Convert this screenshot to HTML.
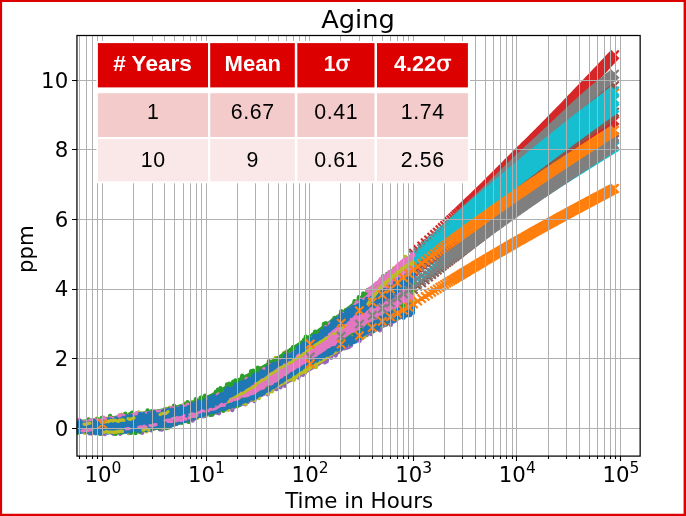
<!DOCTYPE html>
<html lang="en"><head><meta charset="utf-8"><title>Aging</title>
<style>html,body{margin:0;padding:0;background:#fff;overflow:hidden}svg{display:block}</style>
</head><body>
<svg width="686" height="516" viewBox="0 0 686 516">
<rect x="0" y="0" width="686" height="516" fill="#fff"/>
<defs><clipPath id="ax"><rect x="76.95" y="35.5" width="563.1999999999999" height="420.6"/></clipPath></defs>
<g clip-path="url(#ax)">
<path d="M409.3 248.9l8.34 8.34m0-8.34l-8.34 8.34M413.5 245.2l8.34 8.34m0-8.34l-8.34 8.34M417.5 241.8l8.34 8.34m0-8.34l-8.34 8.34M421.0 238.6l8.34 8.34m0-8.34l-8.34 8.34M424.4 235.7l8.34 8.34m0-8.34l-8.34 8.34M427.5 232.9l8.34 8.34m0-8.34l-8.34 8.34M430.4 230.3l8.34 8.34m0-8.34l-8.34 8.34M433.1 227.9l8.34 8.34m0-8.34l-8.34 8.34M435.7 225.5l8.34 8.34m0-8.34l-8.34 8.34M438.1 223.3l8.34 8.34m0-8.34l-8.34 8.34M440.4 221.2l8.34 8.34m0-8.34l-8.34 8.34M442.6 219.2l8.34 8.34m0-8.34l-8.34 8.34M444.7 217.3l8.34 8.34m0-8.34l-8.34 8.34M446.7 215.5l8.34 8.34m0-8.34l-8.34 8.34M448.6 213.7l8.34 8.34m0-8.34l-8.34 8.34M450.5 212.0l8.34 8.34m0-8.34l-8.34 8.34M452.2 210.3l8.34 8.34m0-8.34l-8.34 8.34M453.9 208.8l8.34 8.34m0-8.34l-8.34 8.34M455.6 207.2l8.34 8.34m0-8.34l-8.34 8.34M457.1 205.8l8.34 8.34m0-8.34l-8.34 8.34M458.7 204.3l8.34 8.34m0-8.34l-8.34 8.34M460.1 202.9l8.34 8.34m0-8.34l-8.34 8.34M461.6 201.6l8.34 8.34m0-8.34l-8.34 8.34M462.9 200.3l8.34 8.34m0-8.34l-8.34 8.34M464.3 199.0l8.34 8.34m0-8.34l-8.34 8.34M465.6 197.8l8.34 8.34m0-8.34l-8.34 8.34M466.9 196.6l8.34 8.34m0-8.34l-8.34 8.34M468.1 195.4l8.34 8.34m0-8.34l-8.34 8.34M469.3 194.3l8.34 8.34m0-8.34l-8.34 8.34M470.5 193.2l8.34 8.34m0-8.34l-8.34 8.34M471.6 192.1l8.34 8.34m0-8.34l-8.34 8.34M472.7 191.0l8.34 8.34m0-8.34l-8.34 8.34M473.8 190.0l8.34 8.34m0-8.34l-8.34 8.34M474.8 189.0l8.34 8.34m0-8.34l-8.34 8.34M475.9 188.0l8.34 8.34m0-8.34l-8.34 8.34M476.9 187.0l8.34 8.34m0-8.34l-8.34 8.34M477.9 186.0l8.34 8.34m0-8.34l-8.34 8.34M478.8 185.1l8.34 8.34m0-8.34l-8.34 8.34M479.8 184.2l8.34 8.34m0-8.34l-8.34 8.34M480.7 183.3l8.34 8.34m0-8.34l-8.34 8.34M481.6 182.4l8.34 8.34m0-8.34l-8.34 8.34M482.5 181.5l8.34 8.34m0-8.34l-8.34 8.34M483.4 180.6l8.34 8.34m0-8.34l-8.34 8.34M484.3 179.8l8.34 8.34m0-8.34l-8.34 8.34M485.1 178.9l8.34 8.34m0-8.34l-8.34 8.34M485.9 178.1l8.34 8.34m0-8.34l-8.34 8.34M486.7 177.3l8.34 8.34m0-8.34l-8.34 8.34M487.5 176.5l8.34 8.34m0-8.34l-8.34 8.34M488.3 175.7l8.34 8.34m0-8.34l-8.34 8.34M489.8 174.2l8.34 8.34m0-8.34l-8.34 8.34M491.3 172.7l8.34 8.34m0-8.34l-8.34 8.34M492.7 171.3l8.34 8.34m0-8.34l-8.34 8.34M494.1 169.9l8.34 8.34m0-8.34l-8.34 8.34M495.5 168.6l8.34 8.34m0-8.34l-8.34 8.34M496.8 167.3l8.34 8.34m0-8.34l-8.34 8.34M498.0 166.0l8.34 8.34m0-8.34l-8.34 8.34M499.3 164.8l8.34 8.34m0-8.34l-8.34 8.34M500.5 163.6l8.34 8.34m0-8.34l-8.34 8.34M501.6 162.4l8.34 8.34m0-8.34l-8.34 8.34M502.8 161.2l8.34 8.34m0-8.34l-8.34 8.34M503.9 160.1l8.34 8.34m0-8.34l-8.34 8.34M505.0 159.0l8.34 8.34m0-8.34l-8.34 8.34M506.0 158.0l8.34 8.34m0-8.34l-8.34 8.34M507.1 156.9l8.34 8.34m0-8.34l-8.34 8.34M508.1 155.9l8.34 8.34m0-8.34l-8.34 8.34M509.1 154.9l8.34 8.34m0-8.34l-8.34 8.34M510.0 154.0l8.34 8.34m0-8.34l-8.34 8.34M511.0 153.0l8.34 8.34m0-8.34l-8.34 8.34M511.9 152.1l8.34 8.34m0-8.34l-8.34 8.34M512.8 151.2l8.34 8.34m0-8.34l-8.34 8.34M513.7 150.3l8.34 8.34m0-8.34l-8.34 8.34M514.6 149.4l8.34 8.34m0-8.34l-8.34 8.34M515.4 148.6l8.34 8.34m0-8.34l-8.34 8.34M516.3 147.8l8.34 8.34m0-8.34l-8.34 8.34M517.1 146.9l8.34 8.34m0-8.34l-8.34 8.34M517.9 146.1l8.34 8.34m0-8.34l-8.34 8.34M518.7 145.4l8.34 8.34m0-8.34l-8.34 8.34M519.9 144.2l8.34 8.34m0-8.34l-8.34 8.34M521.0 143.1l8.34 8.34m0-8.34l-8.34 8.34M522.1 142.0l8.34 8.34m0-8.34l-8.34 8.34M523.2 140.9l8.34 8.34m0-8.34l-8.34 8.34M524.3 139.9l8.34 8.34m0-8.34l-8.34 8.34M525.3 138.9l8.34 8.34m0-8.34l-8.34 8.34M526.3 137.9l8.34 8.34m0-8.34l-8.34 8.34M527.3 136.9l8.34 8.34m0-8.34l-8.34 8.34M528.3 135.9l8.34 8.34m0-8.34l-8.34 8.34M529.2 135.0l8.34 8.34m0-8.34l-8.34 8.34M530.1 134.1l8.34 8.34m0-8.34l-8.34 8.34M531.1 133.2l8.34 8.34m0-8.34l-8.34 8.34M531.9 132.3l8.34 8.34m0-8.34l-8.34 8.34M532.8 131.4l8.34 8.34m0-8.34l-8.34 8.34M533.7 130.6l8.34 8.34m0-8.34l-8.34 8.34M534.5 129.7l8.34 8.34m0-8.34l-8.34 8.34M535.3 128.9l8.34 8.34m0-8.34l-8.34 8.34M536.2 128.1l8.34 8.34m0-8.34l-8.34 8.34M537.0 127.3l8.34 8.34m0-8.34l-8.34 8.34M537.7 126.5l8.34 8.34m0-8.34l-8.34 8.34M538.8 125.5l8.34 8.34m0-8.34l-8.34 8.34M539.8 124.5l8.34 8.34m0-8.34l-8.34 8.34M540.7 123.5l8.34 8.34m0-8.34l-8.34 8.34M541.7 122.6l8.34 8.34m0-8.34l-8.34 8.34M542.6 121.6l8.34 8.34m0-8.34l-8.34 8.34M543.5 120.7l8.34 8.34m0-8.34l-8.34 8.34M544.4 119.8l8.34 8.34m0-8.34l-8.34 8.34M545.3 118.9l8.34 8.34m0-8.34l-8.34 8.34M546.2 118.0l8.34 8.34m0-8.34l-8.34 8.34M547.0 117.1l8.34 8.34m0-8.34l-8.34 8.34M547.9 116.3l8.34 8.34m0-8.34l-8.34 8.34M548.7 115.4l8.34 8.34m0-8.34l-8.34 8.34M549.5 114.6l8.34 8.34m0-8.34l-8.34 8.34M550.3 113.8l8.34 8.34m0-8.34l-8.34 8.34M551.1 113.0l8.34 8.34m0-8.34l-8.34 8.34M552.0 112.0l8.34 8.34m0-8.34l-8.34 8.34M552.9 111.1l8.34 8.34m0-8.34l-8.34 8.34M553.9 110.1l8.34 8.34m0-8.34l-8.34 8.34M554.8 109.2l8.34 8.34m0-8.34l-8.34 8.34M555.6 108.3l8.34 8.34m0-8.34l-8.34 8.34M556.5 107.4l8.34 8.34m0-8.34l-8.34 8.34M557.3 106.6l8.34 8.34m0-8.34l-8.34 8.34M558.2 105.7l8.34 8.34m0-8.34l-8.34 8.34M559.0 104.9l8.34 8.34m0-8.34l-8.34 8.34M559.8 104.0l8.34 8.34m0-8.34l-8.34 8.34M560.6 103.2l8.34 8.34m0-8.34l-8.34 8.34M561.3 102.4l8.34 8.34m0-8.34l-8.34 8.34M562.2 101.5l8.34 8.34m0-8.34l-8.34 8.34M563.1 100.6l8.34 8.34m0-8.34l-8.34 8.34M564.0 99.6l8.34 8.34m0-8.34l-8.34 8.34M564.9 98.8l8.34 8.34m0-8.34l-8.34 8.34M565.7 97.9l8.34 8.34m0-8.34l-8.34 8.34M566.5 97.0l8.34 8.34m0-8.34l-8.34 8.34M567.3 96.2l8.34 8.34m0-8.34l-8.34 8.34M568.1 95.3l8.34 8.34m0-8.34l-8.34 8.34M568.9 94.5l8.34 8.34m0-8.34l-8.34 8.34M569.7 93.7l8.34 8.34m0-8.34l-8.34 8.34M570.6 92.8l8.34 8.34m0-8.34l-8.34 8.34M571.4 91.9l8.34 8.34m0-8.34l-8.34 8.34M572.3 91.0l8.34 8.34m0-8.34l-8.34 8.34M573.1 90.1l8.34 8.34m0-8.34l-8.34 8.34M573.9 89.3l8.34 8.34m0-8.34l-8.34 8.34M574.7 88.4l8.34 8.34m0-8.34l-8.34 8.34M575.5 87.6l8.34 8.34m0-8.34l-8.34 8.34M576.3 86.8l8.34 8.34m0-8.34l-8.34 8.34M577.1 86.0l8.34 8.34m0-8.34l-8.34 8.34M577.9 85.1l8.34 8.34m0-8.34l-8.34 8.34M578.8 84.2l8.34 8.34m0-8.34l-8.34 8.34M579.6 83.4l8.34 8.34m0-8.34l-8.34 8.34M580.4 82.5l8.34 8.34m0-8.34l-8.34 8.34M581.2 81.7l8.34 8.34m0-8.34l-8.34 8.34M582.0 80.9l8.34 8.34m0-8.34l-8.34 8.34M582.7 80.1l8.34 8.34m0-8.34l-8.34 8.34M583.6 79.2l8.34 8.34m0-8.34l-8.34 8.34M584.4 78.3l8.34 8.34m0-8.34l-8.34 8.34M585.2 77.4l8.34 8.34m0-8.34l-8.34 8.34M586.0 76.6l8.34 8.34m0-8.34l-8.34 8.34M586.8 75.7l8.34 8.34m0-8.34l-8.34 8.34M587.6 74.9l8.34 8.34m0-8.34l-8.34 8.34M588.4 74.1l8.34 8.34m0-8.34l-8.34 8.34M589.2 73.2l8.34 8.34m0-8.34l-8.34 8.34M590.0 72.4l8.34 8.34m0-8.34l-8.34 8.34M590.8 71.5l8.34 8.34m0-8.34l-8.34 8.34M591.6 70.7l8.34 8.34m0-8.34l-8.34 8.34M592.4 69.9l8.34 8.34m0-8.34l-8.34 8.34M593.1 69.1l8.34 8.34m0-8.34l-8.34 8.34M593.9 68.2l8.34 8.34m0-8.34l-8.34 8.34M594.8 67.3l8.34 8.34m0-8.34l-8.34 8.34M595.6 66.5l8.34 8.34m0-8.34l-8.34 8.34M596.3 65.7l8.34 8.34m0-8.34l-8.34 8.34M597.1 64.9l8.34 8.34m0-8.34l-8.34 8.34M597.9 64.1l8.34 8.34m0-8.34l-8.34 8.34M598.7 63.2l8.34 8.34m0-8.34l-8.34 8.34M599.5 62.3l8.34 8.34m0-8.34l-8.34 8.34M600.2 61.5l8.34 8.34m0-8.34l-8.34 8.34M601.0 60.7l8.34 8.34m0-8.34l-8.34 8.34M601.8 59.9l8.34 8.34m0-8.34l-8.34 8.34M602.6 59.0l8.34 8.34m0-8.34l-8.34 8.34M603.3 58.2l8.34 8.34m0-8.34l-8.34 8.34M604.1 57.4l8.34 8.34m0-8.34l-8.34 8.34M604.9 56.5l8.34 8.34m0-8.34l-8.34 8.34M605.7 55.7l8.34 8.34m0-8.34l-8.34 8.34M606.5 54.8l8.34 8.34m0-8.34l-8.34 8.34M607.3 54.0l8.34 8.34m0-8.34l-8.34 8.34M608.0 53.2l8.34 8.34m0-8.34l-8.34 8.34M608.8 52.4l8.34 8.34m0-8.34l-8.34 8.34M609.6 51.5l8.34 8.34m0-8.34l-8.34 8.34M610.4 50.7l8.34 8.34m0-8.34l-8.34 8.34M610.4 50.6l8.34 8.34m0-8.34l-8.34 8.34" stroke="#d62728" stroke-width="2.1" fill="none"/>
<path d="M409.3 256.9l8.34 8.34m0-8.34l-8.34 8.34M413.5 252.8l8.34 8.34m0-8.34l-8.34 8.34M417.5 249.0l8.34 8.34m0-8.34l-8.34 8.34M421.0 245.5l8.34 8.34m0-8.34l-8.34 8.34M424.4 242.3l8.34 8.34m0-8.34l-8.34 8.34M427.5 239.4l8.34 8.34m0-8.34l-8.34 8.34M430.4 236.7l8.34 8.34m0-8.34l-8.34 8.34M433.1 234.1l8.34 8.34m0-8.34l-8.34 8.34M435.7 231.7l8.34 8.34m0-8.34l-8.34 8.34M438.1 229.5l8.34 8.34m0-8.34l-8.34 8.34M440.4 227.4l8.34 8.34m0-8.34l-8.34 8.34M442.6 225.4l8.34 8.34m0-8.34l-8.34 8.34M444.7 223.5l8.34 8.34m0-8.34l-8.34 8.34M446.7 221.6l8.34 8.34m0-8.34l-8.34 8.34M448.6 219.9l8.34 8.34m0-8.34l-8.34 8.34M450.5 218.2l8.34 8.34m0-8.34l-8.34 8.34M452.2 216.6l8.34 8.34m0-8.34l-8.34 8.34M453.9 215.1l8.34 8.34m0-8.34l-8.34 8.34M455.6 213.6l8.34 8.34m0-8.34l-8.34 8.34M457.1 212.1l8.34 8.34m0-8.34l-8.34 8.34M458.7 210.8l8.34 8.34m0-8.34l-8.34 8.34M460.1 209.4l8.34 8.34m0-8.34l-8.34 8.34M461.6 208.1l8.34 8.34m0-8.34l-8.34 8.34M462.9 206.9l8.34 8.34m0-8.34l-8.34 8.34M464.3 205.6l8.34 8.34m0-8.34l-8.34 8.34M465.6 204.5l8.34 8.34m0-8.34l-8.34 8.34M466.9 203.3l8.34 8.34m0-8.34l-8.34 8.34M468.1 202.2l8.34 8.34m0-8.34l-8.34 8.34M469.3 201.1l8.34 8.34m0-8.34l-8.34 8.34M470.5 200.0l8.34 8.34m0-8.34l-8.34 8.34M471.6 199.0l8.34 8.34m0-8.34l-8.34 8.34M472.7 198.0l8.34 8.34m0-8.34l-8.34 8.34M473.8 197.0l8.34 8.34m0-8.34l-8.34 8.34M474.8 196.1l8.34 8.34m0-8.34l-8.34 8.34M475.9 195.1l8.34 8.34m0-8.34l-8.34 8.34M476.9 194.2l8.34 8.34m0-8.34l-8.34 8.34M477.9 193.3l8.34 8.34m0-8.34l-8.34 8.34M478.8 192.5l8.34 8.34m0-8.34l-8.34 8.34M479.8 191.6l8.34 8.34m0-8.34l-8.34 8.34M480.7 190.8l8.34 8.34m0-8.34l-8.34 8.34M481.6 190.0l8.34 8.34m0-8.34l-8.34 8.34M482.5 189.2l8.34 8.34m0-8.34l-8.34 8.34M483.4 188.4l8.34 8.34m0-8.34l-8.34 8.34M484.3 187.6l8.34 8.34m0-8.34l-8.34 8.34M485.1 186.9l8.34 8.34m0-8.34l-8.34 8.34M485.9 186.1l8.34 8.34m0-8.34l-8.34 8.34M487.5 184.7l8.34 8.34m0-8.34l-8.34 8.34M489.1 183.3l8.34 8.34m0-8.34l-8.34 8.34M490.6 182.0l8.34 8.34m0-8.34l-8.34 8.34M492.0 180.7l8.34 8.34m0-8.34l-8.34 8.34M493.4 179.4l8.34 8.34m0-8.34l-8.34 8.34M494.8 178.2l8.34 8.34m0-8.34l-8.34 8.34M496.1 177.1l8.34 8.34m0-8.34l-8.34 8.34M497.4 175.9l8.34 8.34m0-8.34l-8.34 8.34M498.7 174.8l8.34 8.34m0-8.34l-8.34 8.34M499.9 173.7l8.34 8.34m0-8.34l-8.34 8.34M501.1 172.7l8.34 8.34m0-8.34l-8.34 8.34M502.2 171.7l8.34 8.34m0-8.34l-8.34 8.34M503.3 170.7l8.34 8.34m0-8.34l-8.34 8.34M504.4 169.7l8.34 8.34m0-8.34l-8.34 8.34M505.5 168.8l8.34 8.34m0-8.34l-8.34 8.34M506.5 167.9l8.34 8.34m0-8.34l-8.34 8.34M507.6 167.0l8.34 8.34m0-8.34l-8.34 8.34M508.6 166.1l8.34 8.34m0-8.34l-8.34 8.34M509.5 165.2l8.34 8.34m0-8.34l-8.34 8.34M510.5 164.4l8.34 8.34m0-8.34l-8.34 8.34M511.4 163.6l8.34 8.34m0-8.34l-8.34 8.34M512.4 162.8l8.34 8.34m0-8.34l-8.34 8.34M513.3 162.0l8.34 8.34m0-8.34l-8.34 8.34M514.1 161.2l8.34 8.34m0-8.34l-8.34 8.34M515.0 160.5l8.34 8.34m0-8.34l-8.34 8.34M515.9 159.7l8.34 8.34m0-8.34l-8.34 8.34M516.7 159.0l8.34 8.34m0-8.34l-8.34 8.34M517.9 158.0l8.34 8.34m0-8.34l-8.34 8.34M519.1 156.9l8.34 8.34m0-8.34l-8.34 8.34M520.3 155.9l8.34 8.34m0-8.34l-8.34 8.34M521.4 155.0l8.34 8.34m0-8.34l-8.34 8.34M522.5 154.0l8.34 8.34m0-8.34l-8.34 8.34M523.6 153.1l8.34 8.34m0-8.34l-8.34 8.34M524.6 152.2l8.34 8.34m0-8.34l-8.34 8.34M525.6 151.3l8.34 8.34m0-8.34l-8.34 8.34M526.6 150.4l8.34 8.34m0-8.34l-8.34 8.34M527.6 149.6l8.34 8.34m0-8.34l-8.34 8.34M528.6 148.8l8.34 8.34m0-8.34l-8.34 8.34M529.5 148.0l8.34 8.34m0-8.34l-8.34 8.34M530.5 147.2l8.34 8.34m0-8.34l-8.34 8.34M531.4 146.4l8.34 8.34m0-8.34l-8.34 8.34M532.2 145.7l8.34 8.34m0-8.34l-8.34 8.34M533.1 144.9l8.34 8.34m0-8.34l-8.34 8.34M534.0 144.2l8.34 8.34m0-8.34l-8.34 8.34M535.1 143.3l8.34 8.34m0-8.34l-8.34 8.34M536.2 142.4l8.34 8.34m0-8.34l-8.34 8.34M537.2 141.5l8.34 8.34m0-8.34l-8.34 8.34M538.2 140.6l8.34 8.34m0-8.34l-8.34 8.34M539.3 139.7l8.34 8.34m0-8.34l-8.34 8.34M540.2 138.9l8.34 8.34m0-8.34l-8.34 8.34M541.2 138.1l8.34 8.34m0-8.34l-8.34 8.34M542.2 137.3l8.34 8.34m0-8.34l-8.34 8.34M543.1 136.5l8.34 8.34m0-8.34l-8.34 8.34M544.0 135.7l8.34 8.34m0-8.34l-8.34 8.34M544.9 135.0l8.34 8.34m0-8.34l-8.34 8.34M545.8 134.3l8.34 8.34m0-8.34l-8.34 8.34M546.6 133.5l8.34 8.34m0-8.34l-8.34 8.34M547.7 132.7l8.34 8.34m0-8.34l-8.34 8.34M548.7 131.8l8.34 8.34m0-8.34l-8.34 8.34M549.7 131.0l8.34 8.34m0-8.34l-8.34 8.34M550.7 130.2l8.34 8.34m0-8.34l-8.34 8.34M551.6 129.4l8.34 8.34m0-8.34l-8.34 8.34M552.6 128.6l8.34 8.34m0-8.34l-8.34 8.34M553.5 127.8l8.34 8.34m0-8.34l-8.34 8.34M554.4 127.1l8.34 8.34m0-8.34l-8.34 8.34M555.3 126.3l8.34 8.34m0-8.34l-8.34 8.34M556.1 125.6l8.34 8.34m0-8.34l-8.34 8.34M557.0 124.9l8.34 8.34m0-8.34l-8.34 8.34M558.0 124.1l8.34 8.34m0-8.34l-8.34 8.34M559.0 123.3l8.34 8.34m0-8.34l-8.34 8.34M559.9 122.5l8.34 8.34m0-8.34l-8.34 8.34M560.9 121.7l8.34 8.34m0-8.34l-8.34 8.34M561.8 121.0l8.34 8.34m0-8.34l-8.34 8.34M562.7 120.2l8.34 8.34m0-8.34l-8.34 8.34M563.6 119.5l8.34 8.34m0-8.34l-8.34 8.34M564.4 118.8l8.34 8.34m0-8.34l-8.34 8.34M565.4 118.0l8.34 8.34m0-8.34l-8.34 8.34M566.4 117.2l8.34 8.34m0-8.34l-8.34 8.34M567.3 116.4l8.34 8.34m0-8.34l-8.34 8.34M568.3 115.6l8.34 8.34m0-8.34l-8.34 8.34M569.2 114.9l8.34 8.34m0-8.34l-8.34 8.34M570.1 114.2l8.34 8.34m0-8.34l-8.34 8.34M570.9 113.5l8.34 8.34m0-8.34l-8.34 8.34M571.8 112.8l8.34 8.34m0-8.34l-8.34 8.34M572.8 112.0l8.34 8.34m0-8.34l-8.34 8.34M573.7 111.2l8.34 8.34m0-8.34l-8.34 8.34M574.6 110.5l8.34 8.34m0-8.34l-8.34 8.34M575.5 109.7l8.34 8.34m0-8.34l-8.34 8.34M576.4 109.0l8.34 8.34m0-8.34l-8.34 8.34M577.3 108.3l8.34 8.34m0-8.34l-8.34 8.34M578.2 107.5l8.34 8.34m0-8.34l-8.34 8.34M579.2 106.8l8.34 8.34m0-8.34l-8.34 8.34M580.1 106.0l8.34 8.34m0-8.34l-8.34 8.34M581.0 105.3l8.34 8.34m0-8.34l-8.34 8.34M581.9 104.6l8.34 8.34m0-8.34l-8.34 8.34M582.7 103.9l8.34 8.34m0-8.34l-8.34 8.34M583.7 103.1l8.34 8.34m0-8.34l-8.34 8.34M584.6 102.4l8.34 8.34m0-8.34l-8.34 8.34M585.5 101.6l8.34 8.34m0-8.34l-8.34 8.34M586.4 100.9l8.34 8.34m0-8.34l-8.34 8.34M587.2 100.2l8.34 8.34m0-8.34l-8.34 8.34M588.2 99.5l8.34 8.34m0-8.34l-8.34 8.34M589.1 98.7l8.34 8.34m0-8.34l-8.34 8.34M590.0 98.0l8.34 8.34m0-8.34l-8.34 8.34M590.9 97.3l8.34 8.34m0-8.34l-8.34 8.34M591.7 96.6l8.34 8.34m0-8.34l-8.34 8.34M592.7 95.8l8.34 8.34m0-8.34l-8.34 8.34M593.6 95.1l8.34 8.34m0-8.34l-8.34 8.34M594.5 94.4l8.34 8.34m0-8.34l-8.34 8.34M595.3 93.7l8.34 8.34m0-8.34l-8.34 8.34M596.3 93.0l8.34 8.34m0-8.34l-8.34 8.34M597.2 92.2l8.34 8.34m0-8.34l-8.34 8.34M598.1 91.5l8.34 8.34m0-8.34l-8.34 8.34M598.9 90.8l8.34 8.34m0-8.34l-8.34 8.34M599.8 90.1l8.34 8.34m0-8.34l-8.34 8.34M600.7 89.3l8.34 8.34m0-8.34l-8.34 8.34M601.6 88.6l8.34 8.34m0-8.34l-8.34 8.34M602.5 87.9l8.34 8.34m0-8.34l-8.34 8.34M603.4 87.2l8.34 8.34m0-8.34l-8.34 8.34M604.3 86.5l8.34 8.34m0-8.34l-8.34 8.34M605.2 85.8l8.34 8.34m0-8.34l-8.34 8.34M606.0 85.1l8.34 8.34m0-8.34l-8.34 8.34M606.9 84.4l8.34 8.34m0-8.34l-8.34 8.34M607.8 83.7l8.34 8.34m0-8.34l-8.34 8.34M608.7 83.0l8.34 8.34m0-8.34l-8.34 8.34M609.6 82.3l8.34 8.34m0-8.34l-8.34 8.34M610.4 81.6l8.34 8.34m0-8.34l-8.34 8.34" stroke="#8c564b" stroke-width="2.1" fill="none"/>
<path d="M409.3 258.3l8.34 8.34m0-8.34l-8.34 8.34M413.5 254.3l8.34 8.34m0-8.34l-8.34 8.34M417.5 250.6l8.34 8.34m0-8.34l-8.34 8.34M421.0 247.3l8.34 8.34m0-8.34l-8.34 8.34M424.4 244.2l8.34 8.34m0-8.34l-8.34 8.34M427.5 241.4l8.34 8.34m0-8.34l-8.34 8.34M430.4 238.7l8.34 8.34m0-8.34l-8.34 8.34M433.1 236.3l8.34 8.34m0-8.34l-8.34 8.34M435.7 234.0l8.34 8.34m0-8.34l-8.34 8.34M438.1 231.8l8.34 8.34m0-8.34l-8.34 8.34M440.4 229.8l8.34 8.34m0-8.34l-8.34 8.34M442.6 227.8l8.34 8.34m0-8.34l-8.34 8.34M444.7 226.0l8.34 8.34m0-8.34l-8.34 8.34M446.7 224.2l8.34 8.34m0-8.34l-8.34 8.34M448.6 222.5l8.34 8.34m0-8.34l-8.34 8.34M450.5 220.9l8.34 8.34m0-8.34l-8.34 8.34M452.2 219.4l8.34 8.34m0-8.34l-8.34 8.34M453.9 217.9l8.34 8.34m0-8.34l-8.34 8.34M455.6 216.4l8.34 8.34m0-8.34l-8.34 8.34M457.1 215.0l8.34 8.34m0-8.34l-8.34 8.34M458.7 213.7l8.34 8.34m0-8.34l-8.34 8.34M460.1 212.4l8.34 8.34m0-8.34l-8.34 8.34M461.6 211.2l8.34 8.34m0-8.34l-8.34 8.34M462.9 209.9l8.34 8.34m0-8.34l-8.34 8.34M464.3 208.8l8.34 8.34m0-8.34l-8.34 8.34M465.6 207.6l8.34 8.34m0-8.34l-8.34 8.34M466.9 206.5l8.34 8.34m0-8.34l-8.34 8.34M468.1 205.4l8.34 8.34m0-8.34l-8.34 8.34M469.3 204.4l8.34 8.34m0-8.34l-8.34 8.34M470.5 203.4l8.34 8.34m0-8.34l-8.34 8.34M471.6 202.4l8.34 8.34m0-8.34l-8.34 8.34M472.7 201.4l8.34 8.34m0-8.34l-8.34 8.34M473.8 200.4l8.34 8.34m0-8.34l-8.34 8.34M474.8 199.5l8.34 8.34m0-8.34l-8.34 8.34M475.9 198.6l8.34 8.34m0-8.34l-8.34 8.34M476.9 197.7l8.34 8.34m0-8.34l-8.34 8.34M477.9 196.9l8.34 8.34m0-8.34l-8.34 8.34M478.8 196.0l8.34 8.34m0-8.34l-8.34 8.34M479.8 195.2l8.34 8.34m0-8.34l-8.34 8.34M480.7 194.4l8.34 8.34m0-8.34l-8.34 8.34M481.6 193.6l8.34 8.34m0-8.34l-8.34 8.34M482.5 192.9l8.34 8.34m0-8.34l-8.34 8.34M483.4 192.1l8.34 8.34m0-8.34l-8.34 8.34M484.3 191.4l8.34 8.34m0-8.34l-8.34 8.34M485.1 190.6l8.34 8.34m0-8.34l-8.34 8.34M486.7 189.2l8.34 8.34m0-8.34l-8.34 8.34M488.3 187.9l8.34 8.34m0-8.34l-8.34 8.34M489.8 186.5l8.34 8.34m0-8.34l-8.34 8.34M491.3 185.3l8.34 8.34m0-8.34l-8.34 8.34M492.7 184.0l8.34 8.34m0-8.34l-8.34 8.34M494.1 182.9l8.34 8.34m0-8.34l-8.34 8.34M495.5 181.7l8.34 8.34m0-8.34l-8.34 8.34M496.8 180.6l8.34 8.34m0-8.34l-8.34 8.34M498.0 179.5l8.34 8.34m0-8.34l-8.34 8.34M499.3 178.5l8.34 8.34m0-8.34l-8.34 8.34M500.5 177.4l8.34 8.34m0-8.34l-8.34 8.34M501.6 176.4l8.34 8.34m0-8.34l-8.34 8.34M502.8 175.5l8.34 8.34m0-8.34l-8.34 8.34M503.9 174.5l8.34 8.34m0-8.34l-8.34 8.34M505.0 173.6l8.34 8.34m0-8.34l-8.34 8.34M506.0 172.7l8.34 8.34m0-8.34l-8.34 8.34M507.1 171.8l8.34 8.34m0-8.34l-8.34 8.34M508.1 171.0l8.34 8.34m0-8.34l-8.34 8.34M509.1 170.1l8.34 8.34m0-8.34l-8.34 8.34M510.0 169.3l8.34 8.34m0-8.34l-8.34 8.34M511.0 168.5l8.34 8.34m0-8.34l-8.34 8.34M511.9 167.7l8.34 8.34m0-8.34l-8.34 8.34M512.8 167.0l8.34 8.34m0-8.34l-8.34 8.34M513.7 166.2l8.34 8.34m0-8.34l-8.34 8.34M514.6 165.5l8.34 8.34m0-8.34l-8.34 8.34M515.4 164.8l8.34 8.34m0-8.34l-8.34 8.34M516.7 163.7l8.34 8.34m0-8.34l-8.34 8.34M517.9 162.7l8.34 8.34m0-8.34l-8.34 8.34M519.1 161.7l8.34 8.34m0-8.34l-8.34 8.34M520.3 160.7l8.34 8.34m0-8.34l-8.34 8.34M521.4 159.8l8.34 8.34m0-8.34l-8.34 8.34M522.5 158.9l8.34 8.34m0-8.34l-8.34 8.34M523.6 158.0l8.34 8.34m0-8.34l-8.34 8.34M524.6 157.1l8.34 8.34m0-8.34l-8.34 8.34M525.6 156.3l8.34 8.34m0-8.34l-8.34 8.34M526.6 155.4l8.34 8.34m0-8.34l-8.34 8.34M527.6 154.6l8.34 8.34m0-8.34l-8.34 8.34M528.6 153.8l8.34 8.34m0-8.34l-8.34 8.34M529.5 153.1l8.34 8.34m0-8.34l-8.34 8.34M530.5 152.3l8.34 8.34m0-8.34l-8.34 8.34M531.4 151.5l8.34 8.34m0-8.34l-8.34 8.34M532.2 150.8l8.34 8.34m0-8.34l-8.34 8.34M533.1 150.1l8.34 8.34m0-8.34l-8.34 8.34M534.0 149.4l8.34 8.34m0-8.34l-8.34 8.34M535.1 148.5l8.34 8.34m0-8.34l-8.34 8.34M536.2 147.6l8.34 8.34m0-8.34l-8.34 8.34M537.2 146.7l8.34 8.34m0-8.34l-8.34 8.34M538.2 145.9l8.34 8.34m0-8.34l-8.34 8.34M539.3 145.1l8.34 8.34m0-8.34l-8.34 8.34M540.2 144.3l8.34 8.34m0-8.34l-8.34 8.34M541.2 143.5l8.34 8.34m0-8.34l-8.34 8.34M542.2 142.7l8.34 8.34m0-8.34l-8.34 8.34M543.1 142.0l8.34 8.34m0-8.34l-8.34 8.34M544.0 141.2l8.34 8.34m0-8.34l-8.34 8.34M544.9 140.5l8.34 8.34m0-8.34l-8.34 8.34M545.8 139.8l8.34 8.34m0-8.34l-8.34 8.34M546.6 139.1l8.34 8.34m0-8.34l-8.34 8.34M547.7 138.3l8.34 8.34m0-8.34l-8.34 8.34M548.7 137.4l8.34 8.34m0-8.34l-8.34 8.34M549.7 136.6l8.34 8.34m0-8.34l-8.34 8.34M550.7 135.8l8.34 8.34m0-8.34l-8.34 8.34M551.6 135.1l8.34 8.34m0-8.34l-8.34 8.34M552.6 134.3l8.34 8.34m0-8.34l-8.34 8.34M553.5 133.6l8.34 8.34m0-8.34l-8.34 8.34M554.4 132.8l8.34 8.34m0-8.34l-8.34 8.34M555.3 132.1l8.34 8.34m0-8.34l-8.34 8.34M556.1 131.4l8.34 8.34m0-8.34l-8.34 8.34M557.2 130.6l8.34 8.34m0-8.34l-8.34 8.34M558.2 129.8l8.34 8.34m0-8.34l-8.34 8.34M559.1 129.1l8.34 8.34m0-8.34l-8.34 8.34M560.1 128.3l8.34 8.34m0-8.34l-8.34 8.34M561.0 127.5l8.34 8.34m0-8.34l-8.34 8.34M561.9 126.8l8.34 8.34m0-8.34l-8.34 8.34M562.8 126.1l8.34 8.34m0-8.34l-8.34 8.34M563.7 125.4l8.34 8.34m0-8.34l-8.34 8.34M564.6 124.7l8.34 8.34m0-8.34l-8.34 8.34M565.6 123.9l8.34 8.34m0-8.34l-8.34 8.34M566.5 123.2l8.34 8.34m0-8.34l-8.34 8.34M567.5 122.4l8.34 8.34m0-8.34l-8.34 8.34M568.4 121.7l8.34 8.34m0-8.34l-8.34 8.34M569.3 121.0l8.34 8.34m0-8.34l-8.34 8.34M570.2 120.3l8.34 8.34m0-8.34l-8.34 8.34M571.1 119.6l8.34 8.34m0-8.34l-8.34 8.34M572.0 118.8l8.34 8.34m0-8.34l-8.34 8.34M573.0 118.1l8.34 8.34m0-8.34l-8.34 8.34M573.9 117.3l8.34 8.34m0-8.34l-8.34 8.34M574.8 116.6l8.34 8.34m0-8.34l-8.34 8.34M575.7 115.9l8.34 8.34m0-8.34l-8.34 8.34M576.6 115.2l8.34 8.34m0-8.34l-8.34 8.34M577.6 114.5l8.34 8.34m0-8.34l-8.34 8.34M578.5 113.7l8.34 8.34m0-8.34l-8.34 8.34M579.5 113.0l8.34 8.34m0-8.34l-8.34 8.34M580.4 112.3l8.34 8.34m0-8.34l-8.34 8.34M581.3 111.6l8.34 8.34m0-8.34l-8.34 8.34M582.2 110.9l8.34 8.34m0-8.34l-8.34 8.34M583.1 110.1l8.34 8.34m0-8.34l-8.34 8.34M584.0 109.4l8.34 8.34m0-8.34l-8.34 8.34M585.0 108.7l8.34 8.34m0-8.34l-8.34 8.34M585.8 108.0l8.34 8.34m0-8.34l-8.34 8.34M586.7 107.3l8.34 8.34m0-8.34l-8.34 8.34M587.7 106.6l8.34 8.34m0-8.34l-8.34 8.34M588.6 105.8l8.34 8.34m0-8.34l-8.34 8.34M589.5 105.1l8.34 8.34m0-8.34l-8.34 8.34M590.4 104.4l8.34 8.34m0-8.34l-8.34 8.34M591.3 103.8l8.34 8.34m0-8.34l-8.34 8.34M592.2 103.0l8.34 8.34m0-8.34l-8.34 8.34M593.1 102.3l8.34 8.34m0-8.34l-8.34 8.34M594.0 101.6l8.34 8.34m0-8.34l-8.34 8.34M594.9 100.9l8.34 8.34m0-8.34l-8.34 8.34M595.8 100.2l8.34 8.34m0-8.34l-8.34 8.34M596.8 99.5l8.34 8.34m0-8.34l-8.34 8.34M597.6 98.8l8.34 8.34m0-8.34l-8.34 8.34M598.5 98.1l8.34 8.34m0-8.34l-8.34 8.34M599.5 97.4l8.34 8.34m0-8.34l-8.34 8.34M600.4 96.7l8.34 8.34m0-8.34l-8.34 8.34M601.3 96.0l8.34 8.34m0-8.34l-8.34 8.34M602.1 95.3l8.34 8.34m0-8.34l-8.34 8.34M603.0 94.6l8.34 8.34m0-8.34l-8.34 8.34M603.9 93.9l8.34 8.34m0-8.34l-8.34 8.34M604.8 93.2l8.34 8.34m0-8.34l-8.34 8.34M605.7 92.5l8.34 8.34m0-8.34l-8.34 8.34M606.7 91.8l8.34 8.34m0-8.34l-8.34 8.34M607.5 91.1l8.34 8.34m0-8.34l-8.34 8.34M608.5 90.4l8.34 8.34m0-8.34l-8.34 8.34M609.4 89.7l8.34 8.34m0-8.34l-8.34 8.34M610.2 89.0l8.34 8.34m0-8.34l-8.34 8.34M610.4 88.9l8.34 8.34m0-8.34l-8.34 8.34" stroke="#ff7f0e" stroke-width="2.1" fill="none"/>
<path d="M409.3 251.0l8.34 8.34m0-8.34l-8.34 8.34M413.5 247.7l8.34 8.34m0-8.34l-8.34 8.34M417.5 244.6l8.34 8.34m0-8.34l-8.34 8.34M421.0 241.7l8.34 8.34m0-8.34l-8.34 8.34M424.4 239.0l8.34 8.34m0-8.34l-8.34 8.34M427.5 236.5l8.34 8.34m0-8.34l-8.34 8.34M430.4 234.0l8.34 8.34m0-8.34l-8.34 8.34M433.1 231.8l8.34 8.34m0-8.34l-8.34 8.34M435.7 229.6l8.34 8.34m0-8.34l-8.34 8.34M438.1 227.6l8.34 8.34m0-8.34l-8.34 8.34M440.4 225.6l8.34 8.34m0-8.34l-8.34 8.34M442.6 223.7l8.34 8.34m0-8.34l-8.34 8.34M444.7 221.9l8.34 8.34m0-8.34l-8.34 8.34M446.7 220.2l8.34 8.34m0-8.34l-8.34 8.34M448.6 218.5l8.34 8.34m0-8.34l-8.34 8.34M450.5 216.9l8.34 8.34m0-8.34l-8.34 8.34M452.2 215.4l8.34 8.34m0-8.34l-8.34 8.34M453.9 213.9l8.34 8.34m0-8.34l-8.34 8.34M455.6 212.4l8.34 8.34m0-8.34l-8.34 8.34M457.1 211.0l8.34 8.34m0-8.34l-8.34 8.34M458.7 209.7l8.34 8.34m0-8.34l-8.34 8.34M460.1 208.4l8.34 8.34m0-8.34l-8.34 8.34M461.6 207.1l8.34 8.34m0-8.34l-8.34 8.34M462.9 205.8l8.34 8.34m0-8.34l-8.34 8.34M464.3 204.6l8.34 8.34m0-8.34l-8.34 8.34M465.6 203.5l8.34 8.34m0-8.34l-8.34 8.34M466.9 202.3l8.34 8.34m0-8.34l-8.34 8.34M468.1 201.2l8.34 8.34m0-8.34l-8.34 8.34M469.3 200.1l8.34 8.34m0-8.34l-8.34 8.34M470.5 199.0l8.34 8.34m0-8.34l-8.34 8.34M471.6 198.0l8.34 8.34m0-8.34l-8.34 8.34M472.7 197.0l8.34 8.34m0-8.34l-8.34 8.34M473.8 196.0l8.34 8.34m0-8.34l-8.34 8.34M474.8 195.0l8.34 8.34m0-8.34l-8.34 8.34M475.9 194.0l8.34 8.34m0-8.34l-8.34 8.34M476.9 193.1l8.34 8.34m0-8.34l-8.34 8.34M477.9 192.1l8.34 8.34m0-8.34l-8.34 8.34M478.8 191.2l8.34 8.34m0-8.34l-8.34 8.34M479.8 190.3l8.34 8.34m0-8.34l-8.34 8.34M480.7 189.4l8.34 8.34m0-8.34l-8.34 8.34M481.6 188.5l8.34 8.34m0-8.34l-8.34 8.34M482.5 187.7l8.34 8.34m0-8.34l-8.34 8.34M483.4 186.8l8.34 8.34m0-8.34l-8.34 8.34M484.3 186.0l8.34 8.34m0-8.34l-8.34 8.34M485.1 185.1l8.34 8.34m0-8.34l-8.34 8.34M485.9 184.3l8.34 8.34m0-8.34l-8.34 8.34M486.7 183.5l8.34 8.34m0-8.34l-8.34 8.34M487.5 182.7l8.34 8.34m0-8.34l-8.34 8.34M488.3 182.0l8.34 8.34m0-8.34l-8.34 8.34M489.8 180.5l8.34 8.34m0-8.34l-8.34 8.34M491.3 179.0l8.34 8.34m0-8.34l-8.34 8.34M492.7 177.6l8.34 8.34m0-8.34l-8.34 8.34M494.1 176.2l8.34 8.34m0-8.34l-8.34 8.34M495.5 174.8l8.34 8.34m0-8.34l-8.34 8.34M496.8 173.5l8.34 8.34m0-8.34l-8.34 8.34M498.0 172.3l8.34 8.34m0-8.34l-8.34 8.34M499.3 171.0l8.34 8.34m0-8.34l-8.34 8.34M500.5 169.9l8.34 8.34m0-8.34l-8.34 8.34M501.6 168.7l8.34 8.34m0-8.34l-8.34 8.34M502.8 167.6l8.34 8.34m0-8.34l-8.34 8.34M503.9 166.5l8.34 8.34m0-8.34l-8.34 8.34M505.0 165.4l8.34 8.34m0-8.34l-8.34 8.34M506.0 164.4l8.34 8.34m0-8.34l-8.34 8.34M507.1 163.3l8.34 8.34m0-8.34l-8.34 8.34M508.1 162.4l8.34 8.34m0-8.34l-8.34 8.34M509.1 161.4l8.34 8.34m0-8.34l-8.34 8.34M510.0 160.5l8.34 8.34m0-8.34l-8.34 8.34M511.0 159.6l8.34 8.34m0-8.34l-8.34 8.34M511.9 158.7l8.34 8.34m0-8.34l-8.34 8.34M512.8 157.8l8.34 8.34m0-8.34l-8.34 8.34M513.7 157.0l8.34 8.34m0-8.34l-8.34 8.34M514.6 156.1l8.34 8.34m0-8.34l-8.34 8.34M515.4 155.3l8.34 8.34m0-8.34l-8.34 8.34M516.3 154.5l8.34 8.34m0-8.34l-8.34 8.34M517.1 153.8l8.34 8.34m0-8.34l-8.34 8.34M517.9 153.0l8.34 8.34m0-8.34l-8.34 8.34M519.1 151.9l8.34 8.34m0-8.34l-8.34 8.34M520.3 150.8l8.34 8.34m0-8.34l-8.34 8.34M521.4 149.8l8.34 8.34m0-8.34l-8.34 8.34M522.5 148.7l8.34 8.34m0-8.34l-8.34 8.34M523.6 147.7l8.34 8.34m0-8.34l-8.34 8.34M524.6 146.8l8.34 8.34m0-8.34l-8.34 8.34M525.6 145.8l8.34 8.34m0-8.34l-8.34 8.34M526.6 144.9l8.34 8.34m0-8.34l-8.34 8.34M527.6 144.0l8.34 8.34m0-8.34l-8.34 8.34M528.6 143.1l8.34 8.34m0-8.34l-8.34 8.34M529.5 142.2l8.34 8.34m0-8.34l-8.34 8.34M530.5 141.4l8.34 8.34m0-8.34l-8.34 8.34M531.4 140.6l8.34 8.34m0-8.34l-8.34 8.34M532.2 139.8l8.34 8.34m0-8.34l-8.34 8.34M533.1 139.0l8.34 8.34m0-8.34l-8.34 8.34M534.0 138.2l8.34 8.34m0-8.34l-8.34 8.34M534.8 137.4l8.34 8.34m0-8.34l-8.34 8.34M535.6 136.7l8.34 8.34m0-8.34l-8.34 8.34M536.7 135.7l8.34 8.34m0-8.34l-8.34 8.34M537.7 134.7l8.34 8.34m0-8.34l-8.34 8.34M538.8 133.8l8.34 8.34m0-8.34l-8.34 8.34M539.8 132.8l8.34 8.34m0-8.34l-8.34 8.34M540.7 131.9l8.34 8.34m0-8.34l-8.34 8.34M541.7 131.1l8.34 8.34m0-8.34l-8.34 8.34M542.6 130.2l8.34 8.34m0-8.34l-8.34 8.34M543.5 129.3l8.34 8.34m0-8.34l-8.34 8.34M544.4 128.5l8.34 8.34m0-8.34l-8.34 8.34M545.3 127.7l8.34 8.34m0-8.34l-8.34 8.34M546.2 126.9l8.34 8.34m0-8.34l-8.34 8.34M547.0 126.1l8.34 8.34m0-8.34l-8.34 8.34M547.9 125.3l8.34 8.34m0-8.34l-8.34 8.34M548.7 124.5l8.34 8.34m0-8.34l-8.34 8.34M549.5 123.8l8.34 8.34m0-8.34l-8.34 8.34M550.5 122.9l8.34 8.34m0-8.34l-8.34 8.34M551.4 121.9l8.34 8.34m0-8.34l-8.34 8.34M552.4 121.1l8.34 8.34m0-8.34l-8.34 8.34M553.3 120.2l8.34 8.34m0-8.34l-8.34 8.34M554.2 119.3l8.34 8.34m0-8.34l-8.34 8.34M555.1 118.5l8.34 8.34m0-8.34l-8.34 8.34M556.0 117.6l8.34 8.34m0-8.34l-8.34 8.34M556.8 116.8l8.34 8.34m0-8.34l-8.34 8.34M557.7 116.0l8.34 8.34m0-8.34l-8.34 8.34M558.5 115.3l8.34 8.34m0-8.34l-8.34 8.34M559.3 114.5l8.34 8.34m0-8.34l-8.34 8.34M560.2 113.6l8.34 8.34m0-8.34l-8.34 8.34M561.2 112.7l8.34 8.34m0-8.34l-8.34 8.34M562.1 111.8l8.34 8.34m0-8.34l-8.34 8.34M563.0 111.0l8.34 8.34m0-8.34l-8.34 8.34M563.9 110.2l8.34 8.34m0-8.34l-8.34 8.34M564.7 109.4l8.34 8.34m0-8.34l-8.34 8.34M565.6 108.6l8.34 8.34m0-8.34l-8.34 8.34M566.4 107.8l8.34 8.34m0-8.34l-8.34 8.34M567.2 107.0l8.34 8.34m0-8.34l-8.34 8.34M568.1 106.1l8.34 8.34m0-8.34l-8.34 8.34M569.0 105.3l8.34 8.34m0-8.34l-8.34 8.34M569.9 104.4l8.34 8.34m0-8.34l-8.34 8.34M570.8 103.6l8.34 8.34m0-8.34l-8.34 8.34M571.7 102.8l8.34 8.34m0-8.34l-8.34 8.34M572.5 102.1l8.34 8.34m0-8.34l-8.34 8.34M573.3 101.3l8.34 8.34m0-8.34l-8.34 8.34M574.2 100.5l8.34 8.34m0-8.34l-8.34 8.34M575.1 99.7l8.34 8.34m0-8.34l-8.34 8.34M576.0 98.9l8.34 8.34m0-8.34l-8.34 8.34M576.8 98.1l8.34 8.34m0-8.34l-8.34 8.34M577.7 97.3l8.34 8.34m0-8.34l-8.34 8.34M578.5 96.5l8.34 8.34m0-8.34l-8.34 8.34M579.4 95.8l8.34 8.34m0-8.34l-8.34 8.34M580.3 95.0l8.34 8.34m0-8.34l-8.34 8.34M581.2 94.2l8.34 8.34m0-8.34l-8.34 8.34M582.1 93.4l8.34 8.34m0-8.34l-8.34 8.34M582.9 92.7l8.34 8.34m0-8.34l-8.34 8.34M583.8 91.9l8.34 8.34m0-8.34l-8.34 8.34M584.7 91.1l8.34 8.34m0-8.34l-8.34 8.34M585.6 90.3l8.34 8.34m0-8.34l-8.34 8.34M586.5 89.6l8.34 8.34m0-8.34l-8.34 8.34M587.3 88.8l8.34 8.34m0-8.34l-8.34 8.34M588.2 88.1l8.34 8.34m0-8.34l-8.34 8.34M589.1 87.3l8.34 8.34m0-8.34l-8.34 8.34M590.0 86.6l8.34 8.34m0-8.34l-8.34 8.34M590.9 85.8l8.34 8.34m0-8.34l-8.34 8.34M591.7 85.1l8.34 8.34m0-8.34l-8.34 8.34M592.6 84.4l8.34 8.34m0-8.34l-8.34 8.34M593.5 83.6l8.34 8.34m0-8.34l-8.34 8.34M594.4 82.9l8.34 8.34m0-8.34l-8.34 8.34M595.3 82.2l8.34 8.34m0-8.34l-8.34 8.34M596.1 81.5l8.34 8.34m0-8.34l-8.34 8.34M597.0 80.7l8.34 8.34m0-8.34l-8.34 8.34M597.9 80.0l8.34 8.34m0-8.34l-8.34 8.34M598.8 79.3l8.34 8.34m0-8.34l-8.34 8.34M599.7 78.6l8.34 8.34m0-8.34l-8.34 8.34M600.6 77.9l8.34 8.34m0-8.34l-8.34 8.34M601.4 77.2l8.34 8.34m0-8.34l-8.34 8.34M602.3 76.5l8.34 8.34m0-8.34l-8.34 8.34M603.2 75.7l8.34 8.34m0-8.34l-8.34 8.34M604.1 75.0l8.34 8.34m0-8.34l-8.34 8.34M605.0 74.3l8.34 8.34m0-8.34l-8.34 8.34M605.9 73.6l8.34 8.34m0-8.34l-8.34 8.34M606.8 72.9l8.34 8.34m0-8.34l-8.34 8.34M607.7 72.2l8.34 8.34m0-8.34l-8.34 8.34M608.6 71.5l8.34 8.34m0-8.34l-8.34 8.34M609.5 70.8l8.34 8.34m0-8.34l-8.34 8.34M610.4 70.1l8.34 8.34m0-8.34l-8.34 8.34" stroke="#7f7f7f" stroke-width="2.1" fill="none"/>
<path d="M409.3 285.5l8.34 8.34m0-8.34l-8.34 8.34M413.5 281.9l8.34 8.34m0-8.34l-8.34 8.34M417.5 278.7l8.34 8.34m0-8.34l-8.34 8.34M421.0 275.7l8.34 8.34m0-8.34l-8.34 8.34M424.4 273.0l8.34 8.34m0-8.34l-8.34 8.34M427.5 270.4l8.34 8.34m0-8.34l-8.34 8.34M430.4 268.1l8.34 8.34m0-8.34l-8.34 8.34M433.1 265.9l8.34 8.34m0-8.34l-8.34 8.34M435.7 263.9l8.34 8.34m0-8.34l-8.34 8.34M438.1 261.9l8.34 8.34m0-8.34l-8.34 8.34M440.4 260.1l8.34 8.34m0-8.34l-8.34 8.34M442.6 258.4l8.34 8.34m0-8.34l-8.34 8.34M444.7 256.8l8.34 8.34m0-8.34l-8.34 8.34M446.7 255.2l8.34 8.34m0-8.34l-8.34 8.34M448.6 253.7l8.34 8.34m0-8.34l-8.34 8.34M450.5 252.3l8.34 8.34m0-8.34l-8.34 8.34M452.2 250.9l8.34 8.34m0-8.34l-8.34 8.34M453.9 249.6l8.34 8.34m0-8.34l-8.34 8.34M455.6 248.3l8.34 8.34m0-8.34l-8.34 8.34M457.1 247.1l8.34 8.34m0-8.34l-8.34 8.34M458.7 245.9l8.34 8.34m0-8.34l-8.34 8.34M460.1 244.7l8.34 8.34m0-8.34l-8.34 8.34M461.6 243.6l8.34 8.34m0-8.34l-8.34 8.34M462.9 242.6l8.34 8.34m0-8.34l-8.34 8.34M464.3 241.5l8.34 8.34m0-8.34l-8.34 8.34M465.6 240.5l8.34 8.34m0-8.34l-8.34 8.34M466.9 239.5l8.34 8.34m0-8.34l-8.34 8.34M468.1 238.6l8.34 8.34m0-8.34l-8.34 8.34M469.3 237.6l8.34 8.34m0-8.34l-8.34 8.34M470.5 236.7l8.34 8.34m0-8.34l-8.34 8.34M471.6 235.8l8.34 8.34m0-8.34l-8.34 8.34M472.7 235.0l8.34 8.34m0-8.34l-8.34 8.34M473.8 234.1l8.34 8.34m0-8.34l-8.34 8.34M474.8 233.3l8.34 8.34m0-8.34l-8.34 8.34M475.9 232.5l8.34 8.34m0-8.34l-8.34 8.34M476.9 231.7l8.34 8.34m0-8.34l-8.34 8.34M477.9 231.0l8.34 8.34m0-8.34l-8.34 8.34M478.8 230.2l8.34 8.34m0-8.34l-8.34 8.34M479.8 229.5l8.34 8.34m0-8.34l-8.34 8.34M480.7 228.8l8.34 8.34m0-8.34l-8.34 8.34M481.6 228.1l8.34 8.34m0-8.34l-8.34 8.34M482.5 227.4l8.34 8.34m0-8.34l-8.34 8.34M483.4 226.7l8.34 8.34m0-8.34l-8.34 8.34M485.1 225.4l8.34 8.34m0-8.34l-8.34 8.34M486.7 224.2l8.34 8.34m0-8.34l-8.34 8.34M488.3 223.0l8.34 8.34m0-8.34l-8.34 8.34M489.8 221.8l8.34 8.34m0-8.34l-8.34 8.34M491.3 220.7l8.34 8.34m0-8.34l-8.34 8.34M492.7 219.6l8.34 8.34m0-8.34l-8.34 8.34M494.1 218.5l8.34 8.34m0-8.34l-8.34 8.34M495.5 217.5l8.34 8.34m0-8.34l-8.34 8.34M496.8 216.5l8.34 8.34m0-8.34l-8.34 8.34M498.0 215.6l8.34 8.34m0-8.34l-8.34 8.34M499.3 214.6l8.34 8.34m0-8.34l-8.34 8.34M500.5 213.7l8.34 8.34m0-8.34l-8.34 8.34M501.6 212.8l8.34 8.34m0-8.34l-8.34 8.34M502.8 212.0l8.34 8.34m0-8.34l-8.34 8.34M503.9 211.1l8.34 8.34m0-8.34l-8.34 8.34M505.0 210.3l8.34 8.34m0-8.34l-8.34 8.34M506.0 209.5l8.34 8.34m0-8.34l-8.34 8.34M507.1 208.7l8.34 8.34m0-8.34l-8.34 8.34M508.1 208.0l8.34 8.34m0-8.34l-8.34 8.34M509.1 207.2l8.34 8.34m0-8.34l-8.34 8.34M510.0 206.5l8.34 8.34m0-8.34l-8.34 8.34M511.0 205.8l8.34 8.34m0-8.34l-8.34 8.34M511.9 205.1l8.34 8.34m0-8.34l-8.34 8.34M512.8 204.4l8.34 8.34m0-8.34l-8.34 8.34M513.7 203.8l8.34 8.34m0-8.34l-8.34 8.34M515.0 202.8l8.34 8.34m0-8.34l-8.34 8.34M516.3 201.9l8.34 8.34m0-8.34l-8.34 8.34M517.5 200.9l8.34 8.34m0-8.34l-8.34 8.34M518.7 200.1l8.34 8.34m0-8.34l-8.34 8.34M519.9 199.2l8.34 8.34m0-8.34l-8.34 8.34M521.0 198.4l8.34 8.34m0-8.34l-8.34 8.34M522.1 197.5l8.34 8.34m0-8.34l-8.34 8.34M523.2 196.7l8.34 8.34m0-8.34l-8.34 8.34M524.3 196.0l8.34 8.34m0-8.34l-8.34 8.34M525.3 195.2l8.34 8.34m0-8.34l-8.34 8.34M526.3 194.4l8.34 8.34m0-8.34l-8.34 8.34M527.3 193.7l8.34 8.34m0-8.34l-8.34 8.34M528.3 193.0l8.34 8.34m0-8.34l-8.34 8.34M529.2 192.3l8.34 8.34m0-8.34l-8.34 8.34M530.1 191.6l8.34 8.34m0-8.34l-8.34 8.34M531.1 191.0l8.34 8.34m0-8.34l-8.34 8.34M531.9 190.3l8.34 8.34m0-8.34l-8.34 8.34M533.1 189.5l8.34 8.34m0-8.34l-8.34 8.34M534.2 188.7l8.34 8.34m0-8.34l-8.34 8.34M535.3 187.9l8.34 8.34m0-8.34l-8.34 8.34M536.4 187.1l8.34 8.34m0-8.34l-8.34 8.34M537.5 186.3l8.34 8.34m0-8.34l-8.34 8.34M538.5 185.6l8.34 8.34m0-8.34l-8.34 8.34M539.5 184.8l8.34 8.34m0-8.34l-8.34 8.34M540.5 184.1l8.34 8.34m0-8.34l-8.34 8.34M541.5 183.4l8.34 8.34m0-8.34l-8.34 8.34M542.4 182.8l8.34 8.34m0-8.34l-8.34 8.34M543.3 182.1l8.34 8.34m0-8.34l-8.34 8.34M544.2 181.4l8.34 8.34m0-8.34l-8.34 8.34M545.3 180.6l8.34 8.34m0-8.34l-8.34 8.34M546.4 179.9l8.34 8.34m0-8.34l-8.34 8.34M547.5 179.1l8.34 8.34m0-8.34l-8.34 8.34M548.5 178.4l8.34 8.34m0-8.34l-8.34 8.34M549.5 177.7l8.34 8.34m0-8.34l-8.34 8.34M550.5 177.0l8.34 8.34m0-8.34l-8.34 8.34M551.4 176.3l8.34 8.34m0-8.34l-8.34 8.34M552.4 175.6l8.34 8.34m0-8.34l-8.34 8.34M553.3 174.9l8.34 8.34m0-8.34l-8.34 8.34M554.2 174.3l8.34 8.34m0-8.34l-8.34 8.34M555.3 173.5l8.34 8.34m0-8.34l-8.34 8.34M556.3 172.8l8.34 8.34m0-8.34l-8.34 8.34M557.3 172.1l8.34 8.34m0-8.34l-8.34 8.34M558.3 171.4l8.34 8.34m0-8.34l-8.34 8.34M559.3 170.7l8.34 8.34m0-8.34l-8.34 8.34M560.2 170.0l8.34 8.34m0-8.34l-8.34 8.34M561.2 169.4l8.34 8.34m0-8.34l-8.34 8.34M562.1 168.7l8.34 8.34m0-8.34l-8.34 8.34M563.1 168.0l8.34 8.34m0-8.34l-8.34 8.34M564.1 167.3l8.34 8.34m0-8.34l-8.34 8.34M565.1 166.6l8.34 8.34m0-8.34l-8.34 8.34M566.1 165.9l8.34 8.34m0-8.34l-8.34 8.34M567.1 165.2l8.34 8.34m0-8.34l-8.34 8.34M568.0 164.6l8.34 8.34m0-8.34l-8.34 8.34M568.9 163.9l8.34 8.34m0-8.34l-8.34 8.34M569.9 163.2l8.34 8.34m0-8.34l-8.34 8.34M570.9 162.5l8.34 8.34m0-8.34l-8.34 8.34M571.9 161.8l8.34 8.34m0-8.34l-8.34 8.34M572.9 161.1l8.34 8.34m0-8.34l-8.34 8.34M573.8 160.5l8.34 8.34m0-8.34l-8.34 8.34M574.7 159.8l8.34 8.34m0-8.34l-8.34 8.34M575.7 159.1l8.34 8.34m0-8.34l-8.34 8.34M576.7 158.5l8.34 8.34m0-8.34l-8.34 8.34M577.7 157.8l8.34 8.34m0-8.34l-8.34 8.34M578.6 157.1l8.34 8.34m0-8.34l-8.34 8.34M579.6 156.5l8.34 8.34m0-8.34l-8.34 8.34M580.5 155.8l8.34 8.34m0-8.34l-8.34 8.34M581.5 155.2l8.34 8.34m0-8.34l-8.34 8.34M582.4 154.5l8.34 8.34m0-8.34l-8.34 8.34M583.4 153.8l8.34 8.34m0-8.34l-8.34 8.34M584.3 153.2l8.34 8.34m0-8.34l-8.34 8.34M585.2 152.6l8.34 8.34m0-8.34l-8.34 8.34M586.2 151.9l8.34 8.34m0-8.34l-8.34 8.34M587.2 151.2l8.34 8.34m0-8.34l-8.34 8.34M588.1 150.6l8.34 8.34m0-8.34l-8.34 8.34M589.0 149.9l8.34 8.34m0-8.34l-8.34 8.34M590.0 149.2l8.34 8.34m0-8.34l-8.34 8.34M591.0 148.6l8.34 8.34m0-8.34l-8.34 8.34M591.9 147.9l8.34 8.34m0-8.34l-8.34 8.34M592.8 147.3l8.34 8.34m0-8.34l-8.34 8.34M593.8 146.6l8.34 8.34m0-8.34l-8.34 8.34M594.8 146.0l8.34 8.34m0-8.34l-8.34 8.34M595.7 145.3l8.34 8.34m0-8.34l-8.34 8.34M596.6 144.7l8.34 8.34m0-8.34l-8.34 8.34M597.6 144.0l8.34 8.34m0-8.34l-8.34 8.34M598.5 143.4l8.34 8.34m0-8.34l-8.34 8.34M599.5 142.7l8.34 8.34m0-8.34l-8.34 8.34M600.4 142.1l8.34 8.34m0-8.34l-8.34 8.34M601.3 141.4l8.34 8.34m0-8.34l-8.34 8.34M602.3 140.8l8.34 8.34m0-8.34l-8.34 8.34M603.2 140.2l8.34 8.34m0-8.34l-8.34 8.34M604.1 139.5l8.34 8.34m0-8.34l-8.34 8.34M605.1 138.9l8.34 8.34m0-8.34l-8.34 8.34M606.0 138.2l8.34 8.34m0-8.34l-8.34 8.34M606.9 137.6l8.34 8.34m0-8.34l-8.34 8.34M607.9 136.9l8.34 8.34m0-8.34l-8.34 8.34M608.8 136.3l8.34 8.34m0-8.34l-8.34 8.34M609.7 135.7l8.34 8.34m0-8.34l-8.34 8.34M610.4 135.2l8.34 8.34m0-8.34l-8.34 8.34" stroke="#8c564b" stroke-width="2.1" fill="none"/>
<path d="M409.3 277.8l8.34 8.34m0-8.34l-8.34 8.34M413.5 274.6l8.34 8.34m0-8.34l-8.34 8.34M417.5 271.7l8.34 8.34m0-8.34l-8.34 8.34M421.0 269.0l8.34 8.34m0-8.34l-8.34 8.34M424.4 266.6l8.34 8.34m0-8.34l-8.34 8.34M427.5 264.3l8.34 8.34m0-8.34l-8.34 8.34M430.4 262.2l8.34 8.34m0-8.34l-8.34 8.34M433.1 260.2l8.34 8.34m0-8.34l-8.34 8.34M435.7 258.4l8.34 8.34m0-8.34l-8.34 8.34M438.1 256.6l8.34 8.34m0-8.34l-8.34 8.34M440.4 255.0l8.34 8.34m0-8.34l-8.34 8.34M442.6 253.5l8.34 8.34m0-8.34l-8.34 8.34M444.7 252.0l8.34 8.34m0-8.34l-8.34 8.34M446.7 250.6l8.34 8.34m0-8.34l-8.34 8.34M448.6 249.2l8.34 8.34m0-8.34l-8.34 8.34M450.5 247.9l8.34 8.34m0-8.34l-8.34 8.34M452.2 246.7l8.34 8.34m0-8.34l-8.34 8.34M453.9 245.5l8.34 8.34m0-8.34l-8.34 8.34M455.6 244.4l8.34 8.34m0-8.34l-8.34 8.34M457.1 243.3l8.34 8.34m0-8.34l-8.34 8.34M458.7 242.2l8.34 8.34m0-8.34l-8.34 8.34M460.1 241.1l8.34 8.34m0-8.34l-8.34 8.34M461.6 240.1l8.34 8.34m0-8.34l-8.34 8.34M462.9 239.2l8.34 8.34m0-8.34l-8.34 8.34M464.3 238.2l8.34 8.34m0-8.34l-8.34 8.34M465.6 237.3l8.34 8.34m0-8.34l-8.34 8.34M466.9 236.4l8.34 8.34m0-8.34l-8.34 8.34M468.1 235.6l8.34 8.34m0-8.34l-8.34 8.34M469.3 234.7l8.34 8.34m0-8.34l-8.34 8.34M470.5 233.9l8.34 8.34m0-8.34l-8.34 8.34M471.6 233.1l8.34 8.34m0-8.34l-8.34 8.34M472.7 232.4l8.34 8.34m0-8.34l-8.34 8.34M473.8 231.6l8.34 8.34m0-8.34l-8.34 8.34M474.8 230.9l8.34 8.34m0-8.34l-8.34 8.34M475.9 230.1l8.34 8.34m0-8.34l-8.34 8.34M476.9 229.4l8.34 8.34m0-8.34l-8.34 8.34M477.9 228.7l8.34 8.34m0-8.34l-8.34 8.34M478.8 228.1l8.34 8.34m0-8.34l-8.34 8.34M479.8 227.4l8.34 8.34m0-8.34l-8.34 8.34M480.7 226.8l8.34 8.34m0-8.34l-8.34 8.34M481.6 226.1l8.34 8.34m0-8.34l-8.34 8.34M483.4 224.9l8.34 8.34m0-8.34l-8.34 8.34M485.1 223.8l8.34 8.34m0-8.34l-8.34 8.34M486.7 222.6l8.34 8.34m0-8.34l-8.34 8.34M488.3 221.5l8.34 8.34m0-8.34l-8.34 8.34M489.8 220.5l8.34 8.34m0-8.34l-8.34 8.34M491.3 219.5l8.34 8.34m0-8.34l-8.34 8.34M492.7 218.5l8.34 8.34m0-8.34l-8.34 8.34M494.1 217.5l8.34 8.34m0-8.34l-8.34 8.34M495.5 216.6l8.34 8.34m0-8.34l-8.34 8.34M496.8 215.7l8.34 8.34m0-8.34l-8.34 8.34M498.0 214.9l8.34 8.34m0-8.34l-8.34 8.34M499.3 214.0l8.34 8.34m0-8.34l-8.34 8.34M500.5 213.2l8.34 8.34m0-8.34l-8.34 8.34M501.6 212.4l8.34 8.34m0-8.34l-8.34 8.34M502.8 211.6l8.34 8.34m0-8.34l-8.34 8.34M503.9 210.9l8.34 8.34m0-8.34l-8.34 8.34M505.0 210.1l8.34 8.34m0-8.34l-8.34 8.34M506.0 209.4l8.34 8.34m0-8.34l-8.34 8.34M507.1 208.7l8.34 8.34m0-8.34l-8.34 8.34M508.1 208.0l8.34 8.34m0-8.34l-8.34 8.34M509.1 207.4l8.34 8.34m0-8.34l-8.34 8.34M510.0 206.7l8.34 8.34m0-8.34l-8.34 8.34M511.0 206.1l8.34 8.34m0-8.34l-8.34 8.34M511.9 205.5l8.34 8.34m0-8.34l-8.34 8.34M513.3 204.6l8.34 8.34m0-8.34l-8.34 8.34M514.6 203.7l8.34 8.34m0-8.34l-8.34 8.34M515.9 202.8l8.34 8.34m0-8.34l-8.34 8.34M517.1 202.0l8.34 8.34m0-8.34l-8.34 8.34M518.3 201.2l8.34 8.34m0-8.34l-8.34 8.34M519.5 200.4l8.34 8.34m0-8.34l-8.34 8.34M520.6 199.6l8.34 8.34m0-8.34l-8.34 8.34M521.8 198.9l8.34 8.34m0-8.34l-8.34 8.34M522.9 198.2l8.34 8.34m0-8.34l-8.34 8.34M523.9 197.4l8.34 8.34m0-8.34l-8.34 8.34M525.0 196.8l8.34 8.34m0-8.34l-8.34 8.34M526.0 196.1l8.34 8.34m0-8.34l-8.34 8.34M527.0 195.4l8.34 8.34m0-8.34l-8.34 8.34M528.0 194.8l8.34 8.34m0-8.34l-8.34 8.34M528.9 194.1l8.34 8.34m0-8.34l-8.34 8.34M529.8 193.5l8.34 8.34m0-8.34l-8.34 8.34M531.1 192.7l8.34 8.34m0-8.34l-8.34 8.34M532.2 192.0l8.34 8.34m0-8.34l-8.34 8.34M533.4 191.2l8.34 8.34m0-8.34l-8.34 8.34M534.5 190.5l8.34 8.34m0-8.34l-8.34 8.34M535.6 189.7l8.34 8.34m0-8.34l-8.34 8.34M536.7 189.0l8.34 8.34m0-8.34l-8.34 8.34M537.7 188.4l8.34 8.34m0-8.34l-8.34 8.34M538.8 187.7l8.34 8.34m0-8.34l-8.34 8.34M539.8 187.0l8.34 8.34m0-8.34l-8.34 8.34M540.7 186.4l8.34 8.34m0-8.34l-8.34 8.34M541.7 185.8l8.34 8.34m0-8.34l-8.34 8.34M542.6 185.2l8.34 8.34m0-8.34l-8.34 8.34M543.8 184.4l8.34 8.34m0-8.34l-8.34 8.34M544.9 183.7l8.34 8.34m0-8.34l-8.34 8.34M546.0 183.0l8.34 8.34m0-8.34l-8.34 8.34M547.0 182.3l8.34 8.34m0-8.34l-8.34 8.34M548.1 181.6l8.34 8.34m0-8.34l-8.34 8.34M549.1 181.0l8.34 8.34m0-8.34l-8.34 8.34M550.1 180.4l8.34 8.34m0-8.34l-8.34 8.34M551.1 179.7l8.34 8.34m0-8.34l-8.34 8.34M552.0 179.1l8.34 8.34m0-8.34l-8.34 8.34M552.9 178.5l8.34 8.34m0-8.34l-8.34 8.34M554.0 177.8l8.34 8.34m0-8.34l-8.34 8.34M555.1 177.1l8.34 8.34m0-8.34l-8.34 8.34M556.1 176.5l8.34 8.34m0-8.34l-8.34 8.34M557.2 175.8l8.34 8.34m0-8.34l-8.34 8.34M558.2 175.2l8.34 8.34m0-8.34l-8.34 8.34M559.1 174.6l8.34 8.34m0-8.34l-8.34 8.34M560.1 174.0l8.34 8.34m0-8.34l-8.34 8.34M561.0 173.4l8.34 8.34m0-8.34l-8.34 8.34M562.1 172.7l8.34 8.34m0-8.34l-8.34 8.34M563.1 172.0l8.34 8.34m0-8.34l-8.34 8.34M564.1 171.4l8.34 8.34m0-8.34l-8.34 8.34M565.1 170.7l8.34 8.34m0-8.34l-8.34 8.34M566.1 170.1l8.34 8.34m0-8.34l-8.34 8.34M567.1 169.5l8.34 8.34m0-8.34l-8.34 8.34M568.0 168.9l8.34 8.34m0-8.34l-8.34 8.34M569.0 168.3l8.34 8.34m0-8.34l-8.34 8.34M570.1 167.6l8.34 8.34m0-8.34l-8.34 8.34M571.1 167.0l8.34 8.34m0-8.34l-8.34 8.34M572.0 166.4l8.34 8.34m0-8.34l-8.34 8.34M573.0 165.8l8.34 8.34m0-8.34l-8.34 8.34M573.9 165.2l8.34 8.34m0-8.34l-8.34 8.34M575.0 164.6l8.34 8.34m0-8.34l-8.34 8.34M576.0 163.9l8.34 8.34m0-8.34l-8.34 8.34M576.9 163.3l8.34 8.34m0-8.34l-8.34 8.34M577.9 162.7l8.34 8.34m0-8.34l-8.34 8.34M578.9 162.1l8.34 8.34m0-8.34l-8.34 8.34M579.9 161.5l8.34 8.34m0-8.34l-8.34 8.34M580.9 160.8l8.34 8.34m0-8.34l-8.34 8.34M581.9 160.2l8.34 8.34m0-8.34l-8.34 8.34M582.8 159.6l8.34 8.34m0-8.34l-8.34 8.34M583.8 159.0l8.34 8.34m0-8.34l-8.34 8.34M584.8 158.4l8.34 8.34m0-8.34l-8.34 8.34M585.8 157.8l8.34 8.34m0-8.34l-8.34 8.34M586.7 157.2l8.34 8.34m0-8.34l-8.34 8.34M587.7 156.6l8.34 8.34m0-8.34l-8.34 8.34M588.7 156.0l8.34 8.34m0-8.34l-8.34 8.34M589.7 155.4l8.34 8.34m0-8.34l-8.34 8.34M590.6 154.8l8.34 8.34m0-8.34l-8.34 8.34M591.6 154.2l8.34 8.34m0-8.34l-8.34 8.34M592.6 153.5l8.34 8.34m0-8.34l-8.34 8.34M593.6 152.9l8.34 8.34m0-8.34l-8.34 8.34M594.5 152.3l8.34 8.34m0-8.34l-8.34 8.34M595.5 151.7l8.34 8.34m0-8.34l-8.34 8.34M596.5 151.1l8.34 8.34m0-8.34l-8.34 8.34M597.4 150.5l8.34 8.34m0-8.34l-8.34 8.34M598.4 149.9l8.34 8.34m0-8.34l-8.34 8.34M599.4 149.3l8.34 8.34m0-8.34l-8.34 8.34M600.4 148.7l8.34 8.34m0-8.34l-8.34 8.34M601.3 148.1l8.34 8.34m0-8.34l-8.34 8.34M602.3 147.5l8.34 8.34m0-8.34l-8.34 8.34M603.3 146.9l8.34 8.34m0-8.34l-8.34 8.34M604.2 146.3l8.34 8.34m0-8.34l-8.34 8.34M605.2 145.7l8.34 8.34m0-8.34l-8.34 8.34M606.2 145.1l8.34 8.34m0-8.34l-8.34 8.34M607.2 144.5l8.34 8.34m0-8.34l-8.34 8.34M608.1 143.9l8.34 8.34m0-8.34l-8.34 8.34M609.1 143.3l8.34 8.34m0-8.34l-8.34 8.34M610.0 142.7l8.34 8.34m0-8.34l-8.34 8.34M610.4 142.5l8.34 8.34m0-8.34l-8.34 8.34" stroke="#17becf" stroke-width="2.1" fill="none"/>
<path d="M409.3 271.9l8.34 8.34m0-8.34l-8.34 8.34M413.5 268.6l8.34 8.34m0-8.34l-8.34 8.34M417.5 265.6l8.34 8.34m0-8.34l-8.34 8.34M421.0 262.8l8.34 8.34m0-8.34l-8.34 8.34M424.4 260.3l8.34 8.34m0-8.34l-8.34 8.34M427.5 258.0l8.34 8.34m0-8.34l-8.34 8.34M430.4 255.8l8.34 8.34m0-8.34l-8.34 8.34M433.1 253.7l8.34 8.34m0-8.34l-8.34 8.34M435.7 251.8l8.34 8.34m0-8.34l-8.34 8.34M438.1 250.1l8.34 8.34m0-8.34l-8.34 8.34M440.4 248.4l8.34 8.34m0-8.34l-8.34 8.34M442.6 246.8l8.34 8.34m0-8.34l-8.34 8.34M444.7 245.3l8.34 8.34m0-8.34l-8.34 8.34M446.7 243.8l8.34 8.34m0-8.34l-8.34 8.34M448.6 242.4l8.34 8.34m0-8.34l-8.34 8.34M450.5 241.1l8.34 8.34m0-8.34l-8.34 8.34M452.2 239.8l8.34 8.34m0-8.34l-8.34 8.34M453.9 238.6l8.34 8.34m0-8.34l-8.34 8.34M455.6 237.4l8.34 8.34m0-8.34l-8.34 8.34M457.1 236.3l8.34 8.34m0-8.34l-8.34 8.34M458.7 235.2l8.34 8.34m0-8.34l-8.34 8.34M460.1 234.1l8.34 8.34m0-8.34l-8.34 8.34M461.6 233.1l8.34 8.34m0-8.34l-8.34 8.34M462.9 232.1l8.34 8.34m0-8.34l-8.34 8.34M464.3 231.1l8.34 8.34m0-8.34l-8.34 8.34M465.6 230.2l8.34 8.34m0-8.34l-8.34 8.34M466.9 229.2l8.34 8.34m0-8.34l-8.34 8.34M468.1 228.4l8.34 8.34m0-8.34l-8.34 8.34M469.3 227.5l8.34 8.34m0-8.34l-8.34 8.34M470.5 226.6l8.34 8.34m0-8.34l-8.34 8.34M471.6 225.8l8.34 8.34m0-8.34l-8.34 8.34M472.7 225.0l8.34 8.34m0-8.34l-8.34 8.34M473.8 224.3l8.34 8.34m0-8.34l-8.34 8.34M474.8 223.5l8.34 8.34m0-8.34l-8.34 8.34M475.9 222.8l8.34 8.34m0-8.34l-8.34 8.34M476.9 222.0l8.34 8.34m0-8.34l-8.34 8.34M477.9 221.3l8.34 8.34m0-8.34l-8.34 8.34M478.8 220.6l8.34 8.34m0-8.34l-8.34 8.34M479.8 219.9l8.34 8.34m0-8.34l-8.34 8.34M480.7 219.3l8.34 8.34m0-8.34l-8.34 8.34M481.6 218.6l8.34 8.34m0-8.34l-8.34 8.34M483.4 217.4l8.34 8.34m0-8.34l-8.34 8.34M485.1 216.2l8.34 8.34m0-8.34l-8.34 8.34M486.7 215.0l8.34 8.34m0-8.34l-8.34 8.34M488.3 213.9l8.34 8.34m0-8.34l-8.34 8.34M489.8 212.8l8.34 8.34m0-8.34l-8.34 8.34M491.3 211.8l8.34 8.34m0-8.34l-8.34 8.34M492.7 210.7l8.34 8.34m0-8.34l-8.34 8.34M494.1 209.8l8.34 8.34m0-8.34l-8.34 8.34M495.5 208.8l8.34 8.34m0-8.34l-8.34 8.34M496.8 207.9l8.34 8.34m0-8.34l-8.34 8.34M498.0 207.0l8.34 8.34m0-8.34l-8.34 8.34M499.3 206.1l8.34 8.34m0-8.34l-8.34 8.34M500.5 205.3l8.34 8.34m0-8.34l-8.34 8.34M501.6 204.5l8.34 8.34m0-8.34l-8.34 8.34M502.8 203.7l8.34 8.34m0-8.34l-8.34 8.34M503.9 202.9l8.34 8.34m0-8.34l-8.34 8.34M505.0 202.1l8.34 8.34m0-8.34l-8.34 8.34M506.0 201.4l8.34 8.34m0-8.34l-8.34 8.34M507.1 200.7l8.34 8.34m0-8.34l-8.34 8.34M508.1 200.0l8.34 8.34m0-8.34l-8.34 8.34M509.1 199.3l8.34 8.34m0-8.34l-8.34 8.34M510.0 198.6l8.34 8.34m0-8.34l-8.34 8.34M511.0 198.0l8.34 8.34m0-8.34l-8.34 8.34M511.9 197.3l8.34 8.34m0-8.34l-8.34 8.34M512.8 196.7l8.34 8.34m0-8.34l-8.34 8.34M514.1 195.8l8.34 8.34m0-8.34l-8.34 8.34M515.4 194.9l8.34 8.34m0-8.34l-8.34 8.34M516.7 194.0l8.34 8.34m0-8.34l-8.34 8.34M517.9 193.2l8.34 8.34m0-8.34l-8.34 8.34M519.1 192.3l8.34 8.34m0-8.34l-8.34 8.34M520.3 191.6l8.34 8.34m0-8.34l-8.34 8.34M521.4 190.8l8.34 8.34m0-8.34l-8.34 8.34M522.5 190.0l8.34 8.34m0-8.34l-8.34 8.34M523.6 189.3l8.34 8.34m0-8.34l-8.34 8.34M524.6 188.6l8.34 8.34m0-8.34l-8.34 8.34M525.6 187.9l8.34 8.34m0-8.34l-8.34 8.34M526.6 187.2l8.34 8.34m0-8.34l-8.34 8.34M527.6 186.5l8.34 8.34m0-8.34l-8.34 8.34M528.6 185.9l8.34 8.34m0-8.34l-8.34 8.34M529.5 185.2l8.34 8.34m0-8.34l-8.34 8.34M530.5 184.6l8.34 8.34m0-8.34l-8.34 8.34M531.7 183.8l8.34 8.34m0-8.34l-8.34 8.34M532.8 183.0l8.34 8.34m0-8.34l-8.34 8.34M534.0 182.2l8.34 8.34m0-8.34l-8.34 8.34M535.1 181.5l8.34 8.34m0-8.34l-8.34 8.34M536.2 180.7l8.34 8.34m0-8.34l-8.34 8.34M537.2 180.0l8.34 8.34m0-8.34l-8.34 8.34M538.2 179.3l8.34 8.34m0-8.34l-8.34 8.34M539.3 178.7l8.34 8.34m0-8.34l-8.34 8.34M540.2 178.0l8.34 8.34m0-8.34l-8.34 8.34M541.2 177.3l8.34 8.34m0-8.34l-8.34 8.34M542.2 176.7l8.34 8.34m0-8.34l-8.34 8.34M543.1 176.1l8.34 8.34m0-8.34l-8.34 8.34M544.2 175.3l8.34 8.34m0-8.34l-8.34 8.34M545.3 174.6l8.34 8.34m0-8.34l-8.34 8.34M546.4 173.9l8.34 8.34m0-8.34l-8.34 8.34M547.5 173.2l8.34 8.34m0-8.34l-8.34 8.34M548.5 172.5l8.34 8.34m0-8.34l-8.34 8.34M549.5 171.8l8.34 8.34m0-8.34l-8.34 8.34M550.5 171.2l8.34 8.34m0-8.34l-8.34 8.34M551.4 170.5l8.34 8.34m0-8.34l-8.34 8.34M552.4 169.9l8.34 8.34m0-8.34l-8.34 8.34M553.3 169.3l8.34 8.34m0-8.34l-8.34 8.34M554.4 168.6l8.34 8.34m0-8.34l-8.34 8.34M555.5 167.9l8.34 8.34m0-8.34l-8.34 8.34M556.5 167.2l8.34 8.34m0-8.34l-8.34 8.34M557.5 166.5l8.34 8.34m0-8.34l-8.34 8.34M558.5 165.9l8.34 8.34m0-8.34l-8.34 8.34M559.5 165.3l8.34 8.34m0-8.34l-8.34 8.34M560.4 164.6l8.34 8.34m0-8.34l-8.34 8.34M561.3 164.0l8.34 8.34m0-8.34l-8.34 8.34M562.4 163.3l8.34 8.34m0-8.34l-8.34 8.34M563.4 162.7l8.34 8.34m0-8.34l-8.34 8.34M564.4 162.0l8.34 8.34m0-8.34l-8.34 8.34M565.4 161.3l8.34 8.34m0-8.34l-8.34 8.34M566.4 160.7l8.34 8.34m0-8.34l-8.34 8.34M567.3 160.1l8.34 8.34m0-8.34l-8.34 8.34M568.3 159.5l8.34 8.34m0-8.34l-8.34 8.34M569.3 158.8l8.34 8.34m0-8.34l-8.34 8.34M570.3 158.2l8.34 8.34m0-8.34l-8.34 8.34M571.3 157.5l8.34 8.34m0-8.34l-8.34 8.34M572.3 156.9l8.34 8.34m0-8.34l-8.34 8.34M573.2 156.3l8.34 8.34m0-8.34l-8.34 8.34M574.2 155.7l8.34 8.34m0-8.34l-8.34 8.34M575.2 155.0l8.34 8.34m0-8.34l-8.34 8.34M576.2 154.4l8.34 8.34m0-8.34l-8.34 8.34M577.2 153.7l8.34 8.34m0-8.34l-8.34 8.34M578.1 153.1l8.34 8.34m0-8.34l-8.34 8.34M579.1 152.5l8.34 8.34m0-8.34l-8.34 8.34M580.1 151.8l8.34 8.34m0-8.34l-8.34 8.34M581.1 151.2l8.34 8.34m0-8.34l-8.34 8.34M582.1 150.6l8.34 8.34m0-8.34l-8.34 8.34M583.0 149.9l8.34 8.34m0-8.34l-8.34 8.34M583.9 149.3l8.34 8.34m0-8.34l-8.34 8.34M585.0 148.7l8.34 8.34m0-8.34l-8.34 8.34M585.9 148.1l8.34 8.34m0-8.34l-8.34 8.34M586.9 147.4l8.34 8.34m0-8.34l-8.34 8.34M587.8 146.8l8.34 8.34m0-8.34l-8.34 8.34M588.9 146.2l8.34 8.34m0-8.34l-8.34 8.34M589.8 145.6l8.34 8.34m0-8.34l-8.34 8.34M590.8 144.9l8.34 8.34m0-8.34l-8.34 8.34M591.7 144.3l8.34 8.34m0-8.34l-8.34 8.34M592.7 143.7l8.34 8.34m0-8.34l-8.34 8.34M593.7 143.1l8.34 8.34m0-8.34l-8.34 8.34M594.7 142.5l8.34 8.34m0-8.34l-8.34 8.34M595.6 141.9l8.34 8.34m0-8.34l-8.34 8.34M596.6 141.2l8.34 8.34m0-8.34l-8.34 8.34M597.6 140.6l8.34 8.34m0-8.34l-8.34 8.34M598.5 140.0l8.34 8.34m0-8.34l-8.34 8.34M599.5 139.4l8.34 8.34m0-8.34l-8.34 8.34M600.4 138.8l8.34 8.34m0-8.34l-8.34 8.34M601.4 138.2l8.34 8.34m0-8.34l-8.34 8.34M602.3 137.6l8.34 8.34m0-8.34l-8.34 8.34M603.3 137.0l8.34 8.34m0-8.34l-8.34 8.34M604.2 136.3l8.34 8.34m0-8.34l-8.34 8.34M605.2 135.7l8.34 8.34m0-8.34l-8.34 8.34M606.1 135.1l8.34 8.34m0-8.34l-8.34 8.34M607.1 134.5l8.34 8.34m0-8.34l-8.34 8.34M608.0 133.9l8.34 8.34m0-8.34l-8.34 8.34M609.0 133.3l8.34 8.34m0-8.34l-8.34 8.34M609.9 132.7l8.34 8.34m0-8.34l-8.34 8.34M610.4 132.4l8.34 8.34m0-8.34l-8.34 8.34" stroke="#7f7f7f" stroke-width="2.1" fill="none"/>
<path d="M409.3 267.4l8.34 8.34m0-8.34l-8.34 8.34M413.5 263.8l8.34 8.34m0-8.34l-8.34 8.34M417.5 260.5l8.34 8.34m0-8.34l-8.34 8.34M421.0 257.6l8.34 8.34m0-8.34l-8.34 8.34M424.4 254.8l8.34 8.34m0-8.34l-8.34 8.34M427.5 252.3l8.34 8.34m0-8.34l-8.34 8.34M430.4 249.9l8.34 8.34m0-8.34l-8.34 8.34M433.1 247.7l8.34 8.34m0-8.34l-8.34 8.34M435.7 245.7l8.34 8.34m0-8.34l-8.34 8.34M438.1 243.7l8.34 8.34m0-8.34l-8.34 8.34M440.4 241.9l8.34 8.34m0-8.34l-8.34 8.34M442.6 240.2l8.34 8.34m0-8.34l-8.34 8.34M444.7 238.6l8.34 8.34m0-8.34l-8.34 8.34M446.7 237.0l8.34 8.34m0-8.34l-8.34 8.34M448.6 235.5l8.34 8.34m0-8.34l-8.34 8.34M450.5 234.0l8.34 8.34m0-8.34l-8.34 8.34M452.2 232.7l8.34 8.34m0-8.34l-8.34 8.34M453.9 231.3l8.34 8.34m0-8.34l-8.34 8.34M455.6 230.0l8.34 8.34m0-8.34l-8.34 8.34M457.1 228.8l8.34 8.34m0-8.34l-8.34 8.34M458.7 227.6l8.34 8.34m0-8.34l-8.34 8.34M460.1 226.5l8.34 8.34m0-8.34l-8.34 8.34M461.6 225.3l8.34 8.34m0-8.34l-8.34 8.34M462.9 224.3l8.34 8.34m0-8.34l-8.34 8.34M464.3 223.2l8.34 8.34m0-8.34l-8.34 8.34M465.6 222.2l8.34 8.34m0-8.34l-8.34 8.34M466.9 221.2l8.34 8.34m0-8.34l-8.34 8.34M468.1 220.2l8.34 8.34m0-8.34l-8.34 8.34M469.3 219.3l8.34 8.34m0-8.34l-8.34 8.34M470.5 218.4l8.34 8.34m0-8.34l-8.34 8.34M471.6 217.5l8.34 8.34m0-8.34l-8.34 8.34M472.7 216.6l8.34 8.34m0-8.34l-8.34 8.34M473.8 215.8l8.34 8.34m0-8.34l-8.34 8.34M474.8 215.0l8.34 8.34m0-8.34l-8.34 8.34M475.9 214.2l8.34 8.34m0-8.34l-8.34 8.34M476.9 213.4l8.34 8.34m0-8.34l-8.34 8.34M477.9 212.6l8.34 8.34m0-8.34l-8.34 8.34M478.8 211.9l8.34 8.34m0-8.34l-8.34 8.34M479.8 211.1l8.34 8.34m0-8.34l-8.34 8.34M480.7 210.4l8.34 8.34m0-8.34l-8.34 8.34M481.6 209.7l8.34 8.34m0-8.34l-8.34 8.34M482.5 209.0l8.34 8.34m0-8.34l-8.34 8.34M483.4 208.4l8.34 8.34m0-8.34l-8.34 8.34M485.1 207.1l8.34 8.34m0-8.34l-8.34 8.34M486.7 205.8l8.34 8.34m0-8.34l-8.34 8.34M488.3 204.6l8.34 8.34m0-8.34l-8.34 8.34M489.8 203.4l8.34 8.34m0-8.34l-8.34 8.34M491.3 202.3l8.34 8.34m0-8.34l-8.34 8.34M492.7 201.2l8.34 8.34m0-8.34l-8.34 8.34M494.1 200.1l8.34 8.34m0-8.34l-8.34 8.34M495.5 199.1l8.34 8.34m0-8.34l-8.34 8.34M496.8 198.1l8.34 8.34m0-8.34l-8.34 8.34M498.0 197.1l8.34 8.34m0-8.34l-8.34 8.34M499.3 196.2l8.34 8.34m0-8.34l-8.34 8.34M500.5 195.3l8.34 8.34m0-8.34l-8.34 8.34M501.6 194.4l8.34 8.34m0-8.34l-8.34 8.34M502.8 193.5l8.34 8.34m0-8.34l-8.34 8.34M503.9 192.7l8.34 8.34m0-8.34l-8.34 8.34M505.0 191.9l8.34 8.34m0-8.34l-8.34 8.34M506.0 191.1l8.34 8.34m0-8.34l-8.34 8.34M507.1 190.3l8.34 8.34m0-8.34l-8.34 8.34M508.1 189.5l8.34 8.34m0-8.34l-8.34 8.34M509.1 188.8l8.34 8.34m0-8.34l-8.34 8.34M510.0 188.1l8.34 8.34m0-8.34l-8.34 8.34M511.0 187.3l8.34 8.34m0-8.34l-8.34 8.34M511.9 186.7l8.34 8.34m0-8.34l-8.34 8.34M512.8 186.0l8.34 8.34m0-8.34l-8.34 8.34M513.7 185.3l8.34 8.34m0-8.34l-8.34 8.34M515.0 184.3l8.34 8.34m0-8.34l-8.34 8.34M516.3 183.4l8.34 8.34m0-8.34l-8.34 8.34M517.5 182.5l8.34 8.34m0-8.34l-8.34 8.34M518.7 181.6l8.34 8.34m0-8.34l-8.34 8.34M519.9 180.7l8.34 8.34m0-8.34l-8.34 8.34M521.0 179.9l8.34 8.34m0-8.34l-8.34 8.34M522.1 179.0l8.34 8.34m0-8.34l-8.34 8.34M523.2 178.2l8.34 8.34m0-8.34l-8.34 8.34M524.3 177.4l8.34 8.34m0-8.34l-8.34 8.34M525.3 176.7l8.34 8.34m0-8.34l-8.34 8.34M526.3 175.9l8.34 8.34m0-8.34l-8.34 8.34M527.3 175.2l8.34 8.34m0-8.34l-8.34 8.34M528.3 174.5l8.34 8.34m0-8.34l-8.34 8.34M529.2 173.8l8.34 8.34m0-8.34l-8.34 8.34M530.1 173.1l8.34 8.34m0-8.34l-8.34 8.34M531.1 172.4l8.34 8.34m0-8.34l-8.34 8.34M531.9 171.8l8.34 8.34m0-8.34l-8.34 8.34M533.1 170.9l8.34 8.34m0-8.34l-8.34 8.34M534.2 170.1l8.34 8.34m0-8.34l-8.34 8.34M535.3 169.3l8.34 8.34m0-8.34l-8.34 8.34M536.4 168.5l8.34 8.34m0-8.34l-8.34 8.34M537.5 167.8l8.34 8.34m0-8.34l-8.34 8.34M538.5 167.0l8.34 8.34m0-8.34l-8.34 8.34M539.5 166.3l8.34 8.34m0-8.34l-8.34 8.34M540.5 165.6l8.34 8.34m0-8.34l-8.34 8.34M541.5 164.9l8.34 8.34m0-8.34l-8.34 8.34M542.4 164.2l8.34 8.34m0-8.34l-8.34 8.34M543.3 163.5l8.34 8.34m0-8.34l-8.34 8.34M544.2 162.9l8.34 8.34m0-8.34l-8.34 8.34M545.3 162.1l8.34 8.34m0-8.34l-8.34 8.34M546.4 161.3l8.34 8.34m0-8.34l-8.34 8.34M547.5 160.5l8.34 8.34m0-8.34l-8.34 8.34M548.5 159.8l8.34 8.34m0-8.34l-8.34 8.34M549.5 159.1l8.34 8.34m0-8.34l-8.34 8.34M550.5 158.4l8.34 8.34m0-8.34l-8.34 8.34M551.4 157.7l8.34 8.34m0-8.34l-8.34 8.34M552.4 157.0l8.34 8.34m0-8.34l-8.34 8.34M553.3 156.3l8.34 8.34m0-8.34l-8.34 8.34M554.2 155.7l8.34 8.34m0-8.34l-8.34 8.34M555.3 154.9l8.34 8.34m0-8.34l-8.34 8.34M556.3 154.2l8.34 8.34m0-8.34l-8.34 8.34M557.3 153.5l8.34 8.34m0-8.34l-8.34 8.34M558.3 152.7l8.34 8.34m0-8.34l-8.34 8.34M559.3 152.1l8.34 8.34m0-8.34l-8.34 8.34M560.2 151.4l8.34 8.34m0-8.34l-8.34 8.34M561.2 150.7l8.34 8.34m0-8.34l-8.34 8.34M562.1 150.1l8.34 8.34m0-8.34l-8.34 8.34M563.1 149.3l8.34 8.34m0-8.34l-8.34 8.34M564.1 148.6l8.34 8.34m0-8.34l-8.34 8.34M565.1 147.9l8.34 8.34m0-8.34l-8.34 8.34M566.1 147.2l8.34 8.34m0-8.34l-8.34 8.34M567.1 146.6l8.34 8.34m0-8.34l-8.34 8.34M568.0 145.9l8.34 8.34m0-8.34l-8.34 8.34M568.9 145.3l8.34 8.34m0-8.34l-8.34 8.34M569.9 144.5l8.34 8.34m0-8.34l-8.34 8.34M570.9 143.8l8.34 8.34m0-8.34l-8.34 8.34M571.9 143.1l8.34 8.34m0-8.34l-8.34 8.34M572.9 142.5l8.34 8.34m0-8.34l-8.34 8.34M573.8 141.8l8.34 8.34m0-8.34l-8.34 8.34M574.7 141.2l8.34 8.34m0-8.34l-8.34 8.34M575.7 140.5l8.34 8.34m0-8.34l-8.34 8.34M576.7 139.8l8.34 8.34m0-8.34l-8.34 8.34M577.7 139.1l8.34 8.34m0-8.34l-8.34 8.34M578.6 138.4l8.34 8.34m0-8.34l-8.34 8.34M579.6 137.8l8.34 8.34m0-8.34l-8.34 8.34M580.5 137.1l8.34 8.34m0-8.34l-8.34 8.34M581.5 136.5l8.34 8.34m0-8.34l-8.34 8.34M582.4 135.8l8.34 8.34m0-8.34l-8.34 8.34M583.4 135.1l8.34 8.34m0-8.34l-8.34 8.34M584.3 134.5l8.34 8.34m0-8.34l-8.34 8.34M585.2 133.8l8.34 8.34m0-8.34l-8.34 8.34M586.2 133.2l8.34 8.34m0-8.34l-8.34 8.34M587.2 132.5l8.34 8.34m0-8.34l-8.34 8.34M588.1 131.8l8.34 8.34m0-8.34l-8.34 8.34M589.0 131.2l8.34 8.34m0-8.34l-8.34 8.34M590.0 130.5l8.34 8.34m0-8.34l-8.34 8.34M591.0 129.9l8.34 8.34m0-8.34l-8.34 8.34M591.9 129.2l8.34 8.34m0-8.34l-8.34 8.34M592.8 128.6l8.34 8.34m0-8.34l-8.34 8.34M593.8 127.9l8.34 8.34m0-8.34l-8.34 8.34M594.8 127.2l8.34 8.34m0-8.34l-8.34 8.34M595.7 126.6l8.34 8.34m0-8.34l-8.34 8.34M596.6 125.9l8.34 8.34m0-8.34l-8.34 8.34M597.6 125.3l8.34 8.34m0-8.34l-8.34 8.34M598.5 124.6l8.34 8.34m0-8.34l-8.34 8.34M599.5 124.0l8.34 8.34m0-8.34l-8.34 8.34M600.4 123.3l8.34 8.34m0-8.34l-8.34 8.34M601.3 122.7l8.34 8.34m0-8.34l-8.34 8.34M602.3 122.0l8.34 8.34m0-8.34l-8.34 8.34M603.2 121.4l8.34 8.34m0-8.34l-8.34 8.34M604.1 120.7l8.34 8.34m0-8.34l-8.34 8.34M605.1 120.1l8.34 8.34m0-8.34l-8.34 8.34M606.0 119.5l8.34 8.34m0-8.34l-8.34 8.34M606.9 118.8l8.34 8.34m0-8.34l-8.34 8.34M607.9 118.2l8.34 8.34m0-8.34l-8.34 8.34M608.8 117.5l8.34 8.34m0-8.34l-8.34 8.34M609.7 116.9l8.34 8.34m0-8.34l-8.34 8.34M610.4 116.4l8.34 8.34m0-8.34l-8.34 8.34" stroke="#d62728" stroke-width="2.1" fill="none"/>
<path d="M409.3 263.2l8.34 8.34m0-8.34l-8.34 8.34M413.5 259.5l8.34 8.34m0-8.34l-8.34 8.34M417.5 256.2l8.34 8.34m0-8.34l-8.34 8.34M421.0 253.1l8.34 8.34m0-8.34l-8.34 8.34M424.4 250.3l8.34 8.34m0-8.34l-8.34 8.34M427.5 247.7l8.34 8.34m0-8.34l-8.34 8.34M430.4 245.3l8.34 8.34m0-8.34l-8.34 8.34M433.1 243.0l8.34 8.34m0-8.34l-8.34 8.34M435.7 240.9l8.34 8.34m0-8.34l-8.34 8.34M438.1 238.9l8.34 8.34m0-8.34l-8.34 8.34M440.4 237.0l8.34 8.34m0-8.34l-8.34 8.34M442.6 235.3l8.34 8.34m0-8.34l-8.34 8.34M444.7 233.6l8.34 8.34m0-8.34l-8.34 8.34M446.7 232.0l8.34 8.34m0-8.34l-8.34 8.34M448.6 230.4l8.34 8.34m0-8.34l-8.34 8.34M450.5 228.9l8.34 8.34m0-8.34l-8.34 8.34M452.2 227.5l8.34 8.34m0-8.34l-8.34 8.34M453.9 226.2l8.34 8.34m0-8.34l-8.34 8.34M455.6 224.8l8.34 8.34m0-8.34l-8.34 8.34M457.1 223.6l8.34 8.34m0-8.34l-8.34 8.34M458.7 222.3l8.34 8.34m0-8.34l-8.34 8.34M460.1 221.2l8.34 8.34m0-8.34l-8.34 8.34M461.6 220.0l8.34 8.34m0-8.34l-8.34 8.34M462.9 218.9l8.34 8.34m0-8.34l-8.34 8.34M464.3 217.8l8.34 8.34m0-8.34l-8.34 8.34M465.6 216.8l8.34 8.34m0-8.34l-8.34 8.34M466.9 215.7l8.34 8.34m0-8.34l-8.34 8.34M468.1 214.8l8.34 8.34m0-8.34l-8.34 8.34M469.3 213.8l8.34 8.34m0-8.34l-8.34 8.34M470.5 212.9l8.34 8.34m0-8.34l-8.34 8.34M471.6 212.0l8.34 8.34m0-8.34l-8.34 8.34M472.7 211.1l8.34 8.34m0-8.34l-8.34 8.34M473.8 210.2l8.34 8.34m0-8.34l-8.34 8.34M474.8 209.4l8.34 8.34m0-8.34l-8.34 8.34M475.9 208.5l8.34 8.34m0-8.34l-8.34 8.34M476.9 207.7l8.34 8.34m0-8.34l-8.34 8.34M477.9 206.9l8.34 8.34m0-8.34l-8.34 8.34M478.8 206.2l8.34 8.34m0-8.34l-8.34 8.34M479.8 205.4l8.34 8.34m0-8.34l-8.34 8.34M480.7 204.7l8.34 8.34m0-8.34l-8.34 8.34M481.6 204.0l8.34 8.34m0-8.34l-8.34 8.34M482.5 203.2l8.34 8.34m0-8.34l-8.34 8.34M483.4 202.6l8.34 8.34m0-8.34l-8.34 8.34M485.1 201.2l8.34 8.34m0-8.34l-8.34 8.34M486.7 199.9l8.34 8.34m0-8.34l-8.34 8.34M488.3 198.7l8.34 8.34m0-8.34l-8.34 8.34M489.8 197.5l8.34 8.34m0-8.34l-8.34 8.34M491.3 196.3l8.34 8.34m0-8.34l-8.34 8.34M492.7 195.2l8.34 8.34m0-8.34l-8.34 8.34M494.1 194.1l8.34 8.34m0-8.34l-8.34 8.34M495.5 193.0l8.34 8.34m0-8.34l-8.34 8.34M496.8 192.0l8.34 8.34m0-8.34l-8.34 8.34M498.0 191.0l8.34 8.34m0-8.34l-8.34 8.34M499.3 190.1l8.34 8.34m0-8.34l-8.34 8.34M500.5 189.1l8.34 8.34m0-8.34l-8.34 8.34M501.6 188.2l8.34 8.34m0-8.34l-8.34 8.34M502.8 187.3l8.34 8.34m0-8.34l-8.34 8.34M503.9 186.5l8.34 8.34m0-8.34l-8.34 8.34M505.0 185.6l8.34 8.34m0-8.34l-8.34 8.34M506.0 184.8l8.34 8.34m0-8.34l-8.34 8.34M507.1 184.0l8.34 8.34m0-8.34l-8.34 8.34M508.1 183.2l8.34 8.34m0-8.34l-8.34 8.34M509.1 182.4l8.34 8.34m0-8.34l-8.34 8.34M510.0 181.7l8.34 8.34m0-8.34l-8.34 8.34M511.0 181.0l8.34 8.34m0-8.34l-8.34 8.34M511.9 180.2l8.34 8.34m0-8.34l-8.34 8.34M512.8 179.5l8.34 8.34m0-8.34l-8.34 8.34M513.7 178.9l8.34 8.34m0-8.34l-8.34 8.34M514.6 178.2l8.34 8.34m0-8.34l-8.34 8.34M515.9 177.2l8.34 8.34m0-8.34l-8.34 8.34M517.1 176.2l8.34 8.34m0-8.34l-8.34 8.34M518.3 175.3l8.34 8.34m0-8.34l-8.34 8.34M519.5 174.4l8.34 8.34m0-8.34l-8.34 8.34M520.6 173.5l8.34 8.34m0-8.34l-8.34 8.34M521.8 172.7l8.34 8.34m0-8.34l-8.34 8.34M522.9 171.9l8.34 8.34m0-8.34l-8.34 8.34M523.9 171.0l8.34 8.34m0-8.34l-8.34 8.34M525.0 170.3l8.34 8.34m0-8.34l-8.34 8.34M526.0 169.5l8.34 8.34m0-8.34l-8.34 8.34M527.0 168.7l8.34 8.34m0-8.34l-8.34 8.34M528.0 168.0l8.34 8.34m0-8.34l-8.34 8.34M528.9 167.3l8.34 8.34m0-8.34l-8.34 8.34M529.8 166.6l8.34 8.34m0-8.34l-8.34 8.34M530.8 165.9l8.34 8.34m0-8.34l-8.34 8.34M531.7 165.2l8.34 8.34m0-8.34l-8.34 8.34M532.5 164.5l8.34 8.34m0-8.34l-8.34 8.34M533.7 163.7l8.34 8.34m0-8.34l-8.34 8.34M534.8 162.8l8.34 8.34m0-8.34l-8.34 8.34M535.9 162.0l8.34 8.34m0-8.34l-8.34 8.34M537.0 161.2l8.34 8.34m0-8.34l-8.34 8.34M538.0 160.4l8.34 8.34m0-8.34l-8.34 8.34M539.0 159.7l8.34 8.34m0-8.34l-8.34 8.34M540.0 158.9l8.34 8.34m0-8.34l-8.34 8.34M541.0 158.2l8.34 8.34m0-8.34l-8.34 8.34M541.9 157.5l8.34 8.34m0-8.34l-8.34 8.34M542.9 156.8l8.34 8.34m0-8.34l-8.34 8.34M543.8 156.1l8.34 8.34m0-8.34l-8.34 8.34M544.7 155.5l8.34 8.34m0-8.34l-8.34 8.34M545.8 154.6l8.34 8.34m0-8.34l-8.34 8.34M546.8 153.9l8.34 8.34m0-8.34l-8.34 8.34M547.9 153.1l8.34 8.34m0-8.34l-8.34 8.34M548.9 152.3l8.34 8.34m0-8.34l-8.34 8.34M549.9 151.6l8.34 8.34m0-8.34l-8.34 8.34M550.9 150.9l8.34 8.34m0-8.34l-8.34 8.34M551.8 150.2l8.34 8.34m0-8.34l-8.34 8.34M552.8 149.5l8.34 8.34m0-8.34l-8.34 8.34M553.7 148.8l8.34 8.34m0-8.34l-8.34 8.34M554.6 148.2l8.34 8.34m0-8.34l-8.34 8.34M555.6 147.4l8.34 8.34m0-8.34l-8.34 8.34M556.7 146.6l8.34 8.34m0-8.34l-8.34 8.34M557.7 145.9l8.34 8.34m0-8.34l-8.34 8.34M558.7 145.2l8.34 8.34m0-8.34l-8.34 8.34M559.6 144.5l8.34 8.34m0-8.34l-8.34 8.34M560.6 143.8l8.34 8.34m0-8.34l-8.34 8.34M561.5 143.1l8.34 8.34m0-8.34l-8.34 8.34M562.4 142.4l8.34 8.34m0-8.34l-8.34 8.34M563.4 141.7l8.34 8.34m0-8.34l-8.34 8.34M564.4 140.9l8.34 8.34m0-8.34l-8.34 8.34M565.4 140.2l8.34 8.34m0-8.34l-8.34 8.34M566.4 139.5l8.34 8.34m0-8.34l-8.34 8.34M567.3 138.8l8.34 8.34m0-8.34l-8.34 8.34M568.3 138.2l8.34 8.34m0-8.34l-8.34 8.34M569.2 137.5l8.34 8.34m0-8.34l-8.34 8.34M570.2 136.8l8.34 8.34m0-8.34l-8.34 8.34M571.2 136.1l8.34 8.34m0-8.34l-8.34 8.34M572.2 135.4l8.34 8.34m0-8.34l-8.34 8.34M573.1 134.7l8.34 8.34m0-8.34l-8.34 8.34M574.0 134.0l8.34 8.34m0-8.34l-8.34 8.34M575.0 133.3l8.34 8.34m0-8.34l-8.34 8.34M575.9 132.7l8.34 8.34m0-8.34l-8.34 8.34M576.8 132.0l8.34 8.34m0-8.34l-8.34 8.34M577.8 131.3l8.34 8.34m0-8.34l-8.34 8.34M578.8 130.6l8.34 8.34m0-8.34l-8.34 8.34M579.7 129.9l8.34 8.34m0-8.34l-8.34 8.34M580.6 129.3l8.34 8.34m0-8.34l-8.34 8.34M581.6 128.6l8.34 8.34m0-8.34l-8.34 8.34M582.5 127.9l8.34 8.34m0-8.34l-8.34 8.34M583.5 127.2l8.34 8.34m0-8.34l-8.34 8.34M584.4 126.6l8.34 8.34m0-8.34l-8.34 8.34M585.3 125.9l8.34 8.34m0-8.34l-8.34 8.34M586.3 125.2l8.34 8.34m0-8.34l-8.34 8.34M587.2 124.5l8.34 8.34m0-8.34l-8.34 8.34M588.2 123.9l8.34 8.34m0-8.34l-8.34 8.34M589.1 123.2l8.34 8.34m0-8.34l-8.34 8.34M590.0 122.6l8.34 8.34m0-8.34l-8.34 8.34M591.0 121.9l8.34 8.34m0-8.34l-8.34 8.34M591.9 121.2l8.34 8.34m0-8.34l-8.34 8.34M592.8 120.5l8.34 8.34m0-8.34l-8.34 8.34M593.7 119.9l8.34 8.34m0-8.34l-8.34 8.34M594.7 119.2l8.34 8.34m0-8.34l-8.34 8.34M595.6 118.6l8.34 8.34m0-8.34l-8.34 8.34M596.5 117.9l8.34 8.34m0-8.34l-8.34 8.34M597.4 117.3l8.34 8.34m0-8.34l-8.34 8.34M598.4 116.6l8.34 8.34m0-8.34l-8.34 8.34M599.3 115.9l8.34 8.34m0-8.34l-8.34 8.34M600.2 115.3l8.34 8.34m0-8.34l-8.34 8.34M601.2 114.6l8.34 8.34m0-8.34l-8.34 8.34M602.1 113.9l8.34 8.34m0-8.34l-8.34 8.34M603.0 113.3l8.34 8.34m0-8.34l-8.34 8.34M603.9 112.6l8.34 8.34m0-8.34l-8.34 8.34M604.9 112.0l8.34 8.34m0-8.34l-8.34 8.34M605.8 111.3l8.34 8.34m0-8.34l-8.34 8.34M606.7 110.7l8.34 8.34m0-8.34l-8.34 8.34M607.6 110.0l8.34 8.34m0-8.34l-8.34 8.34M608.6 109.4l8.34 8.34m0-8.34l-8.34 8.34M609.5 108.7l8.34 8.34m0-8.34l-8.34 8.34M610.4 108.0l8.34 8.34m0-8.34l-8.34 8.34" stroke="#8c564b" stroke-width="2.1" fill="none"/>
<path d="M409.3 260.4l8.34 8.34m0-8.34l-8.34 8.34M413.5 256.7l8.34 8.34m0-8.34l-8.34 8.34M417.5 253.3l8.34 8.34m0-8.34l-8.34 8.34M421.0 250.2l8.34 8.34m0-8.34l-8.34 8.34M424.4 247.4l8.34 8.34m0-8.34l-8.34 8.34M427.5 244.8l8.34 8.34m0-8.34l-8.34 8.34M430.4 242.3l8.34 8.34m0-8.34l-8.34 8.34M433.1 240.0l8.34 8.34m0-8.34l-8.34 8.34M435.7 237.9l8.34 8.34m0-8.34l-8.34 8.34M438.1 235.9l8.34 8.34m0-8.34l-8.34 8.34M440.4 234.0l8.34 8.34m0-8.34l-8.34 8.34M442.6 232.2l8.34 8.34m0-8.34l-8.34 8.34M444.7 230.5l8.34 8.34m0-8.34l-8.34 8.34M446.7 228.9l8.34 8.34m0-8.34l-8.34 8.34M448.6 227.4l8.34 8.34m0-8.34l-8.34 8.34M450.5 225.9l8.34 8.34m0-8.34l-8.34 8.34M452.2 224.4l8.34 8.34m0-8.34l-8.34 8.34M453.9 223.0l8.34 8.34m0-8.34l-8.34 8.34M455.6 221.7l8.34 8.34m0-8.34l-8.34 8.34M457.1 220.4l8.34 8.34m0-8.34l-8.34 8.34M458.7 219.2l8.34 8.34m0-8.34l-8.34 8.34M460.1 218.0l8.34 8.34m0-8.34l-8.34 8.34M461.6 216.8l8.34 8.34m0-8.34l-8.34 8.34M462.9 215.7l8.34 8.34m0-8.34l-8.34 8.34M464.3 214.6l8.34 8.34m0-8.34l-8.34 8.34M465.6 213.6l8.34 8.34m0-8.34l-8.34 8.34M466.9 212.5l8.34 8.34m0-8.34l-8.34 8.34M468.1 211.5l8.34 8.34m0-8.34l-8.34 8.34M469.3 210.6l8.34 8.34m0-8.34l-8.34 8.34M470.5 209.6l8.34 8.34m0-8.34l-8.34 8.34M471.6 208.7l8.34 8.34m0-8.34l-8.34 8.34M472.7 207.8l8.34 8.34m0-8.34l-8.34 8.34M473.8 206.9l8.34 8.34m0-8.34l-8.34 8.34M474.8 206.1l8.34 8.34m0-8.34l-8.34 8.34M475.9 205.3l8.34 8.34m0-8.34l-8.34 8.34M476.9 204.4l8.34 8.34m0-8.34l-8.34 8.34M477.9 203.6l8.34 8.34m0-8.34l-8.34 8.34M478.8 202.9l8.34 8.34m0-8.34l-8.34 8.34M479.8 202.1l8.34 8.34m0-8.34l-8.34 8.34M480.7 201.4l8.34 8.34m0-8.34l-8.34 8.34M481.6 200.6l8.34 8.34m0-8.34l-8.34 8.34M482.5 199.9l8.34 8.34m0-8.34l-8.34 8.34M483.4 199.2l8.34 8.34m0-8.34l-8.34 8.34M485.1 197.9l8.34 8.34m0-8.34l-8.34 8.34M486.7 196.6l8.34 8.34m0-8.34l-8.34 8.34M488.3 195.3l8.34 8.34m0-8.34l-8.34 8.34M489.8 194.1l8.34 8.34m0-8.34l-8.34 8.34M491.3 192.9l8.34 8.34m0-8.34l-8.34 8.34M492.7 191.8l8.34 8.34m0-8.34l-8.34 8.34M494.1 190.7l8.34 8.34m0-8.34l-8.34 8.34M495.5 189.6l8.34 8.34m0-8.34l-8.34 8.34M496.8 188.6l8.34 8.34m0-8.34l-8.34 8.34M498.0 187.6l8.34 8.34m0-8.34l-8.34 8.34M499.3 186.6l8.34 8.34m0-8.34l-8.34 8.34M500.5 185.7l8.34 8.34m0-8.34l-8.34 8.34M501.6 184.7l8.34 8.34m0-8.34l-8.34 8.34M502.8 183.9l8.34 8.34m0-8.34l-8.34 8.34M503.9 183.0l8.34 8.34m0-8.34l-8.34 8.34M505.0 182.1l8.34 8.34m0-8.34l-8.34 8.34M506.0 181.3l8.34 8.34m0-8.34l-8.34 8.34M507.1 180.5l8.34 8.34m0-8.34l-8.34 8.34M508.1 179.7l8.34 8.34m0-8.34l-8.34 8.34M509.1 178.9l8.34 8.34m0-8.34l-8.34 8.34M510.0 178.2l8.34 8.34m0-8.34l-8.34 8.34M511.0 177.4l8.34 8.34m0-8.34l-8.34 8.34M511.9 176.7l8.34 8.34m0-8.34l-8.34 8.34M512.8 176.0l8.34 8.34m0-8.34l-8.34 8.34M513.7 175.3l8.34 8.34m0-8.34l-8.34 8.34M514.6 174.6l8.34 8.34m0-8.34l-8.34 8.34M515.9 173.6l8.34 8.34m0-8.34l-8.34 8.34M517.1 172.7l8.34 8.34m0-8.34l-8.34 8.34M518.3 171.7l8.34 8.34m0-8.34l-8.34 8.34M519.5 170.8l8.34 8.34m0-8.34l-8.34 8.34M520.6 170.0l8.34 8.34m0-8.34l-8.34 8.34M521.8 169.1l8.34 8.34m0-8.34l-8.34 8.34M522.9 168.3l8.34 8.34m0-8.34l-8.34 8.34M523.9 167.4l8.34 8.34m0-8.34l-8.34 8.34M525.0 166.6l8.34 8.34m0-8.34l-8.34 8.34M526.0 165.9l8.34 8.34m0-8.34l-8.34 8.34M527.0 165.1l8.34 8.34m0-8.34l-8.34 8.34M528.0 164.3l8.34 8.34m0-8.34l-8.34 8.34M528.9 163.6l8.34 8.34m0-8.34l-8.34 8.34M529.8 162.9l8.34 8.34m0-8.34l-8.34 8.34M530.8 162.2l8.34 8.34m0-8.34l-8.34 8.34M531.7 161.5l8.34 8.34m0-8.34l-8.34 8.34M532.5 160.9l8.34 8.34m0-8.34l-8.34 8.34M533.7 160.0l8.34 8.34m0-8.34l-8.34 8.34M534.8 159.1l8.34 8.34m0-8.34l-8.34 8.34M535.9 158.3l8.34 8.34m0-8.34l-8.34 8.34M537.0 157.5l8.34 8.34m0-8.34l-8.34 8.34M538.0 156.7l8.34 8.34m0-8.34l-8.34 8.34M539.0 156.0l8.34 8.34m0-8.34l-8.34 8.34M540.0 155.2l8.34 8.34m0-8.34l-8.34 8.34M541.0 154.5l8.34 8.34m0-8.34l-8.34 8.34M541.9 153.8l8.34 8.34m0-8.34l-8.34 8.34M542.9 153.1l8.34 8.34m0-8.34l-8.34 8.34M543.8 152.4l8.34 8.34m0-8.34l-8.34 8.34M544.7 151.7l8.34 8.34m0-8.34l-8.34 8.34M545.8 150.9l8.34 8.34m0-8.34l-8.34 8.34M546.8 150.1l8.34 8.34m0-8.34l-8.34 8.34M547.9 149.3l8.34 8.34m0-8.34l-8.34 8.34M548.9 148.6l8.34 8.34m0-8.34l-8.34 8.34M549.9 147.8l8.34 8.34m0-8.34l-8.34 8.34M550.9 147.1l8.34 8.34m0-8.34l-8.34 8.34M551.8 146.4l8.34 8.34m0-8.34l-8.34 8.34M552.8 145.7l8.34 8.34m0-8.34l-8.34 8.34M553.7 145.0l8.34 8.34m0-8.34l-8.34 8.34M554.6 144.3l8.34 8.34m0-8.34l-8.34 8.34M555.6 143.6l8.34 8.34m0-8.34l-8.34 8.34M556.7 142.8l8.34 8.34m0-8.34l-8.34 8.34M557.7 142.0l8.34 8.34m0-8.34l-8.34 8.34M558.7 141.3l8.34 8.34m0-8.34l-8.34 8.34M559.6 140.6l8.34 8.34m0-8.34l-8.34 8.34M560.6 139.9l8.34 8.34m0-8.34l-8.34 8.34M561.5 139.2l8.34 8.34m0-8.34l-8.34 8.34M562.4 138.6l8.34 8.34m0-8.34l-8.34 8.34M563.3 137.9l8.34 8.34m0-8.34l-8.34 8.34M564.3 137.2l8.34 8.34m0-8.34l-8.34 8.34M565.3 136.4l8.34 8.34m0-8.34l-8.34 8.34M566.3 135.7l8.34 8.34m0-8.34l-8.34 8.34M567.2 135.0l8.34 8.34m0-8.34l-8.34 8.34M568.1 134.4l8.34 8.34m0-8.34l-8.34 8.34M569.0 133.7l8.34 8.34m0-8.34l-8.34 8.34M569.9 133.0l8.34 8.34m0-8.34l-8.34 8.34M570.9 132.3l8.34 8.34m0-8.34l-8.34 8.34M571.9 131.6l8.34 8.34m0-8.34l-8.34 8.34M572.9 130.9l8.34 8.34m0-8.34l-8.34 8.34M573.8 130.2l8.34 8.34m0-8.34l-8.34 8.34M574.7 129.6l8.34 8.34m0-8.34l-8.34 8.34M575.6 128.9l8.34 8.34m0-8.34l-8.34 8.34M576.6 128.2l8.34 8.34m0-8.34l-8.34 8.34M577.6 127.5l8.34 8.34m0-8.34l-8.34 8.34M578.5 126.8l8.34 8.34m0-8.34l-8.34 8.34M579.5 126.1l8.34 8.34m0-8.34l-8.34 8.34M580.4 125.5l8.34 8.34m0-8.34l-8.34 8.34M581.3 124.8l8.34 8.34m0-8.34l-8.34 8.34M582.2 124.1l8.34 8.34m0-8.34l-8.34 8.34M583.2 123.4l8.34 8.34m0-8.34l-8.34 8.34M584.1 122.7l8.34 8.34m0-8.34l-8.34 8.34M585.0 122.1l8.34 8.34m0-8.34l-8.34 8.34M585.9 121.4l8.34 8.34m0-8.34l-8.34 8.34M586.9 120.7l8.34 8.34m0-8.34l-8.34 8.34M587.8 120.1l8.34 8.34m0-8.34l-8.34 8.34M588.8 119.4l8.34 8.34m0-8.34l-8.34 8.34M589.7 118.7l8.34 8.34m0-8.34l-8.34 8.34M590.6 118.0l8.34 8.34m0-8.34l-8.34 8.34M591.6 117.4l8.34 8.34m0-8.34l-8.34 8.34M592.5 116.7l8.34 8.34m0-8.34l-8.34 8.34M593.4 116.0l8.34 8.34m0-8.34l-8.34 8.34M594.4 115.4l8.34 8.34m0-8.34l-8.34 8.34M595.3 114.7l8.34 8.34m0-8.34l-8.34 8.34M596.3 114.0l8.34 8.34m0-8.34l-8.34 8.34M597.2 113.4l8.34 8.34m0-8.34l-8.34 8.34M598.1 112.7l8.34 8.34m0-8.34l-8.34 8.34M599.1 112.0l8.34 8.34m0-8.34l-8.34 8.34M600.0 111.3l8.34 8.34m0-8.34l-8.34 8.34M600.9 110.7l8.34 8.34m0-8.34l-8.34 8.34M601.8 110.0l8.34 8.34m0-8.34l-8.34 8.34M602.7 109.4l8.34 8.34m0-8.34l-8.34 8.34M603.6 108.7l8.34 8.34m0-8.34l-8.34 8.34M604.6 108.0l8.34 8.34m0-8.34l-8.34 8.34M605.5 107.4l8.34 8.34m0-8.34l-8.34 8.34M606.4 106.7l8.34 8.34m0-8.34l-8.34 8.34M607.4 106.0l8.34 8.34m0-8.34l-8.34 8.34M608.3 105.4l8.34 8.34m0-8.34l-8.34 8.34M609.2 104.7l8.34 8.34m0-8.34l-8.34 8.34M610.1 104.1l8.34 8.34m0-8.34l-8.34 8.34M610.4 103.9l8.34 8.34m0-8.34l-8.34 8.34" stroke="#17becf" stroke-width="2.1" fill="none"/>
<path d="M409.3 258.0l8.34 8.34m0-8.34l-8.34 8.34M413.5 254.1l8.34 8.34m0-8.34l-8.34 8.34M417.5 250.6l8.34 8.34m0-8.34l-8.34 8.34M421.0 247.4l8.34 8.34m0-8.34l-8.34 8.34M424.4 244.4l8.34 8.34m0-8.34l-8.34 8.34M427.5 241.7l8.34 8.34m0-8.34l-8.34 8.34M430.4 239.2l8.34 8.34m0-8.34l-8.34 8.34M433.1 236.8l8.34 8.34m0-8.34l-8.34 8.34M435.7 234.6l8.34 8.34m0-8.34l-8.34 8.34M438.1 232.5l8.34 8.34m0-8.34l-8.34 8.34M440.4 230.5l8.34 8.34m0-8.34l-8.34 8.34M442.6 228.7l8.34 8.34m0-8.34l-8.34 8.34M444.7 226.9l8.34 8.34m0-8.34l-8.34 8.34M446.7 225.2l8.34 8.34m0-8.34l-8.34 8.34M448.6 223.6l8.34 8.34m0-8.34l-8.34 8.34M450.5 222.0l8.34 8.34m0-8.34l-8.34 8.34M452.2 220.5l8.34 8.34m0-8.34l-8.34 8.34M453.9 219.1l8.34 8.34m0-8.34l-8.34 8.34M455.6 217.7l8.34 8.34m0-8.34l-8.34 8.34M457.1 216.4l8.34 8.34m0-8.34l-8.34 8.34M458.7 215.1l8.34 8.34m0-8.34l-8.34 8.34M460.1 213.9l8.34 8.34m0-8.34l-8.34 8.34M461.6 212.6l8.34 8.34m0-8.34l-8.34 8.34M462.9 211.5l8.34 8.34m0-8.34l-8.34 8.34M464.3 210.4l8.34 8.34m0-8.34l-8.34 8.34M465.6 209.3l8.34 8.34m0-8.34l-8.34 8.34M466.9 208.2l8.34 8.34m0-8.34l-8.34 8.34M468.1 207.1l8.34 8.34m0-8.34l-8.34 8.34M469.3 206.1l8.34 8.34m0-8.34l-8.34 8.34M470.5 205.2l8.34 8.34m0-8.34l-8.34 8.34M471.6 204.2l8.34 8.34m0-8.34l-8.34 8.34M472.7 203.3l8.34 8.34m0-8.34l-8.34 8.34M473.8 202.4l8.34 8.34m0-8.34l-8.34 8.34M474.8 201.5l8.34 8.34m0-8.34l-8.34 8.34M475.9 200.6l8.34 8.34m0-8.34l-8.34 8.34M476.9 199.8l8.34 8.34m0-8.34l-8.34 8.34M477.9 198.9l8.34 8.34m0-8.34l-8.34 8.34M478.8 198.1l8.34 8.34m0-8.34l-8.34 8.34M479.8 197.3l8.34 8.34m0-8.34l-8.34 8.34M480.7 196.6l8.34 8.34m0-8.34l-8.34 8.34M481.6 195.8l8.34 8.34m0-8.34l-8.34 8.34M482.5 195.1l8.34 8.34m0-8.34l-8.34 8.34M483.4 194.3l8.34 8.34m0-8.34l-8.34 8.34M484.3 193.6l8.34 8.34m0-8.34l-8.34 8.34M485.9 192.2l8.34 8.34m0-8.34l-8.34 8.34M487.5 190.9l8.34 8.34m0-8.34l-8.34 8.34M489.1 189.6l8.34 8.34m0-8.34l-8.34 8.34M490.6 188.4l8.34 8.34m0-8.34l-8.34 8.34M492.0 187.2l8.34 8.34m0-8.34l-8.34 8.34M493.4 186.0l8.34 8.34m0-8.34l-8.34 8.34M494.8 184.9l8.34 8.34m0-8.34l-8.34 8.34M496.1 183.8l8.34 8.34m0-8.34l-8.34 8.34M497.4 182.7l8.34 8.34m0-8.34l-8.34 8.34M498.7 181.7l8.34 8.34m0-8.34l-8.34 8.34M499.9 180.7l8.34 8.34m0-8.34l-8.34 8.34M501.1 179.8l8.34 8.34m0-8.34l-8.34 8.34M502.2 178.8l8.34 8.34m0-8.34l-8.34 8.34M503.3 177.9l8.34 8.34m0-8.34l-8.34 8.34M504.4 177.0l8.34 8.34m0-8.34l-8.34 8.34M505.5 176.1l8.34 8.34m0-8.34l-8.34 8.34M506.5 175.3l8.34 8.34m0-8.34l-8.34 8.34M507.6 174.4l8.34 8.34m0-8.34l-8.34 8.34M508.6 173.6l8.34 8.34m0-8.34l-8.34 8.34M509.5 172.8l8.34 8.34m0-8.34l-8.34 8.34M510.5 172.1l8.34 8.34m0-8.34l-8.34 8.34M511.4 171.3l8.34 8.34m0-8.34l-8.34 8.34M512.4 170.6l8.34 8.34m0-8.34l-8.34 8.34M513.3 169.8l8.34 8.34m0-8.34l-8.34 8.34M514.1 169.1l8.34 8.34m0-8.34l-8.34 8.34M515.0 168.4l8.34 8.34m0-8.34l-8.34 8.34M516.3 167.4l8.34 8.34m0-8.34l-8.34 8.34M517.5 166.4l8.34 8.34m0-8.34l-8.34 8.34M518.7 165.4l8.34 8.34m0-8.34l-8.34 8.34M519.9 164.5l8.34 8.34m0-8.34l-8.34 8.34M521.0 163.6l8.34 8.34m0-8.34l-8.34 8.34M522.1 162.7l8.34 8.34m0-8.34l-8.34 8.34M523.2 161.8l8.34 8.34m0-8.34l-8.34 8.34M524.3 161.0l8.34 8.34m0-8.34l-8.34 8.34M525.3 160.2l8.34 8.34m0-8.34l-8.34 8.34M526.3 159.4l8.34 8.34m0-8.34l-8.34 8.34M527.3 158.6l8.34 8.34m0-8.34l-8.34 8.34M528.3 157.8l8.34 8.34m0-8.34l-8.34 8.34M529.2 157.1l8.34 8.34m0-8.34l-8.34 8.34M530.1 156.3l8.34 8.34m0-8.34l-8.34 8.34M531.1 155.6l8.34 8.34m0-8.34l-8.34 8.34M531.9 154.9l8.34 8.34m0-8.34l-8.34 8.34M532.8 154.2l8.34 8.34m0-8.34l-8.34 8.34M534.0 153.3l8.34 8.34m0-8.34l-8.34 8.34M535.1 152.4l8.34 8.34m0-8.34l-8.34 8.34M536.2 151.6l8.34 8.34m0-8.34l-8.34 8.34M537.2 150.8l8.34 8.34m0-8.34l-8.34 8.34M538.2 149.9l8.34 8.34m0-8.34l-8.34 8.34M539.3 149.1l8.34 8.34m0-8.34l-8.34 8.34M540.2 148.4l8.34 8.34m0-8.34l-8.34 8.34M541.2 147.6l8.34 8.34m0-8.34l-8.34 8.34M542.2 146.9l8.34 8.34m0-8.34l-8.34 8.34M543.1 146.2l8.34 8.34m0-8.34l-8.34 8.34M544.0 145.4l8.34 8.34m0-8.34l-8.34 8.34M544.9 144.8l8.34 8.34m0-8.34l-8.34 8.34M545.8 144.1l8.34 8.34m0-8.34l-8.34 8.34M546.8 143.2l8.34 8.34m0-8.34l-8.34 8.34M547.9 142.4l8.34 8.34m0-8.34l-8.34 8.34M548.9 141.6l8.34 8.34m0-8.34l-8.34 8.34M549.9 140.9l8.34 8.34m0-8.34l-8.34 8.34M550.9 140.1l8.34 8.34m0-8.34l-8.34 8.34M551.8 139.4l8.34 8.34m0-8.34l-8.34 8.34M552.8 138.7l8.34 8.34m0-8.34l-8.34 8.34M553.7 137.9l8.34 8.34m0-8.34l-8.34 8.34M554.6 137.3l8.34 8.34m0-8.34l-8.34 8.34M555.5 136.6l8.34 8.34m0-8.34l-8.34 8.34M556.5 135.8l8.34 8.34m0-8.34l-8.34 8.34M557.5 135.0l8.34 8.34m0-8.34l-8.34 8.34M558.5 134.2l8.34 8.34m0-8.34l-8.34 8.34M559.5 133.5l8.34 8.34m0-8.34l-8.34 8.34M560.4 132.8l8.34 8.34m0-8.34l-8.34 8.34M561.3 132.1l8.34 8.34m0-8.34l-8.34 8.34M562.2 131.4l8.34 8.34m0-8.34l-8.34 8.34M563.1 130.7l8.34 8.34m0-8.34l-8.34 8.34M564.1 129.9l8.34 8.34m0-8.34l-8.34 8.34M565.1 129.2l8.34 8.34m0-8.34l-8.34 8.34M566.1 128.4l8.34 8.34m0-8.34l-8.34 8.34M567.1 127.7l8.34 8.34m0-8.34l-8.34 8.34M568.0 127.0l8.34 8.34m0-8.34l-8.34 8.34M568.9 126.3l8.34 8.34m0-8.34l-8.34 8.34M569.8 125.6l8.34 8.34m0-8.34l-8.34 8.34M570.7 124.9l8.34 8.34m0-8.34l-8.34 8.34M571.7 124.2l8.34 8.34m0-8.34l-8.34 8.34M572.6 123.5l8.34 8.34m0-8.34l-8.34 8.34M573.6 122.8l8.34 8.34m0-8.34l-8.34 8.34M574.5 122.1l8.34 8.34m0-8.34l-8.34 8.34M575.4 121.4l8.34 8.34m0-8.34l-8.34 8.34M576.3 120.7l8.34 8.34m0-8.34l-8.34 8.34M577.3 120.0l8.34 8.34m0-8.34l-8.34 8.34M578.2 119.2l8.34 8.34m0-8.34l-8.34 8.34M579.2 118.5l8.34 8.34m0-8.34l-8.34 8.34M580.1 117.8l8.34 8.34m0-8.34l-8.34 8.34M581.0 117.2l8.34 8.34m0-8.34l-8.34 8.34M581.9 116.5l8.34 8.34m0-8.34l-8.34 8.34M582.8 115.8l8.34 8.34m0-8.34l-8.34 8.34M583.8 115.1l8.34 8.34m0-8.34l-8.34 8.34M584.7 114.4l8.34 8.34m0-8.34l-8.34 8.34M585.6 113.7l8.34 8.34m0-8.34l-8.34 8.34M586.5 113.0l8.34 8.34m0-8.34l-8.34 8.34M587.4 112.3l8.34 8.34m0-8.34l-8.34 8.34M588.4 111.6l8.34 8.34m0-8.34l-8.34 8.34M589.3 110.9l8.34 8.34m0-8.34l-8.34 8.34M590.2 110.3l8.34 8.34m0-8.34l-8.34 8.34M591.1 109.6l8.34 8.34m0-8.34l-8.34 8.34M592.1 108.9l8.34 8.34m0-8.34l-8.34 8.34M593.0 108.2l8.34 8.34m0-8.34l-8.34 8.34M593.9 107.5l8.34 8.34m0-8.34l-8.34 8.34M594.8 106.8l8.34 8.34m0-8.34l-8.34 8.34M595.7 106.1l8.34 8.34m0-8.34l-8.34 8.34M596.6 105.5l8.34 8.34m0-8.34l-8.34 8.34M597.5 104.8l8.34 8.34m0-8.34l-8.34 8.34M598.4 104.1l8.34 8.34m0-8.34l-8.34 8.34M599.3 103.4l8.34 8.34m0-8.34l-8.34 8.34M600.2 102.8l8.34 8.34m0-8.34l-8.34 8.34M601.1 102.1l8.34 8.34m0-8.34l-8.34 8.34M602.1 101.4l8.34 8.34m0-8.34l-8.34 8.34M603.0 100.7l8.34 8.34m0-8.34l-8.34 8.34M603.9 100.0l8.34 8.34m0-8.34l-8.34 8.34M604.8 99.4l8.34 8.34m0-8.34l-8.34 8.34M605.7 98.7l8.34 8.34m0-8.34l-8.34 8.34M606.6 98.0l8.34 8.34m0-8.34l-8.34 8.34M607.5 97.3l8.34 8.34m0-8.34l-8.34 8.34M608.4 96.7l8.34 8.34m0-8.34l-8.34 8.34M609.3 96.0l8.34 8.34m0-8.34l-8.34 8.34M610.2 95.3l8.34 8.34m0-8.34l-8.34 8.34M610.4 95.2l8.34 8.34m0-8.34l-8.34 8.34" stroke="#17becf" stroke-width="2.1" fill="none"/>
<path d="M409.3 255.2l8.34 8.34m0-8.34l-8.34 8.34M413.5 251.2l8.34 8.34m0-8.34l-8.34 8.34M417.5 247.6l8.34 8.34m0-8.34l-8.34 8.34M421.0 244.2l8.34 8.34m0-8.34l-8.34 8.34M424.4 241.2l8.34 8.34m0-8.34l-8.34 8.34M427.5 238.3l8.34 8.34m0-8.34l-8.34 8.34M430.4 235.7l8.34 8.34m0-8.34l-8.34 8.34M433.1 233.3l8.34 8.34m0-8.34l-8.34 8.34M435.7 231.0l8.34 8.34m0-8.34l-8.34 8.34M438.1 228.8l8.34 8.34m0-8.34l-8.34 8.34M440.4 226.8l8.34 8.34m0-8.34l-8.34 8.34M442.6 224.9l8.34 8.34m0-8.34l-8.34 8.34M444.7 223.1l8.34 8.34m0-8.34l-8.34 8.34M446.7 221.3l8.34 8.34m0-8.34l-8.34 8.34M448.6 219.6l8.34 8.34m0-8.34l-8.34 8.34M450.5 218.0l8.34 8.34m0-8.34l-8.34 8.34M452.2 216.5l8.34 8.34m0-8.34l-8.34 8.34M453.9 215.0l8.34 8.34m0-8.34l-8.34 8.34M455.6 213.6l8.34 8.34m0-8.34l-8.34 8.34M457.1 212.2l8.34 8.34m0-8.34l-8.34 8.34M458.7 210.8l8.34 8.34m0-8.34l-8.34 8.34M460.1 209.6l8.34 8.34m0-8.34l-8.34 8.34M461.6 208.3l8.34 8.34m0-8.34l-8.34 8.34M462.9 207.1l8.34 8.34m0-8.34l-8.34 8.34M464.3 205.9l8.34 8.34m0-8.34l-8.34 8.34M465.6 204.8l8.34 8.34m0-8.34l-8.34 8.34M466.9 203.7l8.34 8.34m0-8.34l-8.34 8.34M468.1 202.6l8.34 8.34m0-8.34l-8.34 8.34M469.3 201.6l8.34 8.34m0-8.34l-8.34 8.34M470.5 200.6l8.34 8.34m0-8.34l-8.34 8.34M471.6 199.6l8.34 8.34m0-8.34l-8.34 8.34M472.7 198.6l8.34 8.34m0-8.34l-8.34 8.34M473.8 197.7l8.34 8.34m0-8.34l-8.34 8.34M474.8 196.8l8.34 8.34m0-8.34l-8.34 8.34M475.9 195.9l8.34 8.34m0-8.34l-8.34 8.34M476.9 195.0l8.34 8.34m0-8.34l-8.34 8.34M477.9 194.1l8.34 8.34m0-8.34l-8.34 8.34M478.8 193.3l8.34 8.34m0-8.34l-8.34 8.34M479.8 192.5l8.34 8.34m0-8.34l-8.34 8.34M480.7 191.7l8.34 8.34m0-8.34l-8.34 8.34M481.6 190.9l8.34 8.34m0-8.34l-8.34 8.34M482.5 190.1l8.34 8.34m0-8.34l-8.34 8.34M483.4 189.4l8.34 8.34m0-8.34l-8.34 8.34M484.3 188.6l8.34 8.34m0-8.34l-8.34 8.34M485.1 187.9l8.34 8.34m0-8.34l-8.34 8.34M486.7 186.5l8.34 8.34m0-8.34l-8.34 8.34M488.3 185.2l8.34 8.34m0-8.34l-8.34 8.34M489.8 183.9l8.34 8.34m0-8.34l-8.34 8.34M491.3 182.6l8.34 8.34m0-8.34l-8.34 8.34M492.7 181.4l8.34 8.34m0-8.34l-8.34 8.34M494.1 180.2l8.34 8.34m0-8.34l-8.34 8.34M495.5 179.0l8.34 8.34m0-8.34l-8.34 8.34M496.8 177.9l8.34 8.34m0-8.34l-8.34 8.34M498.0 176.9l8.34 8.34m0-8.34l-8.34 8.34M499.3 175.8l8.34 8.34m0-8.34l-8.34 8.34M500.5 174.8l8.34 8.34m0-8.34l-8.34 8.34M501.6 173.8l8.34 8.34m0-8.34l-8.34 8.34M502.8 172.8l8.34 8.34m0-8.34l-8.34 8.34M503.9 171.9l8.34 8.34m0-8.34l-8.34 8.34M505.0 171.0l8.34 8.34m0-8.34l-8.34 8.34M506.0 170.1l8.34 8.34m0-8.34l-8.34 8.34M507.1 169.2l8.34 8.34m0-8.34l-8.34 8.34M508.1 168.4l8.34 8.34m0-8.34l-8.34 8.34M509.1 167.5l8.34 8.34m0-8.34l-8.34 8.34M510.0 166.7l8.34 8.34m0-8.34l-8.34 8.34M511.0 165.9l8.34 8.34m0-8.34l-8.34 8.34M511.9 165.2l8.34 8.34m0-8.34l-8.34 8.34M512.8 164.4l8.34 8.34m0-8.34l-8.34 8.34M513.7 163.7l8.34 8.34m0-8.34l-8.34 8.34M514.6 162.9l8.34 8.34m0-8.34l-8.34 8.34M515.4 162.2l8.34 8.34m0-8.34l-8.34 8.34M516.7 161.2l8.34 8.34m0-8.34l-8.34 8.34M517.9 160.2l8.34 8.34m0-8.34l-8.34 8.34M519.1 159.2l8.34 8.34m0-8.34l-8.34 8.34M520.3 158.2l8.34 8.34m0-8.34l-8.34 8.34M521.4 157.3l8.34 8.34m0-8.34l-8.34 8.34M522.5 156.4l8.34 8.34m0-8.34l-8.34 8.34M523.6 155.5l8.34 8.34m0-8.34l-8.34 8.34M524.6 154.6l8.34 8.34m0-8.34l-8.34 8.34M525.6 153.8l8.34 8.34m0-8.34l-8.34 8.34M526.6 152.9l8.34 8.34m0-8.34l-8.34 8.34M527.6 152.1l8.34 8.34m0-8.34l-8.34 8.34M528.6 151.3l8.34 8.34m0-8.34l-8.34 8.34M529.5 150.6l8.34 8.34m0-8.34l-8.34 8.34M530.5 149.8l8.34 8.34m0-8.34l-8.34 8.34M531.4 149.1l8.34 8.34m0-8.34l-8.34 8.34M532.2 148.4l8.34 8.34m0-8.34l-8.34 8.34M533.1 147.6l8.34 8.34m0-8.34l-8.34 8.34M534.2 146.7l8.34 8.34m0-8.34l-8.34 8.34M535.3 145.8l8.34 8.34m0-8.34l-8.34 8.34M536.4 144.9l8.34 8.34m0-8.34l-8.34 8.34M537.5 144.1l8.34 8.34m0-8.34l-8.34 8.34M538.5 143.3l8.34 8.34m0-8.34l-8.34 8.34M539.5 142.4l8.34 8.34m0-8.34l-8.34 8.34M540.5 141.6l8.34 8.34m0-8.34l-8.34 8.34M541.5 140.9l8.34 8.34m0-8.34l-8.34 8.34M542.4 140.1l8.34 8.34m0-8.34l-8.34 8.34M543.3 139.4l8.34 8.34m0-8.34l-8.34 8.34M544.2 138.6l8.34 8.34m0-8.34l-8.34 8.34M545.1 137.9l8.34 8.34m0-8.34l-8.34 8.34M546.0 137.2l8.34 8.34m0-8.34l-8.34 8.34M547.0 136.4l8.34 8.34m0-8.34l-8.34 8.34M548.1 135.5l8.34 8.34m0-8.34l-8.34 8.34M549.1 134.7l8.34 8.34m0-8.34l-8.34 8.34M550.1 133.9l8.34 8.34m0-8.34l-8.34 8.34M551.1 133.1l8.34 8.34m0-8.34l-8.34 8.34M552.0 132.4l8.34 8.34m0-8.34l-8.34 8.34M552.9 131.6l8.34 8.34m0-8.34l-8.34 8.34M553.9 130.9l8.34 8.34m0-8.34l-8.34 8.34M554.8 130.2l8.34 8.34m0-8.34l-8.34 8.34M555.6 129.5l8.34 8.34m0-8.34l-8.34 8.34M556.7 128.7l8.34 8.34m0-8.34l-8.34 8.34M557.7 127.9l8.34 8.34m0-8.34l-8.34 8.34M558.7 127.1l8.34 8.34m0-8.34l-8.34 8.34M559.6 126.3l8.34 8.34m0-8.34l-8.34 8.34M560.6 125.6l8.34 8.34m0-8.34l-8.34 8.34M561.5 124.9l8.34 8.34m0-8.34l-8.34 8.34M562.4 124.1l8.34 8.34m0-8.34l-8.34 8.34M563.3 123.4l8.34 8.34m0-8.34l-8.34 8.34M564.1 122.8l8.34 8.34m0-8.34l-8.34 8.34M565.1 122.0l8.34 8.34m0-8.34l-8.34 8.34M566.1 121.2l8.34 8.34m0-8.34l-8.34 8.34M567.1 120.4l8.34 8.34m0-8.34l-8.34 8.34M568.0 119.7l8.34 8.34m0-8.34l-8.34 8.34M568.9 119.0l8.34 8.34m0-8.34l-8.34 8.34M569.8 118.3l8.34 8.34m0-8.34l-8.34 8.34M570.7 117.6l8.34 8.34m0-8.34l-8.34 8.34M571.7 116.8l8.34 8.34m0-8.34l-8.34 8.34M572.6 116.1l8.34 8.34m0-8.34l-8.34 8.34M573.6 115.3l8.34 8.34m0-8.34l-8.34 8.34M574.5 114.6l8.34 8.34m0-8.34l-8.34 8.34M575.4 113.9l8.34 8.34m0-8.34l-8.34 8.34M576.3 113.2l8.34 8.34m0-8.34l-8.34 8.34M577.2 112.5l8.34 8.34m0-8.34l-8.34 8.34M578.1 111.8l8.34 8.34m0-8.34l-8.34 8.34M579.1 111.1l8.34 8.34m0-8.34l-8.34 8.34M580.0 110.3l8.34 8.34m0-8.34l-8.34 8.34M580.9 109.6l8.34 8.34m0-8.34l-8.34 8.34M581.8 109.0l8.34 8.34m0-8.34l-8.34 8.34M582.7 108.2l8.34 8.34m0-8.34l-8.34 8.34M583.7 107.5l8.34 8.34m0-8.34l-8.34 8.34M584.6 106.8l8.34 8.34m0-8.34l-8.34 8.34M585.5 106.1l8.34 8.34m0-8.34l-8.34 8.34M586.4 105.4l8.34 8.34m0-8.34l-8.34 8.34M587.3 104.6l8.34 8.34m0-8.34l-8.34 8.34M588.3 103.9l8.34 8.34m0-8.34l-8.34 8.34M589.2 103.2l8.34 8.34m0-8.34l-8.34 8.34M590.1 102.5l8.34 8.34m0-8.34l-8.34 8.34M591.0 101.8l8.34 8.34m0-8.34l-8.34 8.34M591.9 101.1l8.34 8.34m0-8.34l-8.34 8.34M592.8 100.4l8.34 8.34m0-8.34l-8.34 8.34M593.7 99.7l8.34 8.34m0-8.34l-8.34 8.34M594.6 99.0l8.34 8.34m0-8.34l-8.34 8.34M595.6 98.3l8.34 8.34m0-8.34l-8.34 8.34M596.5 97.6l8.34 8.34m0-8.34l-8.34 8.34M597.4 96.9l8.34 8.34m0-8.34l-8.34 8.34M598.3 96.2l8.34 8.34m0-8.34l-8.34 8.34M599.2 95.5l8.34 8.34m0-8.34l-8.34 8.34M600.1 94.8l8.34 8.34m0-8.34l-8.34 8.34M601.0 94.1l8.34 8.34m0-8.34l-8.34 8.34M601.9 93.4l8.34 8.34m0-8.34l-8.34 8.34M602.8 92.7l8.34 8.34m0-8.34l-8.34 8.34M603.7 92.0l8.34 8.34m0-8.34l-8.34 8.34M604.6 91.3l8.34 8.34m0-8.34l-8.34 8.34M605.5 90.6l8.34 8.34m0-8.34l-8.34 8.34M606.4 89.9l8.34 8.34m0-8.34l-8.34 8.34M607.3 89.2l8.34 8.34m0-8.34l-8.34 8.34M608.2 88.5l8.34 8.34m0-8.34l-8.34 8.34M609.1 87.8l8.34 8.34m0-8.34l-8.34 8.34M610.0 87.1l8.34 8.34m0-8.34l-8.34 8.34M610.4 86.8l8.34 8.34m0-8.34l-8.34 8.34" stroke="#17becf" stroke-width="2.1" fill="none"/>
<polygon points="74.0,426.8 80.3,426.7 87.0,426.5 93.8,426.1 100.1,425.6 106.9,425.1 113.5,424.5 120.2,423.8 126.8,423.1 133.2,422.3 140.0,421.4 146.5,420.6 153.4,419.6 159.8,418.5 166.6,417.2 172.7,415.8 179.3,414.1 186.1,412.0 192.7,409.9 199.1,407.7 205.7,405.4 212.4,402.8 219.1,399.9 225.8,396.8 232.3,393.7 238.8,390.7 245.4,387.6 252.4,384.2 258.6,380.9 265.1,377.3 272.2,373.3 278.3,369.7 284.9,365.7 292.0,361.3 298.4,357.2 304.9,353.1 311.8,348.6 318.2,344.3 324.9,339.6 331.1,335.2 337.9,330.4 344.3,325.7 351.0,320.8 357.8,315.9 364.1,311.2 371.0,306.0 377.3,301.4 383.9,296.6 390.9,291.6 397.5,286.9 404.0,282.4 410.5,278.4 410.5,314.5 404.0,317.7 397.5,321.0 390.9,324.3 383.9,327.8 377.3,331.1 371.0,334.3 364.1,337.8 357.8,341.3 351.0,345.3 344.3,349.5 337.9,353.7 331.1,358.1 324.9,362.1 318.2,366.4 311.8,370.3 304.9,374.3 298.4,377.9 292.0,381.4 284.9,385.3 278.3,388.8 272.2,391.9 265.1,395.4 258.6,398.6 252.4,401.6 245.4,404.8 238.8,407.5 232.3,409.5 225.8,411.1 219.1,412.6 212.4,414.1 205.7,415.8 199.1,417.8 192.7,420.0 186.1,422.3 179.3,424.7 172.7,426.7 166.6,428.2 159.8,429.5 153.4,430.6 146.5,431.6 140.0,432.3 133.2,432.7 126.8,433.0 120.2,433.2 113.5,433.3 106.9,433.4 100.1,433.4 93.8,433.2 87.0,432.9 80.3,432.7 74.0,432.7" fill="#9467bd"/><polyline points="74.0,431.0 75.3,426.9 76.3,432.9 77.1,429.5 78.2,432.1 79.7,426.1 80.3,430.1 81.8,428.7 82.9,429.9 83.8,429.4 84.8,429.8 85.9,429.7 87.0,430.4 88.2,425.8 89.4,433.4 90.5,426.7 91.8,433.5 92.8,425.7 93.8,429.9 95.1,425.9 95.8,433.3 96.8,426.2 98.2,431.4 99.0,426.6 100.1,432.4 101.5,429.4 102.5,433.8 103.9,427.0 104.8,434.1 105.9,428.1 106.9,429.7 107.9,425.1 108.9,429.5 110.1,428.9 111.5,432.8 112.3,424.1 113.5,433.8 114.4,424.4 115.9,431.5 116.6,427.6 117.8,429.4 119.3,423.3 120.2,433.9 121.5,427.0 122.4,430.3 123.6,428.1 124.3,428.3 125.7,424.9 126.8,428.1 128.1,424.7 128.9,433.2 130.1,426.1 130.9,431.2 132.2,423.3 133.2,430.6 134.2,425.3 135.7,428.8 136.6,424.8 138.0,431.2 138.9,426.0 140.0,428.0 141.1,422.2 142.3,432.8 143.0,425.3 144.3,429.6 145.3,423.2 146.5,430.1 147.4,424.1 149.0,427.8 149.7,422.0 151.1,430.5 151.9,424.7 153.4,427.3 154.3,424.8 155.1,426.7 156.7,423.3 157.8,426.1 158.9,420.5 159.8,429.3 160.6,422.7 161.8,429.7 163.3,417.4 164.2,428.5 165.1,418.5 166.6,427.9 167.5,419.7 168.6,427.7 169.6,418.5 170.7,422.0 171.7,417.5 172.7,422.3 174.3,417.6 175.1,424.4 176.3,417.5 177.2,420.7 178.6,413.9 179.3,421.8 180.6,418.8 181.5,419.5 182.6,418.3 184.2,419.5 185.1,412.0 186.1,421.2 187.3,415.5 188.6,416.6 189.4,416.0 190.6,416.0 191.8,409.7 192.7,420.6 193.9,411.7 195.1,418.4 196.3,408.0 196.9,414.7 198.5,408.3 199.1,414.4 200.6,410.6 201.7,412.5 202.4,405.8 203.7,416.4 205.0,410.5 205.7,415.9 207.1,409.6 208.3,410.6 209.3,409.2 210.5,409.5 211.3,408.8 212.4,414.7 213.6,407.2 214.6,412.8 215.8,403.0 217.2,412.9 218.1,401.2 219.1,413.3 220.1,405.3 221.6,407.5 222.4,399.4 223.8,408.2 224.7,403.4 225.8,409.4 227.1,403.3 228.1,403.9 229.1,395.4 230.1,407.1 231.5,399.5 232.3,410.1 233.7,392.4 234.3,406.6 235.6,391.6 236.8,400.9 238.1,394.7 238.8,399.2 240.2,391.6 241.3,402.2 242.4,395.1 243.4,402.8 244.7,395.4 245.4,404.4 246.6,395.0 247.6,402.2 248.6,391.4 249.8,397.8 251.3,384.5 252.4,394.4 253.0,392.0 254.4,401.2 255.4,384.4 256.6,392.3 257.7,385.7 258.6,396.6 260.1,387.4 260.9,388.8 262.1,386.4 263.2,387.4 264.1,385.6 265.1,392.4 266.4,380.0 267.7,394.4 268.8,377.3 269.9,390.0 270.6,375.6 272.2,382.7 273.2,373.2 274.4,383.8 275.3,378.9 276.6,389.1 277.2,370.9 278.3,380.4 279.4,378.1 280.6,387.3 281.7,377.0 282.8,382.4 284.1,375.9 284.9,385.8 286.3,368.4 287.1,378.2 288.6,372.9 289.3,375.5 290.5,369.3 292.0,377.1 292.9,363.3 294.1,376.3 295.1,359.9 296.2,369.0 297.1,363.7 298.4,377.6 299.2,362.4 300.7,367.9 301.9,359.1 303.0,375.0 303.6,364.1 304.9,373.2 305.9,351.8 306.9,366.3 308.3,357.5 309.5,366.7 310.3,359.7 311.8,359.6 312.8,354.2 313.5,360.7 315.0,357.3 316.2,361.7 316.9,350.2 318.2,355.6 319.3,343.1 320.4,357.3 321.2,343.7 322.6,353.5 323.7,351.7 324.9,362.5 326.0,338.3 326.8,361.4 328.2,348.1 329.4,351.6 330.5,336.7 331.1,357.8 332.2,340.6 333.6,346.8 334.5,332.2 335.8,355.6 337.1,342.0 337.9,352.5 338.9,341.3 340.1,350.4 341.3,336.0 342.1,339.1 343.4,337.1 344.3,348.5 345.7,335.4 346.9,347.9 347.8,335.2 348.9,347.1 350.1,327.2 351.0,345.7 352.1,330.5 353.2,339.5 354.4,329.8 355.3,330.2 356.8,327.0 357.8,328.9 358.7,314.7 359.7,340.8 361.2,317.4 361.9,335.9 363.0,312.5 364.1,331.9 365.2,311.4 366.8,335.2 367.5,310.8 368.6,321.8 370.0,311.1 371.0,334.2 371.9,317.1 373.1,319.3 374.5,317.3 375.3,318.5 376.6,303.5 377.3,327.8 378.8,307.6 379.9,330.3 381.0,301.6 382.1,315.2 383.0,304.8 383.9,313.9 385.3,305.5 386.5,312.7 387.3,308.0 388.4,316.0 389.7,303.0 390.9,324.9 392.1,307.0 392.7,321.3 393.9,299.2 395.3,320.6 396.3,288.3 397.5,311.6 398.7,299.3 399.8,309.4 400.9,301.0 401.9,314.4 402.8,296.4 404.0,301.7 404.9,287.7 406.3,311.9 407.4,281.9 408.5,311.0 409.4,297.0 410.5,314.8 411.6,277.3 412.5,311.9" stroke="#9467bd" stroke-width="4.2" stroke-linejoin="round" stroke-linecap="round" fill="none"/>
<polygon points="73.9,420.5 80.6,420.5 87.2,420.0 93.5,419.3 100.4,418.4 106.9,417.6 113.7,416.6 120.0,415.7 126.7,414.7 133.2,413.6 139.9,412.7 146.5,411.7 153.1,410.7 160.0,409.6 166.6,408.3 172.7,407.1 179.7,405.6 186.2,404.0 193.0,402.1 199.6,400.1 206.2,397.9 212.7,395.2 218.9,392.0 225.6,388.1 232.6,384.0 239.1,380.2 245.7,376.2 251.9,372.3 258.8,368.2 265.5,364.2 272.0,360.4 278.5,356.6 284.9,352.9 291.8,348.8 298.6,344.6 305.2,340.4 311.4,336.3 318.2,331.5 324.6,326.9 331.4,321.8 337.8,316.9 344.7,311.5 351.2,306.3 357.7,301.0 364.4,295.4 370.7,289.9 377.7,283.8 384.3,278.1 391.0,271.2 397.4,264.2 403.9,258.2 410.4,254.7 410.4,312.6 403.9,315.9 397.4,319.2 391.0,322.5 384.3,325.9 377.7,329.3 370.7,332.9 364.4,336.2 357.7,339.9 351.2,343.8 344.7,347.9 337.8,352.4 331.4,356.6 324.6,361.1 318.2,365.1 311.4,369.3 305.2,372.9 298.6,376.6 291.8,380.3 284.9,384.1 278.5,387.5 272.0,390.9 265.5,394.2 258.8,397.4 251.9,400.7 245.7,403.6 239.1,406.4 232.6,408.4 225.6,410.2 218.9,411.8 212.7,413.3 206.2,414.9 199.6,416.9 193.0,419.2 186.2,421.6 179.7,423.8 172.7,425.9 166.6,427.4 160.0,428.7 153.1,429.8 146.5,430.8 139.9,431.6 133.2,432.0 126.7,432.3 120.0,432.5 113.7,432.7 106.9,432.8 100.4,432.8 93.5,432.6 87.2,432.4 80.6,432.2 73.9,432.2" fill="#bcbd22"/><polyline points="73.9,431.5 74.9,421.3 76.2,432.3 77.4,420.7 78.6,430.4 79.3,423.0 80.6,427.1 81.4,423.4 82.7,427.5 84.1,425.8 84.7,432.9 86.3,424.1 87.2,430.3 88.1,420.3 89.5,429.7 90.3,425.6 91.8,426.2 92.4,420.1 93.5,429.7 95.0,422.6 95.9,426.4 96.8,418.7 98.2,431.6 99.1,420.6 100.4,425.6 101.6,424.6 102.8,429.1 103.4,422.7 104.8,425.5 106.1,418.5 106.9,428.4 108.2,421.7 108.9,430.7 110.5,422.8 111.4,425.6 112.7,421.7 113.7,427.0 114.9,419.8 115.5,433.3 117.0,423.1 117.8,428.7 118.9,417.5 120.0,424.1 121.3,414.9 122.4,425.7 123.7,414.6 124.3,426.5 125.5,417.1 126.7,423.9 128.0,420.3 129.0,432.6 130.1,414.2 131.3,427.7 132.3,416.9 133.2,424.7 134.2,422.2 135.5,429.4 136.9,415.3 137.8,430.8 138.6,412.3 139.9,431.0 141.0,414.5 142.2,428.5 143.3,417.3 144.6,425.8 145.4,412.8 146.5,431.5 147.7,412.0 149.0,421.7 150.0,418.8 150.9,420.6 152.2,414.7 153.1,421.1 154.5,413.2 155.2,423.7 156.2,414.0 157.7,419.8 158.5,412.3 160.0,424.9 160.9,416.0 162.0,427.4 162.8,411.6 164.3,421.5 165.0,408.6 166.6,426.7 167.7,409.5 168.4,427.7 169.4,407.5 171.0,417.4 171.8,414.0 172.7,417.6 174.0,413.8 175.0,419.8 176.2,414.4 177.4,415.4 178.7,407.1 179.7,418.8 180.4,406.7 181.7,417.6 182.8,406.6 184.2,413.5 184.8,403.7 186.2,419.2 187.5,412.3 188.3,421.1 189.3,406.7 190.6,412.1 191.5,401.9 193.0,412.4 193.6,403.6 194.8,412.3 195.8,409.7 197.3,417.9 198.1,406.2 199.6,408.9 200.7,407.4 201.8,408.2 202.5,406.8 203.5,415.5 204.8,406.6 206.2,411.2 207.2,399.4 207.9,410.6 209.4,400.2 210.6,407.3 211.7,399.5 212.7,413.7 213.9,402.3 215.0,409.6 215.8,399.4 216.7,410.7 218.2,396.5 218.9,402.7 220.2,400.1 221.6,406.9 222.5,399.4 223.6,403.9 224.9,399.3 225.6,400.1 227.1,386.8 228.2,410.0 229.0,385.4 230.0,406.1 231.0,396.9 232.6,396.3 233.3,386.1 234.3,397.4 235.9,392.7 236.8,394.5 238.0,381.9 239.1,403.6 239.8,379.9 240.9,395.3 242.2,377.6 243.1,393.2 244.5,390.3 245.7,403.8 246.7,381.7 247.8,400.7 248.6,378.1 249.8,398.2 251.3,383.4 251.9,397.4 253.3,381.6 254.1,399.9 255.7,380.8 256.4,397.0 257.6,379.0 258.8,398.1 260.0,368.0 261.2,383.5 262.2,375.5 263.1,393.3 264.0,376.4 265.5,391.2 266.7,371.6 267.3,393.1 268.8,377.3 269.6,391.7 270.8,364.2 272.0,391.4 273.1,360.6 274.4,381.3 275.4,357.8 276.3,378.8 277.6,372.1 278.5,378.1 279.6,365.1 280.7,382.2 281.8,359.6 282.8,373.4 283.9,353.2 284.9,370.3 286.2,351.7 287.2,372.9 288.7,355.1 289.8,374.2 290.6,365.1 291.8,369.4 293.1,358.8 293.9,379.9 295.1,358.0 296.1,376.8 297.3,346.4 298.6,364.8 299.2,345.1 300.8,362.9 301.7,342.4 302.9,359.0 303.9,353.4 305.2,371.9 305.9,351.8 307.3,362.4 308.1,352.6 309.4,365.3 310.6,336.8 311.4,358.5 312.4,337.2 313.9,361.1 315.0,335.8 316.0,367.2 316.9,338.2 318.2,349.8 319.0,347.6 320.4,354.0 321.5,332.3 322.6,346.7 323.6,331.2 324.6,347.6 326.0,333.5 326.9,352.1 328.2,325.1 329.1,342.3 330.0,340.1 331.4,349.0 332.5,321.5 333.8,350.7 334.9,331.9 335.5,350.0 337.0,317.4 337.8,334.6 339.2,328.3 340.1,342.4 341.1,328.0 342.3,331.4 343.5,317.6 344.7,334.7 345.7,309.9 346.9,329.8 347.8,324.8 349.1,330.7 350.0,325.1 351.2,329.1 352.2,310.9 353.4,340.9 354.2,303.9 355.5,327.6 356.5,310.6 357.7,330.1 358.6,316.6 360.0,318.9 361.3,301.2 362.1,318.7 363.0,316.8 364.4,336.8 365.2,313.8 366.8,331.1 367.4,300.6 368.7,318.3 369.8,300.2 370.7,329.4 371.9,298.8 373.0,329.8 374.4,306.8 375.6,309.2 376.4,285.8 377.7,316.0 378.4,286.2 379.8,319.7 380.8,289.3 381.8,323.2 383.2,283.0 384.3,321.2 385.0,297.5 386.2,324.6 387.6,292.5 388.8,308.1 389.7,297.0 391.0,315.0 392.1,271.4 393.1,295.8 394.1,268.0 395.0,308.1 396.2,287.8 397.4,318.7 398.7,266.0 399.4,303.6 400.6,266.5 401.5,313.1 403.0,282.6 403.9,287.1 405.2,256.8 406.0,289.2 407.3,283.2 408.5,309.9 409.4,259.8 410.4,283.9 411.6,278.2 412.9,302.1" stroke="#bcbd22" stroke-width="4.2" stroke-linejoin="round" stroke-linecap="round" fill="none"/>
<polygon points="73.9,419.8 80.3,419.8 87.3,419.3 93.8,418.5 100.2,417.7 107.1,416.9 113.5,416.0 120.2,415.0 126.9,413.9 133.5,412.9 140.1,411.9 146.8,411.0 153.3,410.0 159.5,409.0 166.6,407.6 172.7,406.3 179.5,404.6 186.4,402.6 192.5,400.7 199.5,398.3 206.2,395.8 212.4,393.1 219.0,389.4 226.0,385.3 232.2,381.6 239.1,377.8 245.5,374.6 252.1,371.3 258.9,367.5 265.3,363.8 271.9,359.8 278.4,355.6 285.1,351.3 291.6,347.0 298.4,342.4 305.1,337.8 311.5,333.4 318.2,328.7 324.9,323.8 331.1,319.2 337.8,314.2 344.6,308.9 350.9,304.0 357.8,298.5 364.4,293.0 371.0,287.2 377.8,281.2 384.3,275.8 390.6,270.5 397.6,264.7 404.2,259.6 410.6,255.2 410.6,302.5 404.2,306.9 397.6,310.2 390.6,313.3 384.3,316.3 377.8,320.0 371.0,323.9 364.4,327.8 357.8,331.8 350.9,336.1 344.6,340.2 337.8,344.8 331.1,349.2 324.9,353.4 318.2,357.8 311.5,362.0 305.1,366.0 298.4,370.0 291.6,374.0 285.1,377.8 278.4,381.6 271.9,385.3 265.3,389.1 258.9,392.8 252.1,396.8 245.5,400.9 239.1,404.5 232.2,407.3 226.0,409.5 219.0,411.7 212.4,413.8 206.2,415.7 199.5,417.9 192.5,420.4 186.4,422.5 179.5,424.8 172.7,426.7 166.6,428.2 159.5,429.5 153.3,430.6 146.8,431.5 140.1,432.3 133.5,432.7 126.9,433.0 120.2,433.2 113.5,433.3 107.1,433.4 100.2,433.4 93.8,433.2 87.3,433.0 80.3,432.7 73.9,432.7" fill="#2ca02c"/><polyline points="73.9,427.3 74.9,421.9 76.0,433.4 77.0,425.8 78.2,432.5 79.7,424.8 80.3,426.5 81.8,425.2 82.9,427.1 83.8,424.7 85.0,426.8 85.9,422.5 87.3,431.7 88.4,419.3 89.5,432.2 90.4,421.8 91.8,432.0 92.9,420.8 93.8,427.1 95.0,419.9 95.8,430.1 97.3,419.2 98.2,425.7 99.5,422.6 100.2,434.0 101.7,417.8 102.3,431.5 103.7,423.7 104.5,430.3 105.7,424.6 107.1,431.5 107.8,420.8 109.1,425.1 110.1,415.8 111.6,427.8 112.2,420.2 113.5,429.9 114.9,424.3 115.9,434.0 117.0,417.8 118.2,432.0 118.8,420.8 120.2,432.5 121.4,415.9 122.5,432.5 123.6,423.2 124.3,425.1 125.4,413.5 126.9,423.8 127.9,416.9 128.8,427.9 129.8,414.3 131.2,432.9 132.0,412.7 133.5,427.7 134.4,417.5 135.7,433.1 136.4,422.1 137.7,426.4 138.6,420.7 140.1,432.1 141.1,413.5 142.0,424.4 143.5,414.4 144.5,422.9 145.4,414.1 146.8,421.8 147.6,410.3 149.0,423.3 149.7,414.3 151.2,427.4 151.8,411.1 153.3,428.4 154.1,420.2 155.3,420.2 156.5,412.3 157.3,421.1 158.5,419.4 159.5,428.4 161.0,417.8 161.8,427.3 163.0,414.7 164.0,424.6 165.1,411.2 166.6,428.1 167.5,416.2 168.6,419.7 169.8,416.9 170.9,425.9 171.7,412.2 172.7,418.1 174.0,405.5 175.0,416.0 176.0,410.6 177.6,415.2 178.5,414.6 179.5,419.9 180.4,409.0 181.9,422.8 182.9,407.3 183.8,419.3 185.3,404.2 186.4,417.3 187.5,402.0 188.5,422.0 189.5,410.1 190.4,419.1 191.7,404.8 192.5,412.8 193.9,403.7 194.7,415.4 195.8,399.2 197.3,411.7 198.2,406.4 199.5,409.0 200.6,397.7 201.8,415.2 202.7,397.9 204.0,408.7 204.9,395.7 206.2,407.2 207.3,401.1 207.9,411.6 209.1,402.4 210.3,415.0 211.3,398.9 212.4,414.4 213.9,394.5 214.5,402.6 215.7,391.9 217.1,411.7 217.9,389.6 219.0,406.0 220.5,388.0 221.5,406.3 222.4,392.3 223.3,410.8 224.5,394.4 226.0,408.5 227.0,384.3 227.7,397.3 229.2,383.6 230.1,403.0 231.4,388.3 232.2,402.8 233.2,381.5 234.3,396.3 235.5,380.4 237.0,406.0 238.1,382.8 239.1,405.2 240.2,390.6 241.0,395.3 242.2,375.7 243.6,389.1 244.7,382.8 245.5,399.2 246.8,380.0 248.0,386.5 249.1,381.8 249.8,385.4 251.1,371.1 252.1,396.5 253.2,370.5 254.3,395.4 255.3,375.4 256.3,390.7 257.8,367.5 258.9,385.3 260.1,370.2 260.7,379.7 261.9,369.1 263.2,377.7 264.5,368.1 265.3,389.0 266.3,374.8 267.6,378.8 268.9,361.2 270.0,385.0 271.1,366.1 271.9,385.1 272.9,370.2 274.4,371.4 275.4,363.1 276.6,377.5 277.4,361.8 278.4,380.2 279.5,365.9 281.0,367.8 282.1,362.2 282.9,367.1 284.3,353.7 285.1,364.8 286.2,354.6 287.4,371.5 288.3,351.7 289.4,361.9 290.5,349.9 291.6,362.9 292.9,347.1 293.7,373.1 295.2,354.8 296.0,369.0 297.2,356.6 298.4,357.9 299.2,346.6 300.5,367.8 301.7,343.5 302.8,355.3 304.1,339.7 305.1,352.1 305.8,336.6 307.3,354.2 308.3,337.6 309.5,353.2 310.2,342.1 311.5,362.7 312.8,334.6 313.9,347.7 315.0,331.6 315.8,353.5 317.2,343.3 318.2,355.5 319.4,341.9 320.6,343.1 321.4,332.0 322.8,349.3 323.9,323.9 324.9,339.0 325.8,323.2 327.0,350.1 327.9,326.1 329.3,349.0 330.5,333.2 331.1,338.0 332.6,320.3 333.7,339.2 334.4,317.8 336.0,333.0 336.8,321.9 337.8,338.1 338.8,316.9 340.3,334.4 341.2,311.1 342.4,337.7 343.3,314.8 344.6,325.5 345.6,312.0 346.9,333.3 347.9,314.3 349.1,330.5 349.9,319.5 350.9,324.5 352.5,317.6 353.6,318.2 354.5,301.2 355.8,316.7 356.8,310.1 357.8,317.7 358.8,297.0 359.9,316.1 361.0,306.2 362.0,318.3 363.2,293.3 364.4,327.7 365.2,307.4 366.5,316.0 367.5,290.1 368.8,307.1 370.0,297.1 371.0,319.8 372.1,290.2 373.2,322.3 374.1,299.0 375.3,314.2 376.7,300.2 377.8,319.9 378.5,285.9 379.5,308.4 381.1,294.5 382.2,302.0 383.1,276.1 384.3,310.5 385.3,279.5 386.6,297.7 387.3,273.9 388.5,302.5 389.8,287.4 390.6,293.5 392.0,289.8 392.8,309.5 394.2,288.3 395.3,290.1 396.2,269.2 397.6,292.1 398.5,285.7 399.7,286.7 400.4,281.1 401.5,308.1 403.0,273.3 404.2,301.6 405.1,264.4 406.4,288.1 407.0,271.7 408.6,304.7 409.7,257.9 410.6,300.8 411.6,258.4 412.9,288.8" stroke="#2ca02c" stroke-width="4.2" stroke-linejoin="round" stroke-linecap="round" fill="none"/>
<polygon points="74.2,420.5 80.7,420.5 87.2,420.0 93.9,419.2 100.5,418.4 107.1,417.5 113.3,416.7 120.0,415.7 127.0,414.6 133.1,413.7 140.0,412.6 146.8,411.6 153.1,410.6 159.9,409.5 166.2,408.5 172.7,407.3 179.3,406.2 186.4,404.8 192.8,403.5 199.5,401.9 205.8,400.1 212.6,397.5 218.9,394.3 225.6,390.4 232.5,386.3 238.8,382.9 245.3,379.6 252.0,376.2 258.7,372.5 265.6,368.5 272.0,364.6 278.5,360.5 285.0,356.3 291.6,352.0 298.2,347.5 305.0,342.8 311.7,338.1 318.4,333.2 324.6,328.5 331.2,323.4 337.8,318.1 344.5,312.7 351.0,307.5 357.6,302.1 364.6,296.4 371.1,290.9 377.7,285.3 383.9,280.3 390.9,273.5 397.2,267.1 403.7,261.5 410.5,258.1 410.5,298.5 403.7,302.2 397.2,305.9 390.9,309.5 383.9,313.7 377.7,317.3 371.1,321.2 364.6,325.2 357.6,329.5 351.0,333.8 344.5,338.1 337.8,342.6 331.2,347.1 324.6,351.6 318.4,355.6 311.7,359.9 305.0,363.9 298.2,367.9 291.6,371.8 285.0,375.5 278.5,379.1 272.0,382.7 265.6,386.1 258.7,389.6 252.0,392.9 245.3,396.1 238.8,398.9 232.5,401.2 225.6,403.5 218.9,405.6 212.6,407.5 205.8,409.6 199.5,411.7 192.8,414.0 186.4,416.2 179.3,418.5 172.7,420.4 166.2,421.9 159.9,423.1 153.1,424.2 146.8,425.1 140.0,426.0 133.1,426.6 127.0,427.0 120.0,427.5 113.3,427.9 107.1,428.1 100.5,428.2 93.9,428.2 87.2,428.3 80.7,428.3 74.2,428.3" fill="#e377c2"/><polyline points="74.2,427.6 75.3,422.0 76.1,425.4 77.4,421.7 78.2,427.9 79.2,419.9 80.7,427.9 81.9,423.4 82.9,428.9 83.9,422.8 85.0,424.4 86.2,423.4 87.2,427.0 88.2,423.0 89.6,426.2 90.4,420.4 91.8,426.3 92.8,420.7 93.9,428.5 95.1,420.1 96.2,425.4 97.3,421.0 98.2,425.4 99.2,423.4 100.5,423.4 101.7,423.1 102.6,424.4 103.4,417.5 104.5,426.2 105.8,421.3 107.1,422.9 108.3,419.0 109.1,427.8 110.3,418.1 111.4,427.7 112.2,422.0 113.3,426.3 114.7,422.2 115.8,425.4 117.1,419.3 117.8,423.7 119.3,415.4 120.0,422.6 121.3,417.4 122.5,423.7 123.2,415.7 124.8,421.4 125.9,420.0 127.0,425.7 127.6,419.9 129.0,427.3 130.2,419.6 131.4,422.0 132.1,415.4 133.1,425.3 134.6,417.0 135.4,425.5 136.4,413.0 137.5,420.3 138.9,414.2 140.0,425.6 141.2,418.7 142.3,421.3 143.0,415.4 144.6,421.4 145.7,413.7 146.8,425.1 147.8,415.9 148.7,423.3 149.7,416.9 151.2,423.3 152.0,417.1 153.1,419.4 154.4,411.4 155.5,417.1 156.6,416.8 157.6,417.0 158.7,414.6 159.9,423.1 160.8,413.8 161.8,419.1 163.3,411.3 164.4,420.8 165.4,412.5 166.2,415.3 167.2,415.0 168.8,414.8 169.9,414.1 170.6,414.5 171.9,407.9 172.7,419.2 174.0,410.0 175.3,413.3 176.2,412.1 177.5,412.9 178.7,408.6 179.3,416.3 180.8,410.0 181.7,414.6 182.7,406.2 183.9,411.2 185.0,410.4 186.4,416.9 187.4,404.5 188.1,414.4 189.2,407.1 190.8,409.3 191.7,406.9 192.8,410.0 193.8,408.1 195.1,413.7 196.1,407.8 197.2,412.1 198.1,404.6 199.5,409.5 200.3,405.9 201.3,411.7 202.7,402.8 203.9,405.6 204.7,404.7 205.8,406.7 206.8,404.4 208.2,409.5 209.4,399.1 210.1,406.9 211.5,402.5 212.6,406.9 213.4,399.0 214.8,402.8 215.7,400.0 216.8,401.4 218.3,394.3 218.9,405.4 220.2,395.8 221.4,404.9 222.4,395.2 223.3,401.6 224.9,392.6 225.6,403.8 226.8,396.0 228.2,397.2 229.3,391.4 230.4,401.3 231.2,392.6 232.5,400.9 233.7,387.5 234.4,399.8 235.9,386.7 236.5,391.9 237.9,385.8 238.8,391.8 239.9,387.1 240.9,393.8 242.5,383.6 243.1,388.9 244.7,388.1 245.3,392.9 246.5,378.9 247.6,389.9 249.1,379.5 249.7,388.6 251.3,383.0 252.0,384.6 253.5,380.2 254.5,387.3 255.3,376.0 256.6,382.3 257.4,381.0 258.7,384.3 259.6,378.8 261.1,387.4 262.1,379.1 263.0,387.8 264.0,369.1 265.6,377.3 266.2,375.8 267.4,376.3 268.4,368.7 269.7,382.5 270.8,365.2 272.0,383.4 272.9,372.7 274.0,376.9 275.4,364.3 276.2,380.8 277.3,369.0 278.5,371.0 279.5,363.9 280.9,378.5 281.6,364.6 282.8,367.4 284.0,361.0 285.0,370.4 286.5,356.4 287.3,372.8 288.4,355.4 289.5,370.5 290.8,354.5 291.6,372.5 293.0,358.2 294.2,360.8 294.9,353.2 296.0,359.8 297.4,349.6 298.2,357.8 299.3,355.6 300.3,359.4 301.7,348.7 303.0,363.1 304.1,348.0 305.0,363.0 306.0,352.5 307.4,352.9 308.3,349.4 309.6,351.9 310.6,339.7 311.7,355.8 312.8,337.8 313.5,357.5 314.7,338.6 315.7,357.3 317.3,339.9 318.4,356.3 319.3,339.2 320.1,354.4 321.2,337.7 322.5,352.4 323.6,332.6 324.6,346.5 325.6,327.0 327.0,350.6 328.2,335.6 328.9,338.4 330.1,323.6 331.2,335.5 332.5,334.3 333.6,346.1 334.6,322.7 336.0,344.2 336.8,325.4 337.8,330.4 339.2,316.4 340.4,335.5 341.5,325.4 342.2,331.1 343.3,313.9 344.5,335.3 345.9,317.3 346.8,332.0 347.9,320.0 348.8,328.1 350.3,319.6 351.0,324.1 352.3,307.0 353.5,330.8 354.6,305.4 355.7,329.0 356.6,302.3 357.6,328.5 359.1,310.0 360.0,315.8 360.9,299.5 361.9,325.2 363.4,310.2 364.6,316.1 365.5,305.0 366.5,319.1 367.7,308.0 369.0,312.9 369.9,292.3 371.1,320.7 372.3,304.6 373.3,317.0 374.2,290.8 375.2,319.1 376.6,288.6 377.7,312.9 378.9,286.0 379.5,301.3 380.6,283.6 382.0,314.9 383.2,291.0 383.9,302.0 385.3,279.4 386.2,295.4 387.7,294.0 388.5,311.7 389.4,290.2 390.9,308.0 391.7,274.2 392.9,306.1 393.8,286.9 395.0,307.6 396.0,275.8 397.2,305.8 398.5,269.6 399.4,295.6 400.8,279.5 402.0,283.7 402.9,280.9 403.7,282.0 405.3,277.9 406.0,285.9 407.2,270.5 408.4,290.3 409.5,258.9 410.5,279.2 411.6,261.1 412.8,280.7" stroke="#e377c2" stroke-width="4.2" stroke-linejoin="round" stroke-linecap="round" fill="none"/>
<polygon points="73.9,421.6 79.2,421.6 84.8,421.5 90.4,421.3 95.3,421.0 100.8,420.7 106.3,420.2 112.0,419.5 117.0,418.7 122.3,417.7 127.8,416.6 133.3,415.7 139.0,414.9 144.0,414.2 149.6,413.5 154.9,412.8 160.6,411.9 165.5,411.0 171.4,409.8 176.4,408.7 182.1,407.4 187.4,406.0 192.5,404.5 198.1,402.8 203.8,400.9 209.1,398.9 214.4,396.4 219.9,393.4 225.3,390.3 230.8,387.1 236.2,384.2 241.6,381.6 247.0,379.2 252.0,376.8 257.8,373.8 262.8,370.9 268.5,367.5 273.9,364.1 279.0,360.8 284.3,357.2 290.2,353.2 295.3,349.6 300.6,345.9 306.1,342.0 311.7,338.1 316.9,334.2 322.4,329.9 328.0,325.4 332.9,321.5 338.4,317.1 344.0,312.7 349.3,308.9 354.7,305.3 359.9,302.2 365.3,299.5 371.1,297.0 376.6,294.6 381.8,292.0 386.9,288.8 392.8,284.4 398.1,280.1 403.1,276.0 408.6,271.9 408.6,287.1 403.1,290.1 398.1,293.1 392.8,296.1 386.9,299.4 381.8,302.1 376.6,304.6 371.1,307.0 365.3,309.6 359.9,312.3 354.7,315.2 349.3,318.5 344.0,322.0 338.4,325.9 332.9,329.7 328.0,333.2 322.4,337.3 316.9,341.2 311.7,344.8 306.1,348.5 300.6,352.1 295.3,355.6 290.2,359.0 284.3,362.8 279.0,366.2 273.9,369.6 268.5,373.1 262.8,376.8 257.8,380.1 252.0,384.0 247.0,387.5 241.6,391.0 236.2,394.4 230.8,397.5 225.3,400.5 219.9,403.3 214.4,406.0 209.1,408.5 203.8,410.8 198.1,413.1 192.5,415.3 187.4,417.1 182.1,419.0 176.4,420.9 171.4,422.5 165.5,424.2 160.6,425.5 154.9,427.1 149.6,428.5 144.0,429.8 139.0,430.7 133.3,431.4 127.8,431.7 122.3,432.1 117.0,432.4 112.0,432.6 106.3,432.7 100.8,432.7 95.3,432.6 90.4,432.4 84.8,432.2 79.2,432.0 73.9,432.0" fill="#1f77b4"/><polyline points="73.9,427.9 74.7,422.8 76.0,432.7 76.9,425.5 77.3,428.4 78.4,425.3 79.2,430.9 80.2,421.2 80.9,428.2 81.8,424.9 82.7,430.5 83.6,426.6 84.8,427.7 85.4,425.6 86.8,431.6 87.6,426.3 88.2,427.5 89.4,426.1 90.4,428.9 90.8,423.3 92.0,433.1 92.8,423.1 93.6,430.4 94.5,421.1 95.3,433.0 96.5,426.4 97.2,433.0 98.2,424.8 99.4,426.7 100.0,423.6 100.8,433.4 102.1,423.9 102.8,431.7 103.7,421.8 104.4,432.0 105.5,426.0 106.3,431.1 107.3,425.9 108.1,432.7 108.8,419.3 110.2,431.8 111.0,419.8 112.0,427.7 112.5,421.3 113.4,425.9 114.2,425.5 115.2,431.4 116.1,418.3 117.0,428.5 117.9,425.2 118.8,430.4 120.1,419.3 120.7,428.8 121.8,421.5 122.3,426.0 123.3,417.9 124.6,431.5 125.0,421.9 125.9,431.9 127.1,416.3 127.8,424.2 128.7,419.4 129.8,425.0 130.7,415.7 131.4,424.7 132.5,423.0 133.3,429.4 134.5,421.7 134.9,428.2 135.9,420.1 137.0,430.7 137.6,423.0 139.0,424.8 139.9,414.2 140.4,426.5 141.6,415.8 142.2,429.0 143.5,414.0 144.0,426.9 144.8,417.2 145.7,425.0 146.8,421.2 147.5,425.2 148.9,413.4 149.6,429.0 150.5,419.9 151.4,424.0 152.2,412.6 153.4,421.4 154.2,412.2 154.9,427.4 155.7,419.7 156.5,427.3 157.5,418.2 158.5,423.7 159.2,414.8 160.6,422.0 161.1,418.2 162.2,418.7 162.8,411.3 164.0,425.0 164.9,410.5 165.5,423.0 166.9,414.1 167.3,417.5 168.3,409.9 169.5,420.4 170.2,411.9 171.4,417.7 171.9,409.6 172.8,422.3 174.0,413.3 175.0,415.8 175.9,408.6 176.4,419.1 177.5,414.2 178.3,421.0 179.4,408.7 180.0,414.5 181.3,407.1 182.1,418.2 182.7,412.3 183.6,419.0 184.6,410.6 185.8,412.6 186.4,410.1 187.4,416.6 188.5,407.1 189.1,411.1 190.3,410.5 190.8,410.5 191.6,404.2 192.5,411.3 193.8,409.4 194.5,409.5 195.7,403.1 196.4,414.1 197.4,403.3 198.1,408.9 199.1,401.8 200.1,411.6 200.8,406.7 201.7,411.1 202.9,406.1 203.8,408.0 204.4,400.7 205.1,409.8 206.5,403.6 207.1,405.1 208.3,402.2 209.1,404.9 209.8,397.9 211.0,403.6 211.7,397.2 212.7,407.5 213.7,396.2 214.4,401.2 215.5,400.1 216.1,400.4 217.0,399.9 218.0,404.2 218.8,398.6 219.9,398.4 220.7,394.9 221.7,400.0 222.6,395.4 223.4,401.3 224.5,395.4 225.3,400.9 226.3,389.4 226.7,399.9 227.6,388.4 228.8,393.8 229.5,389.6 230.8,392.3 231.4,388.8 232.5,396.7 233.1,388.3 234.2,396.1 235.3,384.5 236.2,395.0 236.8,388.5 237.7,392.6 238.7,386.7 239.5,387.7 240.4,382.5 241.6,386.5 242.5,385.4 243.0,389.9 244.2,381.4 245.2,387.1 245.8,383.4 247.0,386.6 247.8,380.6 248.8,386.2 249.2,379.0 250.6,383.6 251.5,380.6 252.0,382.9 253.1,376.2 253.7,380.6 254.9,374.6 255.9,378.3 256.8,374.3 257.8,380.8 258.3,374.1 259.1,377.7 260.4,373.7 260.9,376.4 261.9,371.3 262.8,376.2 264.0,371.9 264.7,373.3 265.9,371.9 266.7,375.0 267.7,367.4 268.5,371.7 269.5,369.3 270.0,369.9 271.0,365.6 272.0,369.8 272.9,364.1 273.9,367.9 274.8,366.2 275.4,366.5 276.2,363.4 277.5,364.6 278.4,363.8 279.0,364.6 279.8,362.3 280.7,364.8 281.7,361.5 282.6,361.3 283.5,359.3 284.3,360.3 285.3,356.0 286.3,362.2 287.0,354.8 288.0,357.9 289.0,355.7 290.2,358.9 291.1,354.6 291.7,355.2 292.4,354.6 293.4,356.8 294.6,352.8 295.3,352.6 296.3,351.9 297.3,351.3 298.1,347.4 299.2,350.2 299.6,349.4 300.6,352.3 301.4,345.7 302.6,349.6 303.5,343.3 304.2,350.5 305.0,343.3 306.1,347.4 306.9,343.6 307.8,345.4 308.8,343.4 310.0,343.9 310.6,338.9 311.7,343.4 312.4,340.0 313.3,344.4 314.0,335.9 315.0,340.0 316.2,336.0 316.9,341.2 317.7,336.8 319.0,338.1 319.9,335.1 320.4,338.7 321.4,331.2 322.4,337.8 323.0,332.4 324.1,334.8 324.9,328.0 326.1,334.1 326.6,330.2 328.0,330.7 328.5,327.7 329.4,330.5 330.2,327.5 331.6,328.3 332.4,321.6 332.9,326.9 334.1,322.1 334.9,325.3 335.9,319.0 336.7,323.5 337.9,320.7 338.4,321.5 339.6,316.9 340.2,324.9 341.3,314.2 342.1,322.7 343.1,317.3 344.0,322.3 344.9,316.6 345.5,321.7 346.4,310.9 347.8,319.5 348.3,309.5 349.3,315.2 350.1,310.3 351.2,315.9 352.3,307.2 352.9,313.4 353.7,306.9 354.7,310.3 355.4,309.7 356.3,312.0 357.2,306.5 358.2,313.4 359.5,306.8 359.9,312.5 361.1,300.9 361.8,312.0 362.6,302.9 364.0,310.9 364.4,304.8 365.3,309.2 366.6,298.9 367.2,307.9 368.1,299.8 369.4,304.1 369.9,299.9 371.1,302.0 371.7,297.8 372.8,303.4 373.5,297.3 374.5,306.1 375.7,295.8 376.6,302.7 377.1,294.9 378.3,299.5 378.8,294.8 379.8,299.2 380.6,292.3 381.8,302.4 382.8,290.8 383.7,300.0 384.6,289.9 385.3,295.7 386.1,292.3 386.9,295.7 388.0,293.4 389.2,292.7 389.8,286.9 390.8,297.9 391.9,287.8 392.8,296.0 393.6,289.6 394.4,295.3 395.1,282.4 396.3,292.5 397.0,287.1 398.1,287.9 398.7,279.7 400.0,285.2 400.4,284.3 401.7,284.5 402.7,283.3 403.1,283.6 404.5,278.5 405.2,282.3 406.1,275.6 406.8,281.1 407.7,274.3 408.6,287.5 409.6,275.7 410.6,286.4 411.6,277.1 412.5,277.2 413.2,274.4" stroke="#1f77b4" stroke-width="4.2" stroke-linejoin="round" stroke-linecap="round" fill="none"/>
<polygon points="74.0,425.8 78.6,425.8 83.6,425.8 88.2,425.8 93.2,425.8 97.9,425.8 102.5,425.8 107.7,425.7 112.5,425.5 117.0,425.2 122.1,424.8 127.0,424.5 131.7,424.1 136.2,423.9 141.3,423.6 146.0,423.4 150.5,423.2 155.4,423.0 160.2,422.6 165.0,422.3 170.1,421.7 174.7,420.9 179.8,419.9 184.1,418.9 189.3,417.6 193.9,416.3 198.6,415.0 203.8,413.5 208.1,412.4 213.3,410.8 217.9,409.3 222.8,407.6 227.6,405.9 232.5,404.2 237.0,402.5 241.8,400.8 247.0,399.0 251.5,397.2 256.4,395.1 261.3,392.8 266.1,390.2 270.8,387.5 275.5,384.7 280.6,381.6 284.9,378.8 290.1,375.4 294.8,372.4 299.4,369.4 304.5,366.1 309.1,363.2 314.2,360.0 318.7,357.3 323.7,354.3 328.2,351.5 333.4,348.3 337.7,345.7 342.8,342.5 347.5,339.5 352.3,336.5 357.2,333.4 361.9,330.4 366.8,327.0 371.6,323.7 376.5,320.5 381.0,317.8 386.2,315.2 391.0,313.0 395.7,311.1 400.2,309.3 405.0,307.3 410.0,305.2 410.0,314.5 405.0,316.7 400.2,318.6 395.7,320.4 391.0,322.3 386.2,324.4 381.0,326.8 376.5,329.2 371.6,332.0 366.8,334.8 361.9,337.7 357.2,340.2 352.3,342.6 347.5,345.0 342.8,347.3 337.7,349.7 333.4,351.7 328.2,354.1 323.7,356.3 318.7,358.8 314.2,361.1 309.1,363.9 304.5,366.6 299.4,369.9 294.8,372.9 290.1,375.9 284.9,379.3 280.6,382.1 275.5,385.4 270.8,388.3 266.1,391.2 261.3,393.9 256.4,396.5 251.5,398.8 247.0,400.8 241.8,402.9 237.0,404.6 232.5,406.1 227.6,407.6 222.8,409.0 217.9,410.3 213.3,411.6 208.1,413.0 203.8,414.3 198.6,416.0 193.9,417.5 189.3,419.1 184.1,420.8 179.8,422.2 174.7,423.7 170.1,424.9 165.0,426.1 160.2,427.0 155.4,427.8 150.5,428.7 146.0,429.3 141.3,429.9 136.2,430.4 131.7,430.8 127.0,431.1 122.1,431.4 117.0,431.7 112.5,431.8 107.7,432.0 102.5,432.0 97.9,432.0 93.2,431.8 88.2,431.6 83.6,431.4 78.6,431.3 74.0,431.3" fill="#1f77b4"/><polyline points="74.0,431.1 74.6,428.2 75.7,432.0 76.5,425.5 77.2,430.8 78.1,428.4 78.6,428.7 79.8,426.8 80.4,431.9 81.0,425.9 82.1,431.6 82.8,427.5 83.6,428.8 84.3,427.4 85.3,429.9 86.1,427.1 86.8,432.0 87.3,425.9 88.2,430.1 89.4,425.1 89.9,429.1 90.8,428.2 91.3,429.2 92.4,428.7 93.2,429.0 94.1,426.4 95.0,430.9 95.5,427.7 96.2,431.5 96.9,426.9 97.9,432.7 98.7,425.1 99.8,432.7 100.4,428.9 101.3,432.5 102.1,426.7 102.5,432.6 103.4,425.4 104.4,431.9 104.9,426.9 105.7,430.3 106.9,425.2 107.7,430.6 108.1,427.9 108.9,431.5 110.2,425.2 110.7,428.9 111.4,427.5 112.5,432.4 113.3,425.4 114.2,431.3 114.5,428.2 115.7,431.8 116.3,425.6 117.0,431.7 117.9,428.1 118.5,429.8 119.3,427.7 120.1,430.6 121.3,428.2 122.1,429.9 122.6,424.1 123.4,431.6 124.5,424.0 125.1,431.2 125.9,425.4 127.0,428.1 127.6,423.7 128.4,428.3 129.2,425.2 129.7,431.6 130.7,426.8 131.7,430.2 132.4,426.0 133.4,427.7 133.8,427.1 134.7,428.3 135.4,425.5 136.2,427.9 136.9,423.4 137.8,427.1 138.5,425.4 139.5,430.6 140.3,423.0 141.3,428.3 142.1,423.5 142.8,428.5 143.6,425.0 144.3,427.9 145.0,426.4 146.0,430.0 146.8,423.5 147.8,427.9 148.5,423.7 148.9,429.2 150.0,425.9 150.5,429.3 151.6,423.0 152.6,428.0 153.3,422.8 153.7,426.4 154.7,425.4 155.4,425.6 156.4,422.7 157.3,426.6 158.1,423.3 158.7,425.3 159.6,423.5 160.2,427.5 161.4,422.5 162.2,425.5 162.5,424.5 163.6,425.0 164.5,422.7 165.0,424.2 165.7,423.5 166.5,425.6 167.7,421.4 168.1,425.7 169.1,423.5 170.1,425.5 170.5,421.4 171.7,425.2 172.3,421.4 173.1,422.8 173.9,420.4 174.7,422.9 175.8,420.2 176.5,423.9 177.1,419.8 177.7,422.7 178.8,420.6 179.8,421.3 180.6,419.8 180.9,421.7 181.9,420.1 182.7,421.2 183.5,419.0 184.1,421.1 185.0,419.2 186.0,420.3 186.9,418.4 187.7,419.1 188.5,417.1 189.3,419.6 189.7,418.2 190.6,418.0 191.5,417.5 192.2,417.7 193.1,417.0 193.9,418.2 194.7,415.4 195.3,416.6 196.6,415.3 197.4,416.2 198.0,415.1 198.6,415.5 199.5,414.6 200.6,415.8 201.2,413.8 202.1,415.2 202.9,413.4 203.8,414.8 204.4,413.3 204.9,413.7 206.0,412.3 207.0,413.3 207.3,411.9 208.1,413.3 208.9,411.6 209.7,412.3 210.5,411.4 211.7,411.8 212.4,411.1 213.3,412.0 214.0,410.4 214.7,411.7 215.7,409.4 216.2,410.8 217.1,409.1 217.9,411.0 218.9,409.5 219.7,409.3 220.4,408.1 221.2,409.1 221.8,408.6 222.8,408.7 223.8,407.1 224.3,408.9 225.3,406.1 226.0,408.0 226.8,406.7 227.6,407.3 228.1,405.7 229.0,406.9 229.8,405.4 230.8,406.7 231.7,403.9 232.5,405.2 233.0,404.7 233.9,405.8 234.5,402.9 235.6,404.1 236.3,403.8 237.0,403.7 237.8,402.7 239.0,404.3 239.5,401.8 240.6,403.5 241.0,401.7 241.8,402.1 242.9,400.2 243.8,401.5 244.1,399.4 245.4,400.5 246.0,399.6 247.0,401.2 247.8,399.4 248.3,400.1 249.4,397.4 249.8,398.9 250.7,396.9 251.5,398.1 252.2,396.3 253.1,398.7 254.1,396.5 254.5,398.0 255.5,396.2 256.4,396.9 257.0,395.3 258.0,395.6 258.6,394.5 259.6,394.6 260.4,392.9 261.3,394.5 262.2,392.0 263.0,393.5 263.6,391.8 264.2,392.5 265.0,391.2 266.1,390.9 266.9,390.0 267.7,389.8 268.6,389.2 269.2,390.0 270.2,387.7 270.8,388.1 271.6,387.4 272.6,387.3 273.2,386.0 274.1,386.8 275.0,384.8 275.5,385.8 276.5,384.2 277.0,384.1 277.9,383.5 279.0,382.8 279.8,381.6 280.6,381.9 281.3,380.7 282.2,381.3 283.0,379.7 283.6,379.8 284.2,379.4 284.9,379.2 286.1,377.5 286.9,377.7 287.7,376.9 288.4,377.1 289.2,376.1 290.1,376.3 290.8,374.8 291.6,374.6 292.2,373.4 293.2,373.5 294.0,372.4 294.8,373.2 295.4,372.1 296.1,372.2 297.2,370.1 297.7,370.8 298.9,369.1 299.4,369.8 300.5,368.6 301.1,368.9 302.2,366.9 302.6,367.5 303.3,366.7 304.5,366.5 305.3,365.8 305.9,366.0 306.7,364.8 307.6,364.9 308.2,364.0 309.1,363.9 310.0,362.6 310.6,362.8 311.3,361.5 312.6,362.6 312.9,361.3 314.2,360.6 315.0,359.5 315.5,360.6 316.6,359.0 316.9,360.4 318.0,358.4 318.7,358.3 319.4,357.0 320.6,358.5 320.9,355.9 322.2,357.3 322.5,355.1 323.7,356.8 324.2,353.6 325.2,354.9 326.2,353.2 326.9,354.7 327.3,351.5 328.2,354.8 329.1,350.2 330.1,353.6 330.5,351.0 331.8,352.8 332.6,348.3 333.4,351.0 333.8,348.1 334.6,349.5 335.7,348.5 336.4,349.0 337.0,347.0 337.7,349.7 338.6,344.5 339.7,348.4 340.5,345.8 341.1,348.5 342.2,344.4 342.8,347.3 343.6,343.5 344.3,345.7 345.1,341.6 345.9,345.5 346.9,339.6 347.5,342.5 348.2,339.3 349.1,341.7 350.2,337.4 350.8,344.0 351.3,340.1 352.3,339.6 353.1,339.0 353.7,342.2 355.0,334.5 355.8,341.4 356.1,334.2 357.2,336.8 357.8,333.0 358.6,336.1 359.4,333.4 360.1,338.0 361.3,334.0 361.9,334.1 362.9,329.1 363.7,333.2 364.4,328.8 365.1,332.5 365.7,327.4 366.8,331.6 367.7,328.1 368.5,331.3 368.9,327.5 369.7,329.6 371.0,327.5 371.6,328.7 372.1,323.8 373.3,331.3 373.7,324.0 374.8,327.6 375.6,321.9 376.5,325.4 376.9,321.7 378.2,328.6 379.0,322.5 379.8,323.1 380.5,317.6 381.0,324.0 382.2,319.6 382.8,321.4 383.7,320.9 384.4,321.8 385.0,315.4 386.2,324.3 386.8,315.4 387.4,319.8 388.3,313.6 388.9,319.3 389.9,313.8 391.0,320.2 391.5,317.5 392.3,317.7 393.3,312.2 393.7,321.5 394.5,316.1 395.7,315.9 396.1,315.5 397.2,315.4 398.1,309.5 398.8,316.2 399.3,311.0 400.2,316.0 401.2,313.4 402.2,316.0 402.8,309.1 403.7,317.8 404.4,311.2 405.0,314.3 406.0,311.0 406.5,315.5 407.5,310.9 408.5,311.1 409.0,307.5 410.0,315.2 410.9,306.0 411.3,310.1 412.6,303.7 413.0,313.0" stroke="#1f77b4" stroke-width="4.2" stroke-linejoin="round" stroke-linecap="round" fill="none"/>
<polyline points="82.0,430.8 83.7,430.8 85.3,429.9 87.0,431.0 88.7,430.2 90.3,429.8 92.0,429.7" stroke="#e377c2" stroke-width="3.2" stroke-linejoin="round" stroke-linecap="round" fill="none"/>
<polyline points="126.0,428.8 129.0,428.7" stroke="#e377c2" stroke-width="3.2" stroke-linejoin="round" stroke-linecap="round" fill="none"/>
<polyline points="138.7,427.3 140.5,426.8 142.3,427.3 144.2,426.1 146.0,427.2" stroke="#e377c2" stroke-width="3.2" stroke-linejoin="round" stroke-linecap="round" fill="none"/>
<polyline points="168.0,421.5 170.0,421.3 172.0,421.5" stroke="#e377c2" stroke-width="3.2" stroke-linejoin="round" stroke-linecap="round" fill="none"/>
<polyline points="176.0,420.9 177.7,419.8 179.3,419.8 181.0,420.5 182.7,419.8 184.3,418.2 186.0,419.1" stroke="#e377c2" stroke-width="3.2" stroke-linejoin="round" stroke-linecap="round" fill="none"/>
<polyline points="150.0,425.4 152.0,426.1 154.0,424.9 156.0,424.7" stroke="#e377c2" stroke-width="3.2" stroke-linejoin="round" stroke-linecap="round" fill="none"/>
<polyline points="189.0,417.8 190.6,417.1 192.2,416.5 193.8,416.5 195.4,416.4 197.0,415.5" stroke="#e377c2" stroke-width="3.2" stroke-linejoin="round" stroke-linecap="round" fill="none"/>
<polyline points="101.5,422.3 102.9,422.1 104.3,422.0 105.7,421.8 107.1,421.0 108.5,421.7 109.9,420.7 111.3,420.6 112.8,421.1 114.2,420.4 115.6,420.3 117.0,420.9 118.4,421.4 119.8,419.9 121.2,420.4 122.6,419.7 124.0,420.4" stroke="#bcbd22" stroke-width="3.2" stroke-linejoin="round" stroke-linecap="round" fill="none"/>
<polyline points="103.7,432.3 105.2,432.1 106.6,431.4 108.1,432.4 109.5,432.0 111.0,432.1 112.4,432.2 113.9,432.5 115.3,431.7 116.8,432.4 118.2,431.2 119.7,431.6 121.1,431.1 122.6,431.4" stroke="#bcbd22" stroke-width="3.2" stroke-linejoin="round" stroke-linecap="round" fill="none"/>
<polyline points="84.0,424.1 86.0,424.3 88.0,423.5 90.0,423.1" stroke="#bcbd22" stroke-width="3.2" stroke-linejoin="round" stroke-linecap="round" fill="none"/>
<polyline points="128.0,418.7 130.0,419.5 132.0,418.6 134.0,418.0" stroke="#bcbd22" stroke-width="3.2" stroke-linejoin="round" stroke-linecap="round" fill="none"/>
<polyline points="160.0,414.5 161.6,413.7 163.2,413.3 164.8,413.7 166.4,413.2 168.0,411.7" stroke="#bcbd22" stroke-width="3.2" stroke-linejoin="round" stroke-linecap="round" fill="none"/>
<polyline points="143.0,430.2 145.0,429.3 147.0,428.8 149.0,429.9" stroke="#bcbd22" stroke-width="3.2" stroke-linejoin="round" stroke-linecap="round" fill="none"/>
<polyline points="228.9,401.6 230.2,400.6 231.3,399.6 232.1,398.8 233.7,397.9 234.5,397.7 235.3,397.2 236.7,396.1 237.5,395.5 239.2,394.7 240.1,394.2 241.0,393.9 242.4,393.6 243.4,392.8 244.5,392.2 245.3,391.7 246.3,391.0 247.9,389.8 249.0,389.0 249.8,388.9 250.9,388.1 252.0,387.6 253.0,387.5 254.5,386.6 255.4,385.5 256.6,384.1 257.6,383.2 258.4,382.6 259.5,382.0 260.7,381.1 262.0,380.5 263.1,380.0 264.5,379.3 265.5,378.8 266.5,377.6 267.4,377.0 268.5,375.8 269.8,374.7 270.7,374.2 272.0,373.5 273.1,372.9 273.8,372.5 275.4,371.3 276.0,371.0 277.3,370.6 278.8,369.2 279.7,368.1 280.9,367.4 282.0,367.1 282.7,366.6 284.1,365.8 285.0,365.6 285.9,365.3 287.0,364.5 288.1,363.8 289.6,363.0 290.7,362.5 291.9,362.1 292.6,361.3 294.0,359.9 294.8,359.3 296.0,359.0 297.3,358.1 298.2,357.4 299.7,356.7 300.4,356.5 301.4,355.6 302.9,354.3 304.0,353.4 304.7,353.0 305.9,352.4 307.1,350.9 307.9,350.3 309.2,349.5 310.5,348.6 311.6,347.7 312.4,347.5 313.6,346.7 314.6,345.6 316.0,344.4 316.8,344.1 318.4,343.3 318.9,342.8 320.3,342.1 321.5,341.2 322.7,340.4 323.6,340.0 324.9,338.9 325.8,338.6 326.7,338.5 327.9,338.0 329.1,336.8 330.2,336.0 331.4,335.5 332.4,335.0 333.4,334.2 334.6,333.9 335.7,333.1 336.5,332.4 337.8,331.9 339.0,331.1 340.2,330.5 341.1,329.5 342.4,328.3 343.4,327.5 344.4,326.9 345.4,325.8" stroke="#bcbd22" stroke-width="2.8" stroke-linejoin="round" stroke-linecap="round" fill="none"/>
<polygon points="368.0,305.5 374.3,296.0 380.8,287.4 387.7,280.5 394.3,274.9 400.7,269.8 407.2,265.3 407.2,267.0 400.7,271.3 394.3,276.0 387.7,281.3 380.8,287.9 374.3,296.5 368.0,306.0" fill="#bcbd22"/><polyline points="368.0,303.9 368.6,303.1 370.2,301.1 371.2,299.7 372.3,298.4 373.2,296.9 374.3,295.7 375.3,294.2 376.4,293.0 377.8,290.9 378.7,290.5 379.6,288.2 380.8,288.2 381.9,285.5 383.0,285.7 384.3,283.1 385.6,283.7 386.5,281.6 387.7,281.0 388.5,279.4 389.9,280.2 391.1,277.9 392.3,277.7 393.2,275.3 394.3,276.6 395.6,273.2 396.2,275.3 397.7,271.8 398.7,273.0 399.8,271.1 400.7,271.1 401.6,268.8 402.8,269.1 404.2,267.0 405.1,267.5 406.6,265.4 407.2,266.2 408.7,263.8 409.6,265.6 410.6,263.3 411.6,264.3 412.8,261.9" stroke="#bcbd22" stroke-width="3.4" stroke-linejoin="round" stroke-linecap="round" fill="none"/>
<polygon points="245.5,396.4 250.9,393.6 256.1,390.7 261.9,387.3 267.0,384.1 272.3,380.7 277.9,376.9 283.4,373.1 288.8,369.3 294.1,365.6 299.5,361.7 305.0,357.8 310.6,353.8 315.5,350.2 321.4,345.7 326.8,341.5 331.7,337.7 337.4,333.2 343.0,328.9 347.9,325.4 353.4,321.7 359.1,318.3 364.3,315.6 369.5,313.1 375.4,310.4 380.5,308.2 386.2,305.6 391.6,303.3 396.6,301.1 402.0,298.8 407.4,296.3 412.7,293.8 412.7,298.4 407.4,300.7 402.0,303.0 396.6,305.1 391.6,307.2 386.2,309.6 380.5,312.6 375.4,315.6 369.5,319.6 364.3,323.2 359.1,326.6 353.4,330.3 347.9,333.7 343.0,336.7 337.4,340.2 331.7,343.7 326.8,346.7 321.4,350.0 315.5,353.6 310.6,356.7 305.0,360.3 299.5,364.0 294.1,367.8 288.8,371.5 283.4,375.3 277.9,379.0 272.3,382.6 267.0,385.7 261.9,388.5 256.1,391.2 250.9,394.1 245.5,396.9" fill="#e377c2"/><polyline points="245.5,395.5 246.5,394.9 247.4,394.8 248.4,394.2 248.9,394.1 250.1,393.4 250.9,393.9 252.1,392.7 252.8,393.5 253.8,392.4 254.7,392.6 255.3,391.5 256.1,391.4 257.4,390.2 257.9,390.3 259.3,388.6 260.1,388.9 260.8,387.2 261.9,387.7 262.4,387.0 263.6,387.3 264.7,384.6 265.0,385.8 266.5,384.3 267.0,384.1 268.0,382.9 269.2,383.4 270.0,381.3 270.7,384.1 271.9,381.7 272.3,383.3 273.5,379.9 274.4,381.1 275.5,379.1 275.9,381.0 276.9,378.3 277.9,379.7 278.6,377.2 279.8,377.2 280.9,374.4 281.8,376.6 282.2,373.5 283.4,374.2 284.5,371.4 284.9,374.5 286.2,371.6 286.8,371.6 288.1,369.0 288.8,371.2 289.9,368.5 290.3,369.9 291.5,366.9 292.3,370.1 293.0,367.6 294.1,368.7 295.2,365.2 296.0,367.1 296.9,364.1 297.6,366.6 298.7,364.5 299.5,365.7 300.7,361.9 301.6,363.9 302.2,361.9 303.1,361.4 303.9,359.2 305.0,360.3 305.6,358.6 307.0,358.1 307.6,357.0 308.3,357.8 309.3,354.6 310.6,355.4 311.1,353.1 312.1,355.2 313.3,353.1 314.1,354.6 314.8,351.2 315.5,352.2 316.6,350.9 317.5,353.1 318.7,347.3 319.4,350.2 320.5,346.5 321.4,347.9 322.3,347.0 322.9,346.7 323.8,343.4 324.8,348.6 325.8,341.6 326.8,346.3 327.6,343.4 328.2,346.6 329.4,338.9 330.1,343.9 331.2,337.0 331.7,342.8 333.1,336.2 333.9,343.0 334.4,338.2 335.4,338.9 336.3,336.2 337.4,340.2 338.5,331.6 339.4,339.3 340.1,333.5 340.7,334.5 342.1,332.9 343.0,336.9 343.4,332.5 344.6,334.9 345.5,329.9 346.4,332.5 347.4,328.1 347.9,332.2 348.9,328.6 349.9,330.0 350.9,326.9 351.5,328.6 352.5,322.4 353.4,330.0 354.2,323.9 355.3,325.6 356.1,322.9 357.1,327.7 357.9,321.4 359.1,326.7 359.6,321.2 360.9,323.8 361.7,316.9 362.3,323.8 363.4,320.6 364.3,324.7 365.2,315.3 366.3,321.4 366.8,318.4 367.7,320.2 369.0,314.2 369.5,319.8 370.9,312.1 371.5,318.5 372.2,311.6 373.5,317.9 374.1,313.1 375.4,313.3 376.3,309.9 377.2,313.7 378.1,311.4 378.5,312.9 379.4,311.0 380.5,311.3 381.4,308.3 382.3,309.8 383.3,309.0 384.3,308.5 385.2,305.3 386.2,309.8 387.0,305.2 388.0,307.9 388.4,306.0 389.3,305.6 390.4,305.0 391.6,304.8 392.2,301.8 392.9,305.1 393.8,301.1 394.8,304.2 396.1,301.9 396.6,305.5 397.9,302.4 398.8,302.5 399.6,299.7 400.6,303.1 401.1,301.1 402.0,301.0 402.9,299.3 403.7,300.5 405.1,298.5 405.6,302.7 406.7,299.2 407.4,301.7 408.5,297.8 409.3,301.0 410.4,295.3 411.0,300.1 411.9,294.6 412.7,297.8" stroke="#e377c2" stroke-width="3.3" stroke-linejoin="round" stroke-linecap="round" fill="none"/>
<polyline points="164.7,420.5 166.2,420.2 167.7,419.9 169.2,419.9 170.7,419.8 172.2,418.6 173.7,418.1 175.2,418.7 176.7,417.3 178.2,418.1 179.7,417.5 181.2,417.4 182.7,416.7 184.2,415.4" stroke="#e377c2" stroke-width="2.7" stroke-linejoin="round" stroke-linecap="round" fill="none"/>
<polyline points="189.5,414.6 190.9,413.9 192.4,413.5 193.9,414.4 195.4,414.1 196.9,413.8 198.4,412.6 199.9,412.2 201.4,410.9 202.9,410.6 204.4,411.4" stroke="#e377c2" stroke-width="2.7" stroke-linejoin="round" stroke-linecap="round" fill="none"/>
<polyline points="208.8,410.9 210.3,409.1 211.7,409.5 213.2,409.5 214.6,408.9 216.1,408.6 217.5,407.3 219.0,406.7 220.4,405.3 221.9,405.6 223.3,405.2 224.8,405.3" stroke="#e377c2" stroke-width="2.7" stroke-linejoin="round" stroke-linecap="round" fill="none"/>
<polyline points="231.1,401.3 232.8,399.5 234.6,400.0 236.4,399.0 238.2,398.9 239.9,397.3" stroke="#e377c2" stroke-width="2.7" stroke-linejoin="round" stroke-linecap="round" fill="none"/>
<polyline points="243.4,396.4 245.1,395.9 246.9,396.0 248.7,395.2" stroke="#e377c2" stroke-width="2.7" stroke-linejoin="round" stroke-linecap="round" fill="none"/>
<polygon points="367.0,290.8 372.2,286.4 377.8,281.8 383.0,277.6 388.2,273.2 393.8,268.6 399.0,264.3 404.7,260.0 410.1,256.2 410.1,258.0 404.7,261.9 399.0,266.5 393.8,270.9 388.2,275.6 383.0,279.7 377.8,283.4 372.2,287.1 367.0,291.3" fill="#e377c2"/><polyline points="367.0,290.7 367.8,290.0 368.4,289.9 369.3,288.7 370.5,288.3 371.3,287.4 372.2,287.7 372.8,286.3 374.1,285.7 375.1,284.2 375.7,284.2 376.5,283.1 377.8,284.0 378.7,281.6 379.1,283.1 380.3,279.1 381.1,280.4 381.9,278.3 383.0,279.3 384.0,276.5 384.7,277.4 385.5,276.5 386.8,275.8 387.6,274.3 388.2,274.7 389.1,271.9 390.1,273.2 391.3,270.7 392.2,271.9 392.7,270.7 393.8,271.3 394.4,269.1 395.8,268.3 396.7,266.1 397.2,267.1 398.2,264.8 399.0,265.9 399.9,263.5 401.1,265.3 401.8,261.6 402.5,263.2 403.5,260.1 404.7,262.5 405.6,259.4 406.1,260.9 407.3,258.4 408.2,258.6 409.1,257.7 410.1,257.2 411.0,255.8 411.7,257.6 412.9,253.8 413.5,255.2" stroke="#e377c2" stroke-width="3.8" stroke-linejoin="round" stroke-linecap="round" fill="none"/>
<path d="M306.1 352.7l8.34 8.34m0-8.34l-8.34 8.34M337.0 332.1l8.34 8.34m0-8.34l-8.34 8.34M355.2 319.9l8.34 8.34m0-8.34l-8.34 8.34M368.1 311.3l8.34 8.34m0-8.34l-8.34 8.34M378.1 304.3l8.34 8.34m0-8.34l-8.34 8.34M386.3 298.7l8.34 8.34m0-8.34l-8.34 8.34M393.2 293.9l8.34 8.34m0-8.34l-8.34 8.34M399.2 289.7l8.34 8.34m0-8.34l-8.34 8.34M404.5 286.0l8.34 8.34m0-8.34l-8.34 8.34M409.3 282.7l8.34 8.34m0-8.34l-8.34 8.34M413.5 279.3l8.34 8.34m0-8.34l-8.34 8.34M417.5 276.2l8.34 8.34m0-8.34l-8.34 8.34M421.0 273.4l8.34 8.34m0-8.34l-8.34 8.34M424.4 270.8l8.34 8.34m0-8.34l-8.34 8.34M427.5 268.5l8.34 8.34m0-8.34l-8.34 8.34M430.4 266.2l8.34 8.34m0-8.34l-8.34 8.34M433.1 264.2l8.34 8.34m0-8.34l-8.34 8.34M435.7 262.2l8.34 8.34m0-8.34l-8.34 8.34M438.1 260.4l8.34 8.34m0-8.34l-8.34 8.34M440.4 258.7l8.34 8.34m0-8.34l-8.34 8.34M442.6 257.1l8.34 8.34m0-8.34l-8.34 8.34M444.7 255.5l8.34 8.34m0-8.34l-8.34 8.34M446.7 254.1l8.34 8.34m0-8.34l-8.34 8.34M448.6 252.6l8.34 8.34m0-8.34l-8.34 8.34M450.5 251.3l8.34 8.34m0-8.34l-8.34 8.34M452.2 250.0l8.34 8.34m0-8.34l-8.34 8.34M453.9 248.7l8.34 8.34m0-8.34l-8.34 8.34M455.6 247.5l8.34 8.34m0-8.34l-8.34 8.34M457.1 246.3l8.34 8.34m0-8.34l-8.34 8.34M458.7 245.2l8.34 8.34m0-8.34l-8.34 8.34M460.1 244.1l8.34 8.34m0-8.34l-8.34 8.34M461.6 243.1l8.34 8.34m0-8.34l-8.34 8.34M462.9 242.1l8.34 8.34m0-8.34l-8.34 8.34M464.3 241.1l8.34 8.34m0-8.34l-8.34 8.34M465.6 240.1l8.34 8.34m0-8.34l-8.34 8.34M466.9 239.2l8.34 8.34m0-8.34l-8.34 8.34M468.1 238.3l8.34 8.34m0-8.34l-8.34 8.34M469.3 237.4l8.34 8.34m0-8.34l-8.34 8.34M470.5 236.5l8.34 8.34m0-8.34l-8.34 8.34M471.6 235.7l8.34 8.34m0-8.34l-8.34 8.34M472.7 234.9l8.34 8.34m0-8.34l-8.34 8.34M473.8 234.1l8.34 8.34m0-8.34l-8.34 8.34M474.8 233.3l8.34 8.34m0-8.34l-8.34 8.34M475.9 232.6l8.34 8.34m0-8.34l-8.34 8.34M476.9 231.8l8.34 8.34m0-8.34l-8.34 8.34M477.9 231.1l8.34 8.34m0-8.34l-8.34 8.34M478.8 230.4l8.34 8.34m0-8.34l-8.34 8.34M479.8 229.7l8.34 8.34m0-8.34l-8.34 8.34M480.7 229.0l8.34 8.34m0-8.34l-8.34 8.34M481.6 228.4l8.34 8.34m0-8.34l-8.34 8.34M482.5 227.7l8.34 8.34m0-8.34l-8.34 8.34M484.3 226.5l8.34 8.34m0-8.34l-8.34 8.34M485.9 225.2l8.34 8.34m0-8.34l-8.34 8.34M487.5 224.1l8.34 8.34m0-8.34l-8.34 8.34M489.1 223.0l8.34 8.34m0-8.34l-8.34 8.34M490.6 221.9l8.34 8.34m0-8.34l-8.34 8.34M492.0 220.8l8.34 8.34m0-8.34l-8.34 8.34M493.4 219.8l8.34 8.34m0-8.34l-8.34 8.34M494.8 218.8l8.34 8.34m0-8.34l-8.34 8.34M496.1 217.9l8.34 8.34m0-8.34l-8.34 8.34M497.4 216.9l8.34 8.34m0-8.34l-8.34 8.34M498.7 216.1l8.34 8.34m0-8.34l-8.34 8.34M499.9 215.2l8.34 8.34m0-8.34l-8.34 8.34M501.1 214.3l8.34 8.34m0-8.34l-8.34 8.34M502.2 213.5l8.34 8.34m0-8.34l-8.34 8.34M503.3 212.7l8.34 8.34m0-8.34l-8.34 8.34M504.4 211.9l8.34 8.34m0-8.34l-8.34 8.34M505.5 211.2l8.34 8.34m0-8.34l-8.34 8.34M506.5 210.4l8.34 8.34m0-8.34l-8.34 8.34M507.6 209.7l8.34 8.34m0-8.34l-8.34 8.34M508.6 209.0l8.34 8.34m0-8.34l-8.34 8.34M509.5 208.3l8.34 8.34m0-8.34l-8.34 8.34M510.5 207.6l8.34 8.34m0-8.34l-8.34 8.34M511.4 206.9l8.34 8.34m0-8.34l-8.34 8.34M512.4 206.3l8.34 8.34m0-8.34l-8.34 8.34M513.3 205.7l8.34 8.34m0-8.34l-8.34 8.34M514.6 204.7l8.34 8.34m0-8.34l-8.34 8.34M515.9 203.8l8.34 8.34m0-8.34l-8.34 8.34M517.1 203.0l8.34 8.34m0-8.34l-8.34 8.34M518.3 202.1l8.34 8.34m0-8.34l-8.34 8.34M519.5 201.3l8.34 8.34m0-8.34l-8.34 8.34M520.6 200.5l8.34 8.34m0-8.34l-8.34 8.34M521.8 199.7l8.34 8.34m0-8.34l-8.34 8.34M522.9 198.9l8.34 8.34m0-8.34l-8.34 8.34M523.9 198.2l8.34 8.34m0-8.34l-8.34 8.34M525.0 197.5l8.34 8.34m0-8.34l-8.34 8.34M526.0 196.7l8.34 8.34m0-8.34l-8.34 8.34M527.0 196.1l8.34 8.34m0-8.34l-8.34 8.34M528.0 195.4l8.34 8.34m0-8.34l-8.34 8.34M528.9 194.7l8.34 8.34m0-8.34l-8.34 8.34M529.8 194.1l8.34 8.34m0-8.34l-8.34 8.34M530.8 193.4l8.34 8.34m0-8.34l-8.34 8.34M531.9 192.6l8.34 8.34m0-8.34l-8.34 8.34M533.1 191.8l8.34 8.34m0-8.34l-8.34 8.34M534.2 191.0l8.34 8.34m0-8.34l-8.34 8.34M535.3 190.3l8.34 8.34m0-8.34l-8.34 8.34M536.4 189.5l8.34 8.34m0-8.34l-8.34 8.34M537.5 188.8l8.34 8.34m0-8.34l-8.34 8.34M538.5 188.1l8.34 8.34m0-8.34l-8.34 8.34M539.5 187.4l8.34 8.34m0-8.34l-8.34 8.34M540.5 186.7l8.34 8.34m0-8.34l-8.34 8.34M541.5 186.1l8.34 8.34m0-8.34l-8.34 8.34M542.4 185.4l8.34 8.34m0-8.34l-8.34 8.34M543.3 184.8l8.34 8.34m0-8.34l-8.34 8.34M544.4 184.0l8.34 8.34m0-8.34l-8.34 8.34M545.5 183.3l8.34 8.34m0-8.34l-8.34 8.34M546.6 182.6l8.34 8.34m0-8.34l-8.34 8.34M547.7 181.9l8.34 8.34m0-8.34l-8.34 8.34M548.7 181.2l8.34 8.34m0-8.34l-8.34 8.34M549.7 180.5l8.34 8.34m0-8.34l-8.34 8.34M550.7 179.8l8.34 8.34m0-8.34l-8.34 8.34M551.6 179.2l8.34 8.34m0-8.34l-8.34 8.34M552.6 178.5l8.34 8.34m0-8.34l-8.34 8.34M553.5 177.9l8.34 8.34m0-8.34l-8.34 8.34M554.6 177.2l8.34 8.34m0-8.34l-8.34 8.34M555.6 176.5l8.34 8.34m0-8.34l-8.34 8.34M556.7 175.8l8.34 8.34m0-8.34l-8.34 8.34M557.7 175.1l8.34 8.34m0-8.34l-8.34 8.34M558.7 174.4l8.34 8.34m0-8.34l-8.34 8.34M559.6 173.8l8.34 8.34m0-8.34l-8.34 8.34M560.6 173.2l8.34 8.34m0-8.34l-8.34 8.34M561.5 172.6l8.34 8.34m0-8.34l-8.34 8.34M562.5 171.8l8.34 8.34m0-8.34l-8.34 8.34M563.6 171.2l8.34 8.34m0-8.34l-8.34 8.34M564.6 170.5l8.34 8.34m0-8.34l-8.34 8.34M565.6 169.8l8.34 8.34m0-8.34l-8.34 8.34M566.5 169.2l8.34 8.34m0-8.34l-8.34 8.34M567.5 168.6l8.34 8.34m0-8.34l-8.34 8.34M568.4 167.9l8.34 8.34m0-8.34l-8.34 8.34M569.4 167.3l8.34 8.34m0-8.34l-8.34 8.34M570.4 166.6l8.34 8.34m0-8.34l-8.34 8.34M571.4 165.9l8.34 8.34m0-8.34l-8.34 8.34M572.4 165.3l8.34 8.34m0-8.34l-8.34 8.34M573.3 164.7l8.34 8.34m0-8.34l-8.34 8.34M574.3 164.1l8.34 8.34m0-8.34l-8.34 8.34M575.3 163.4l8.34 8.34m0-8.34l-8.34 8.34M576.3 162.7l8.34 8.34m0-8.34l-8.34 8.34M577.3 162.1l8.34 8.34m0-8.34l-8.34 8.34M578.2 161.4l8.34 8.34m0-8.34l-8.34 8.34M579.2 160.8l8.34 8.34m0-8.34l-8.34 8.34M580.2 160.2l8.34 8.34m0-8.34l-8.34 8.34M581.2 159.5l8.34 8.34m0-8.34l-8.34 8.34M582.2 158.9l8.34 8.34m0-8.34l-8.34 8.34M583.1 158.2l8.34 8.34m0-8.34l-8.34 8.34M584.0 157.6l8.34 8.34m0-8.34l-8.34 8.34M585.0 157.0l8.34 8.34m0-8.34l-8.34 8.34M586.0 156.3l8.34 8.34m0-8.34l-8.34 8.34M587.0 155.7l8.34 8.34m0-8.34l-8.34 8.34M587.9 155.1l8.34 8.34m0-8.34l-8.34 8.34M588.9 154.5l8.34 8.34m0-8.34l-8.34 8.34M589.8 153.8l8.34 8.34m0-8.34l-8.34 8.34M590.8 153.2l8.34 8.34m0-8.34l-8.34 8.34M591.7 152.6l8.34 8.34m0-8.34l-8.34 8.34M592.7 152.0l8.34 8.34m0-8.34l-8.34 8.34M593.7 151.3l8.34 8.34m0-8.34l-8.34 8.34M594.6 150.7l8.34 8.34m0-8.34l-8.34 8.34M595.6 150.1l8.34 8.34m0-8.34l-8.34 8.34M596.5 149.4l8.34 8.34m0-8.34l-8.34 8.34M597.5 148.8l8.34 8.34m0-8.34l-8.34 8.34M598.5 148.2l8.34 8.34m0-8.34l-8.34 8.34M599.4 147.6l8.34 8.34m0-8.34l-8.34 8.34M600.4 147.0l8.34 8.34m0-8.34l-8.34 8.34M601.3 146.3l8.34 8.34m0-8.34l-8.34 8.34M602.3 145.7l8.34 8.34m0-8.34l-8.34 8.34M603.2 145.1l8.34 8.34m0-8.34l-8.34 8.34M604.2 144.5l8.34 8.34m0-8.34l-8.34 8.34M605.1 143.9l8.34 8.34m0-8.34l-8.34 8.34M606.1 143.2l8.34 8.34m0-8.34l-8.34 8.34M607.0 142.6l8.34 8.34m0-8.34l-8.34 8.34M608.0 142.0l8.34 8.34m0-8.34l-8.34 8.34M608.9 141.4l8.34 8.34m0-8.34l-8.34 8.34M609.9 140.7l8.34 8.34m0-8.34l-8.34 8.34M610.4 140.4l8.34 8.34m0-8.34l-8.34 8.34" stroke="#7f7f7f" stroke-width="2.1" fill="none"/>
<path d="M98.4 419.8l8.34 8.34m0-8.34l-8.34 8.34M306.1 339.8l8.34 8.34m0-8.34l-8.34 8.34M337.0 318.9l8.34 8.34m0-8.34l-8.34 8.34M355.2 306.4l8.34 8.34m0-8.34l-8.34 8.34M368.1 298.0l8.34 8.34m0-8.34l-8.34 8.34M378.1 290.4l8.34 8.34m0-8.34l-8.34 8.34M386.3 284.8l8.34 8.34m0-8.34l-8.34 8.34M393.2 278.6l8.34 8.34m0-8.34l-8.34 8.34M399.2 273.5l8.34 8.34m0-8.34l-8.34 8.34M404.5 269.3l8.34 8.34m0-8.34l-8.34 8.34M409.3 265.7l8.34 8.34m0-8.34l-8.34 8.34M413.5 262.3l8.34 8.34m0-8.34l-8.34 8.34M417.5 259.3l8.34 8.34m0-8.34l-8.34 8.34M421.0 256.6l8.34 8.34m0-8.34l-8.34 8.34M424.4 254.0l8.34 8.34m0-8.34l-8.34 8.34M427.5 251.7l8.34 8.34m0-8.34l-8.34 8.34M430.4 249.5l8.34 8.34m0-8.34l-8.34 8.34M433.1 247.5l8.34 8.34m0-8.34l-8.34 8.34M435.7 245.6l8.34 8.34m0-8.34l-8.34 8.34M438.1 243.8l8.34 8.34m0-8.34l-8.34 8.34M440.4 242.1l8.34 8.34m0-8.34l-8.34 8.34M442.6 240.5l8.34 8.34m0-8.34l-8.34 8.34M444.7 239.0l8.34 8.34m0-8.34l-8.34 8.34M446.7 237.6l8.34 8.34m0-8.34l-8.34 8.34M448.6 236.2l8.34 8.34m0-8.34l-8.34 8.34M450.5 234.8l8.34 8.34m0-8.34l-8.34 8.34M452.2 233.6l8.34 8.34m0-8.34l-8.34 8.34M453.9 232.3l8.34 8.34m0-8.34l-8.34 8.34M455.6 231.1l8.34 8.34m0-8.34l-8.34 8.34M457.1 230.0l8.34 8.34m0-8.34l-8.34 8.34M458.7 228.9l8.34 8.34m0-8.34l-8.34 8.34M460.1 227.8l8.34 8.34m0-8.34l-8.34 8.34M461.6 226.8l8.34 8.34m0-8.34l-8.34 8.34M462.9 225.8l8.34 8.34m0-8.34l-8.34 8.34M464.3 224.8l8.34 8.34m0-8.34l-8.34 8.34M465.6 223.9l8.34 8.34m0-8.34l-8.34 8.34M466.9 223.0l8.34 8.34m0-8.34l-8.34 8.34M468.1 222.1l8.34 8.34m0-8.34l-8.34 8.34M469.3 221.2l8.34 8.34m0-8.34l-8.34 8.34M470.5 220.4l8.34 8.34m0-8.34l-8.34 8.34M471.6 219.6l8.34 8.34m0-8.34l-8.34 8.34M472.7 218.8l8.34 8.34m0-8.34l-8.34 8.34M473.8 218.0l8.34 8.34m0-8.34l-8.34 8.34M474.8 217.2l8.34 8.34m0-8.34l-8.34 8.34M475.9 216.5l8.34 8.34m0-8.34l-8.34 8.34M476.9 215.8l8.34 8.34m0-8.34l-8.34 8.34M477.9 215.1l8.34 8.34m0-8.34l-8.34 8.34M478.8 214.4l8.34 8.34m0-8.34l-8.34 8.34M479.8 213.7l8.34 8.34m0-8.34l-8.34 8.34M480.7 213.0l8.34 8.34m0-8.34l-8.34 8.34M481.6 212.4l8.34 8.34m0-8.34l-8.34 8.34M483.4 211.1l8.34 8.34m0-8.34l-8.34 8.34M485.1 209.9l8.34 8.34m0-8.34l-8.34 8.34M486.7 208.7l8.34 8.34m0-8.34l-8.34 8.34M488.3 207.6l8.34 8.34m0-8.34l-8.34 8.34M489.8 206.5l8.34 8.34m0-8.34l-8.34 8.34M491.3 205.5l8.34 8.34m0-8.34l-8.34 8.34M492.7 204.5l8.34 8.34m0-8.34l-8.34 8.34M494.1 203.5l8.34 8.34m0-8.34l-8.34 8.34M495.5 202.6l8.34 8.34m0-8.34l-8.34 8.34M496.8 201.6l8.34 8.34m0-8.34l-8.34 8.34M498.0 200.7l8.34 8.34m0-8.34l-8.34 8.34M499.3 199.9l8.34 8.34m0-8.34l-8.34 8.34M500.5 199.0l8.34 8.34m0-8.34l-8.34 8.34M501.6 198.2l8.34 8.34m0-8.34l-8.34 8.34M502.8 197.4l8.34 8.34m0-8.34l-8.34 8.34M503.9 196.6l8.34 8.34m0-8.34l-8.34 8.34M505.0 195.9l8.34 8.34m0-8.34l-8.34 8.34M506.0 195.1l8.34 8.34m0-8.34l-8.34 8.34M507.1 194.4l8.34 8.34m0-8.34l-8.34 8.34M508.1 193.7l8.34 8.34m0-8.34l-8.34 8.34M509.1 193.0l8.34 8.34m0-8.34l-8.34 8.34M510.0 192.4l8.34 8.34m0-8.34l-8.34 8.34M511.0 191.7l8.34 8.34m0-8.34l-8.34 8.34M511.9 191.1l8.34 8.34m0-8.34l-8.34 8.34M512.8 190.4l8.34 8.34m0-8.34l-8.34 8.34M514.1 189.5l8.34 8.34m0-8.34l-8.34 8.34M515.4 188.6l8.34 8.34m0-8.34l-8.34 8.34M516.7 187.7l8.34 8.34m0-8.34l-8.34 8.34M517.9 186.9l8.34 8.34m0-8.34l-8.34 8.34M519.1 186.1l8.34 8.34m0-8.34l-8.34 8.34M520.3 185.3l8.34 8.34m0-8.34l-8.34 8.34M521.4 184.5l8.34 8.34m0-8.34l-8.34 8.34M522.5 183.8l8.34 8.34m0-8.34l-8.34 8.34M523.6 183.0l8.34 8.34m0-8.34l-8.34 8.34M524.6 182.3l8.34 8.34m0-8.34l-8.34 8.34M525.6 181.6l8.34 8.34m0-8.34l-8.34 8.34M526.6 180.9l8.34 8.34m0-8.34l-8.34 8.34M527.6 180.3l8.34 8.34m0-8.34l-8.34 8.34M528.6 179.6l8.34 8.34m0-8.34l-8.34 8.34M529.5 179.0l8.34 8.34m0-8.34l-8.34 8.34M530.5 178.3l8.34 8.34m0-8.34l-8.34 8.34M531.7 177.5l8.34 8.34m0-8.34l-8.34 8.34M532.8 176.7l8.34 8.34m0-8.34l-8.34 8.34M534.0 176.0l8.34 8.34m0-8.34l-8.34 8.34M535.1 175.2l8.34 8.34m0-8.34l-8.34 8.34M536.2 174.5l8.34 8.34m0-8.34l-8.34 8.34M537.2 173.8l8.34 8.34m0-8.34l-8.34 8.34M538.2 173.1l8.34 8.34m0-8.34l-8.34 8.34M539.3 172.4l8.34 8.34m0-8.34l-8.34 8.34M540.2 171.7l8.34 8.34m0-8.34l-8.34 8.34M541.2 171.1l8.34 8.34m0-8.34l-8.34 8.34M542.2 170.4l8.34 8.34m0-8.34l-8.34 8.34M543.1 169.8l8.34 8.34m0-8.34l-8.34 8.34M544.2 169.1l8.34 8.34m0-8.34l-8.34 8.34M545.3 168.3l8.34 8.34m0-8.34l-8.34 8.34M546.4 167.6l8.34 8.34m0-8.34l-8.34 8.34M547.5 166.9l8.34 8.34m0-8.34l-8.34 8.34M548.5 166.2l8.34 8.34m0-8.34l-8.34 8.34M549.5 165.6l8.34 8.34m0-8.34l-8.34 8.34M550.5 164.9l8.34 8.34m0-8.34l-8.34 8.34M551.4 164.3l8.34 8.34m0-8.34l-8.34 8.34M552.4 163.6l8.34 8.34m0-8.34l-8.34 8.34M553.3 163.0l8.34 8.34m0-8.34l-8.34 8.34M554.4 162.3l8.34 8.34m0-8.34l-8.34 8.34M555.5 161.6l8.34 8.34m0-8.34l-8.34 8.34M556.5 160.9l8.34 8.34m0-8.34l-8.34 8.34M557.5 160.3l8.34 8.34m0-8.34l-8.34 8.34M558.5 159.6l8.34 8.34m0-8.34l-8.34 8.34M559.5 159.0l8.34 8.34m0-8.34l-8.34 8.34M560.4 158.4l8.34 8.34m0-8.34l-8.34 8.34M561.3 157.8l8.34 8.34m0-8.34l-8.34 8.34M562.4 157.1l8.34 8.34m0-8.34l-8.34 8.34M563.4 156.4l8.34 8.34m0-8.34l-8.34 8.34M564.4 155.7l8.34 8.34m0-8.34l-8.34 8.34M565.4 155.1l8.34 8.34m0-8.34l-8.34 8.34M566.4 154.4l8.34 8.34m0-8.34l-8.34 8.34M567.3 153.8l8.34 8.34m0-8.34l-8.34 8.34M568.3 153.2l8.34 8.34m0-8.34l-8.34 8.34M569.3 152.6l8.34 8.34m0-8.34l-8.34 8.34M570.3 151.9l8.34 8.34m0-8.34l-8.34 8.34M571.3 151.2l8.34 8.34m0-8.34l-8.34 8.34M572.3 150.6l8.34 8.34m0-8.34l-8.34 8.34M573.2 150.0l8.34 8.34m0-8.34l-8.34 8.34M574.2 149.4l8.34 8.34m0-8.34l-8.34 8.34M575.2 148.7l8.34 8.34m0-8.34l-8.34 8.34M576.2 148.1l8.34 8.34m0-8.34l-8.34 8.34M577.2 147.5l8.34 8.34m0-8.34l-8.34 8.34M578.1 146.8l8.34 8.34m0-8.34l-8.34 8.34M579.1 146.2l8.34 8.34m0-8.34l-8.34 8.34M580.1 145.6l8.34 8.34m0-8.34l-8.34 8.34M581.1 144.9l8.34 8.34m0-8.34l-8.34 8.34M582.1 144.3l8.34 8.34m0-8.34l-8.34 8.34M583.0 143.7l8.34 8.34m0-8.34l-8.34 8.34M583.9 143.1l8.34 8.34m0-8.34l-8.34 8.34M585.0 142.4l8.34 8.34m0-8.34l-8.34 8.34M585.9 141.8l8.34 8.34m0-8.34l-8.34 8.34M586.9 141.2l8.34 8.34m0-8.34l-8.34 8.34M587.8 140.6l8.34 8.34m0-8.34l-8.34 8.34M588.9 139.9l8.34 8.34m0-8.34l-8.34 8.34M589.8 139.3l8.34 8.34m0-8.34l-8.34 8.34M590.8 138.7l8.34 8.34m0-8.34l-8.34 8.34M591.7 138.1l8.34 8.34m0-8.34l-8.34 8.34M592.7 137.4l8.34 8.34m0-8.34l-8.34 8.34M593.7 136.8l8.34 8.34m0-8.34l-8.34 8.34M594.7 136.2l8.34 8.34m0-8.34l-8.34 8.34M595.6 135.6l8.34 8.34m0-8.34l-8.34 8.34M596.6 135.0l8.34 8.34m0-8.34l-8.34 8.34M597.6 134.3l8.34 8.34m0-8.34l-8.34 8.34M598.5 133.7l8.34 8.34m0-8.34l-8.34 8.34M599.5 133.1l8.34 8.34m0-8.34l-8.34 8.34M600.4 132.5l8.34 8.34m0-8.34l-8.34 8.34M601.4 131.9l8.34 8.34m0-8.34l-8.34 8.34M602.3 131.3l8.34 8.34m0-8.34l-8.34 8.34M603.3 130.7l8.34 8.34m0-8.34l-8.34 8.34M604.2 130.1l8.34 8.34m0-8.34l-8.34 8.34M605.2 129.5l8.34 8.34m0-8.34l-8.34 8.34M606.1 128.9l8.34 8.34m0-8.34l-8.34 8.34M607.1 128.3l8.34 8.34m0-8.34l-8.34 8.34M608.0 127.7l8.34 8.34m0-8.34l-8.34 8.34M609.0 127.0l8.34 8.34m0-8.34l-8.34 8.34M609.9 126.4l8.34 8.34m0-8.34l-8.34 8.34M610.4 126.1l8.34 8.34m0-8.34l-8.34 8.34" stroke="#ff7f0e" stroke-width="2.1" fill="none"/>
<path d="M306.1 359.6l8.34 8.34m0-8.34l-8.34 8.34M337.0 339.8l8.34 8.34m0-8.34l-8.34 8.34M355.2 331.4l8.34 8.34m0-8.34l-8.34 8.34M368.1 323.4l8.34 8.34m0-8.34l-8.34 8.34M378.1 317.2l8.34 8.34m0-8.34l-8.34 8.34M386.3 312.7l8.34 8.34m0-8.34l-8.34 8.34M393.2 309.2l8.34 8.34m0-8.34l-8.34 8.34M399.2 305.9l8.34 8.34m0-8.34l-8.34 8.34M404.5 302.8l8.34 8.34m0-8.34l-8.34 8.34M409.3 299.8l8.34 8.34m0-8.34l-8.34 8.34M413.5 297.0l8.34 8.34m0-8.34l-8.34 8.34M417.5 294.5l8.34 8.34m0-8.34l-8.34 8.34M421.0 292.2l8.34 8.34m0-8.34l-8.34 8.34M424.4 290.1l8.34 8.34m0-8.34l-8.34 8.34M427.5 288.2l8.34 8.34m0-8.34l-8.34 8.34M430.4 286.4l8.34 8.34m0-8.34l-8.34 8.34M433.1 284.7l8.34 8.34m0-8.34l-8.34 8.34M435.7 283.1l8.34 8.34m0-8.34l-8.34 8.34M438.1 281.7l8.34 8.34m0-8.34l-8.34 8.34M440.4 280.3l8.34 8.34m0-8.34l-8.34 8.34M442.6 279.0l8.34 8.34m0-8.34l-8.34 8.34M444.7 277.7l8.34 8.34m0-8.34l-8.34 8.34M446.7 276.5l8.34 8.34m0-8.34l-8.34 8.34M448.6 275.4l8.34 8.34m0-8.34l-8.34 8.34M450.5 274.3l8.34 8.34m0-8.34l-8.34 8.34M452.2 273.2l8.34 8.34m0-8.34l-8.34 8.34M453.9 272.2l8.34 8.34m0-8.34l-8.34 8.34M455.6 271.2l8.34 8.34m0-8.34l-8.34 8.34M457.1 270.3l8.34 8.34m0-8.34l-8.34 8.34M458.7 269.3l8.34 8.34m0-8.34l-8.34 8.34M460.1 268.5l8.34 8.34m0-8.34l-8.34 8.34M461.6 267.6l8.34 8.34m0-8.34l-8.34 8.34M462.9 266.8l8.34 8.34m0-8.34l-8.34 8.34M464.3 266.0l8.34 8.34m0-8.34l-8.34 8.34M465.6 265.2l8.34 8.34m0-8.34l-8.34 8.34M466.9 264.4l8.34 8.34m0-8.34l-8.34 8.34M468.1 263.7l8.34 8.34m0-8.34l-8.34 8.34M469.3 263.0l8.34 8.34m0-8.34l-8.34 8.34M470.5 262.3l8.34 8.34m0-8.34l-8.34 8.34M471.6 261.6l8.34 8.34m0-8.34l-8.34 8.34M472.7 260.9l8.34 8.34m0-8.34l-8.34 8.34M473.8 260.3l8.34 8.34m0-8.34l-8.34 8.34M474.8 259.7l8.34 8.34m0-8.34l-8.34 8.34M475.9 259.1l8.34 8.34m0-8.34l-8.34 8.34M476.9 258.5l8.34 8.34m0-8.34l-8.34 8.34M477.9 257.9l8.34 8.34m0-8.34l-8.34 8.34M478.8 257.3l8.34 8.34m0-8.34l-8.34 8.34M479.8 256.7l8.34 8.34m0-8.34l-8.34 8.34M481.6 255.6l8.34 8.34m0-8.34l-8.34 8.34M483.4 254.6l8.34 8.34m0-8.34l-8.34 8.34M485.1 253.6l8.34 8.34m0-8.34l-8.34 8.34M486.7 252.6l8.34 8.34m0-8.34l-8.34 8.34M488.3 251.7l8.34 8.34m0-8.34l-8.34 8.34M489.8 250.8l8.34 8.34m0-8.34l-8.34 8.34M491.3 250.0l8.34 8.34m0-8.34l-8.34 8.34M492.7 249.1l8.34 8.34m0-8.34l-8.34 8.34M494.1 248.3l8.34 8.34m0-8.34l-8.34 8.34M495.5 247.5l8.34 8.34m0-8.34l-8.34 8.34M496.8 246.8l8.34 8.34m0-8.34l-8.34 8.34M498.0 246.0l8.34 8.34m0-8.34l-8.34 8.34M499.3 245.3l8.34 8.34m0-8.34l-8.34 8.34M500.5 244.6l8.34 8.34m0-8.34l-8.34 8.34M501.6 243.9l8.34 8.34m0-8.34l-8.34 8.34M502.8 243.3l8.34 8.34m0-8.34l-8.34 8.34M503.9 242.6l8.34 8.34m0-8.34l-8.34 8.34M505.0 242.0l8.34 8.34m0-8.34l-8.34 8.34M506.0 241.4l8.34 8.34m0-8.34l-8.34 8.34M507.1 240.8l8.34 8.34m0-8.34l-8.34 8.34M508.1 240.2l8.34 8.34m0-8.34l-8.34 8.34M509.1 239.6l8.34 8.34m0-8.34l-8.34 8.34M510.0 239.1l8.34 8.34m0-8.34l-8.34 8.34M511.4 238.3l8.34 8.34m0-8.34l-8.34 8.34M512.8 237.5l8.34 8.34m0-8.34l-8.34 8.34M514.1 236.7l8.34 8.34m0-8.34l-8.34 8.34M515.4 236.0l8.34 8.34m0-8.34l-8.34 8.34M516.7 235.3l8.34 8.34m0-8.34l-8.34 8.34M517.9 234.6l8.34 8.34m0-8.34l-8.34 8.34M519.1 233.9l8.34 8.34m0-8.34l-8.34 8.34M520.3 233.2l8.34 8.34m0-8.34l-8.34 8.34M521.4 232.6l8.34 8.34m0-8.34l-8.34 8.34M522.5 232.0l8.34 8.34m0-8.34l-8.34 8.34M523.6 231.4l8.34 8.34m0-8.34l-8.34 8.34M524.6 230.8l8.34 8.34m0-8.34l-8.34 8.34M525.6 230.2l8.34 8.34m0-8.34l-8.34 8.34M526.6 229.6l8.34 8.34m0-8.34l-8.34 8.34M527.6 229.1l8.34 8.34m0-8.34l-8.34 8.34M528.6 228.5l8.34 8.34m0-8.34l-8.34 8.34M529.8 227.8l8.34 8.34m0-8.34l-8.34 8.34M531.1 227.1l8.34 8.34m0-8.34l-8.34 8.34M532.2 226.5l8.34 8.34m0-8.34l-8.34 8.34M533.4 225.8l8.34 8.34m0-8.34l-8.34 8.34M534.5 225.2l8.34 8.34m0-8.34l-8.34 8.34M535.6 224.6l8.34 8.34m0-8.34l-8.34 8.34M536.7 224.0l8.34 8.34m0-8.34l-8.34 8.34M537.7 223.4l8.34 8.34m0-8.34l-8.34 8.34M538.8 222.8l8.34 8.34m0-8.34l-8.34 8.34M539.8 222.3l8.34 8.34m0-8.34l-8.34 8.34M540.7 221.7l8.34 8.34m0-8.34l-8.34 8.34M541.9 221.1l8.34 8.34m0-8.34l-8.34 8.34M543.1 220.4l8.34 8.34m0-8.34l-8.34 8.34M544.2 219.8l8.34 8.34m0-8.34l-8.34 8.34M545.3 219.2l8.34 8.34m0-8.34l-8.34 8.34M546.4 218.6l8.34 8.34m0-8.34l-8.34 8.34M547.5 218.0l8.34 8.34m0-8.34l-8.34 8.34M548.5 217.4l8.34 8.34m0-8.34l-8.34 8.34M549.5 216.9l8.34 8.34m0-8.34l-8.34 8.34M550.5 216.4l8.34 8.34m0-8.34l-8.34 8.34M551.6 215.7l8.34 8.34m0-8.34l-8.34 8.34M552.8 215.1l8.34 8.34m0-8.34l-8.34 8.34M553.9 214.5l8.34 8.34m0-8.34l-8.34 8.34M554.9 213.9l8.34 8.34m0-8.34l-8.34 8.34M556.0 213.3l8.34 8.34m0-8.34l-8.34 8.34M557.0 212.8l8.34 8.34m0-8.34l-8.34 8.34M558.0 212.2l8.34 8.34m0-8.34l-8.34 8.34M559.0 211.7l8.34 8.34m0-8.34l-8.34 8.34M560.1 211.1l8.34 8.34m0-8.34l-8.34 8.34M561.2 210.5l8.34 8.34m0-8.34l-8.34 8.34M562.2 209.9l8.34 8.34m0-8.34l-8.34 8.34M563.3 209.4l8.34 8.34m0-8.34l-8.34 8.34M564.3 208.8l8.34 8.34m0-8.34l-8.34 8.34M565.3 208.3l8.34 8.34m0-8.34l-8.34 8.34M566.3 207.8l8.34 8.34m0-8.34l-8.34 8.34M567.3 207.2l8.34 8.34m0-8.34l-8.34 8.34M568.4 206.6l8.34 8.34m0-8.34l-8.34 8.34M569.4 206.1l8.34 8.34m0-8.34l-8.34 8.34M570.4 205.5l8.34 8.34m0-8.34l-8.34 8.34M571.4 205.0l8.34 8.34m0-8.34l-8.34 8.34M572.5 204.4l8.34 8.34m0-8.34l-8.34 8.34M573.6 203.8l8.34 8.34m0-8.34l-8.34 8.34M574.6 203.3l8.34 8.34m0-8.34l-8.34 8.34M575.6 202.7l8.34 8.34m0-8.34l-8.34 8.34M576.6 202.2l8.34 8.34m0-8.34l-8.34 8.34M577.6 201.7l8.34 8.34m0-8.34l-8.34 8.34M578.6 201.1l8.34 8.34m0-8.34l-8.34 8.34M579.7 200.6l8.34 8.34m0-8.34l-8.34 8.34M580.7 200.0l8.34 8.34m0-8.34l-8.34 8.34M581.7 199.5l8.34 8.34m0-8.34l-8.34 8.34M582.7 198.9l8.34 8.34m0-8.34l-8.34 8.34M583.8 198.4l8.34 8.34m0-8.34l-8.34 8.34M584.8 197.8l8.34 8.34m0-8.34l-8.34 8.34M585.8 197.3l8.34 8.34m0-8.34l-8.34 8.34M586.8 196.8l8.34 8.34m0-8.34l-8.34 8.34M587.8 196.2l8.34 8.34m0-8.34l-8.34 8.34M588.9 195.7l8.34 8.34m0-8.34l-8.34 8.34M589.8 195.1l8.34 8.34m0-8.34l-8.34 8.34M590.9 194.6l8.34 8.34m0-8.34l-8.34 8.34M591.9 194.1l8.34 8.34m0-8.34l-8.34 8.34M592.9 193.5l8.34 8.34m0-8.34l-8.34 8.34M593.9 193.0l8.34 8.34m0-8.34l-8.34 8.34M594.9 192.5l8.34 8.34m0-8.34l-8.34 8.34M595.9 191.9l8.34 8.34m0-8.34l-8.34 8.34M596.9 191.4l8.34 8.34m0-8.34l-8.34 8.34M597.9 190.9l8.34 8.34m0-8.34l-8.34 8.34M598.9 190.3l8.34 8.34m0-8.34l-8.34 8.34M599.9 189.8l8.34 8.34m0-8.34l-8.34 8.34M600.9 189.3l8.34 8.34m0-8.34l-8.34 8.34M601.9 188.7l8.34 8.34m0-8.34l-8.34 8.34M602.9 188.2l8.34 8.34m0-8.34l-8.34 8.34M603.9 187.7l8.34 8.34m0-8.34l-8.34 8.34M604.9 187.1l8.34 8.34m0-8.34l-8.34 8.34M605.9 186.6l8.34 8.34m0-8.34l-8.34 8.34M606.9 186.1l8.34 8.34m0-8.34l-8.34 8.34M607.9 185.6l8.34 8.34m0-8.34l-8.34 8.34M608.9 185.0l8.34 8.34m0-8.34l-8.34 8.34M609.9 184.5l8.34 8.34m0-8.34l-8.34 8.34M610.4 184.3l8.34 8.34m0-8.34l-8.34 8.34" stroke="#ff7f0e" stroke-width="2.1" fill="none"/>
</g>
<path d="M79.50 35.5V456.1M86.50 35.5V456.1M92.50 35.5V456.1M97.50 35.5V456.1M102.50 35.5V456.1M133.50 35.5V456.1M152.50 35.5V456.1M164.50 35.5V456.1M174.50 35.5V456.1M183.50 35.5V456.1M190.50 35.5V456.1M196.50 35.5V456.1M201.50 35.5V456.1M206.50 35.5V456.1M237.50 35.5V456.1M255.50 35.5V456.1M268.50 35.5V456.1M278.50 35.5V456.1M286.50 35.5V456.1M293.50 35.5V456.1M299.50 35.5V456.1M305.50 35.5V456.1M309.50 35.5V456.1M340.50 35.5V456.1M359.50 35.5V456.1M372.50 35.5V456.1M382.50 35.5V456.1M390.50 35.5V456.1M397.50 35.5V456.1M403.50 35.5V456.1M408.50 35.5V456.1M413.50 35.5V456.1M444.50 35.5V456.1M462.50 35.5V456.1M475.50 35.5V456.1M485.50 35.5V456.1M493.50 35.5V456.1M500.50 35.5V456.1M506.50 35.5V456.1M512.50 35.5V456.1M516.50 35.5V456.1M548.50 35.5V456.1M566.50 35.5V456.1M579.50 35.5V456.1M589.50 35.5V456.1M597.50 35.5V456.1M604.50 35.5V456.1M610.50 35.5V456.1M615.50 35.5V456.1M620.50 35.5V456.1M76.95 428.50H640.15M76.95 358.50H640.15M76.95 289.50H640.15M76.95 219.50H640.15M76.95 149.50H640.15M76.95 80.50H640.15" stroke="#b0b0b0" stroke-width="1.0" fill="none"/>
<path d="M79.50 456.1v2.8M86.50 456.1v2.8M92.50 456.1v2.8M97.50 456.1v2.8M102.50 456.1v4.9M133.50 456.1v2.8M152.50 456.1v2.8M164.50 456.1v2.8M174.50 456.1v2.8M183.50 456.1v2.8M190.50 456.1v2.8M196.50 456.1v2.8M201.50 456.1v2.8M206.50 456.1v4.9M237.50 456.1v2.8M255.50 456.1v2.8M268.50 456.1v2.8M278.50 456.1v2.8M286.50 456.1v2.8M293.50 456.1v2.8M299.50 456.1v2.8M305.50 456.1v2.8M309.50 456.1v4.9M340.50 456.1v2.8M359.50 456.1v2.8M372.50 456.1v2.8M382.50 456.1v2.8M390.50 456.1v2.8M397.50 456.1v2.8M403.50 456.1v2.8M408.50 456.1v2.8M413.50 456.1v4.9M444.50 456.1v2.8M462.50 456.1v2.8M475.50 456.1v2.8M485.50 456.1v2.8M493.50 456.1v2.8M500.50 456.1v2.8M506.50 456.1v2.8M512.50 456.1v2.8M516.50 456.1v4.9M548.50 456.1v2.8M566.50 456.1v2.8M579.50 456.1v2.8M589.50 456.1v2.8M597.50 456.1v2.8M604.50 456.1v2.8M610.50 456.1v2.8M615.50 456.1v2.8M620.50 456.1v4.9M76.95 428.50h-4.9M76.95 358.50h-4.9M76.95 289.50h-4.9M76.95 219.50h-4.9M76.95 149.50h-4.9M76.95 80.50h-4.9" stroke="#000" stroke-width="1.1" fill="none"/>
<rect x="76.95" y="35.5" width="563.1999999999999" height="420.6" fill="none" stroke="#000" stroke-width="1.25"/>
<g font-family="DejaVu Sans, Liberation Sans, sans-serif" fill="#000">
<text x="321.2" y="27.6" font-size="25" textLength="73.7" lengthAdjust="spacingAndGlyphs">Aging</text>
<text x="359.2" y="507.7" font-size="21.4" text-anchor="middle">Time in Hours</text>
<text transform="translate(32.9,249.2) rotate(-90)" font-size="21.3" text-anchor="middle">ppm</text>
<text x="68.2" y="435.5" font-size="21.3" text-anchor="end">0</text>
<text x="68.2" y="365.9" font-size="21.3" text-anchor="end">2</text>
<text x="68.2" y="296.3" font-size="21.3" text-anchor="end">4</text>
<text x="68.2" y="226.7" font-size="21.3" text-anchor="end">6</text>
<text x="68.2" y="157.1" font-size="21.3" text-anchor="end">8</text>
<text x="68.2" y="87.5" font-size="21.3" text-anchor="end">10</text>
<text x="84.4" y="481.7" font-size="21.3">10<tspan font-size="15.5" dy="-8.8">0</tspan></text>
<text x="188.0" y="481.7" font-size="21.3">10<tspan font-size="15.5" dy="-8.8">1</tspan></text>
<text x="291.6" y="481.7" font-size="21.3">10<tspan font-size="15.5" dy="-8.8">2</tspan></text>
<text x="395.2" y="481.7" font-size="21.3">10<tspan font-size="15.5" dy="-8.8">3</tspan></text>
<text x="498.8" y="481.7" font-size="21.3">10<tspan font-size="15.5" dy="-8.8">4</tspan></text>
<text x="602.4" y="481.7" font-size="21.3">10<tspan font-size="15.5" dy="-8.8">5</tspan></text>
</g>
<rect x="96.4" y="40.9" width="373.6" height="142.4" fill="#fff"/>
<rect x="97.9" y="43.1" width="110.1" height="44.3" fill="#dd0000"/>
<rect x="210.2" y="43.1" width="84.6" height="44.3" fill="#dd0000"/>
<rect x="297.3" y="43.1" width="77.2" height="44.3" fill="#dd0000"/>
<rect x="377.0" y="43.1" width="90.9" height="44.3" fill="#dd0000"/>
<rect x="97.9" y="93.2" width="110.1" height="43.8" fill="#f4cbcb"/>
<rect x="210.2" y="93.2" width="84.6" height="43.8" fill="#f4cbcb"/>
<rect x="297.3" y="93.2" width="77.2" height="43.8" fill="#f4cbcb"/>
<rect x="377.0" y="93.2" width="90.9" height="43.8" fill="#f4cbcb"/>
<rect x="97.9" y="139.0" width="110.1" height="42.3" fill="#fae7e7"/>
<rect x="210.2" y="139.0" width="84.6" height="42.3" fill="#fae7e7"/>
<rect x="297.3" y="139.0" width="77.2" height="42.3" fill="#fae7e7"/>
<rect x="377.0" y="139.0" width="90.9" height="42.3" fill="#fae7e7"/>
<g font-family="Liberation Sans, Arial, sans-serif" font-size="21.33">
<text x="113.2" y="70.6" fill="#fff" font-weight="bold" textLength="78.6" lengthAdjust="spacingAndGlyphs"># Years</text>
<text x="224.5" y="70.6" fill="#fff" font-weight="bold" textLength="56.4" lengthAdjust="spacingAndGlyphs">Mean</text>
<text x="323.8" y="70.6" fill="#fff" font-weight="bold" textLength="26.5" lengthAdjust="spacingAndGlyphs">1<tspan font-family="DejaVu Serif, Liberation Serif, serif" font-weight="normal" font-size="22" stroke="#fff" stroke-width="0.55">σ</tspan></text>
<text x="393.9" y="70.6" fill="#fff" font-weight="bold" textLength="57.6" lengthAdjust="spacingAndGlyphs">4.22<tspan font-family="DejaVu Serif, Liberation Serif, serif" font-weight="normal" font-size="22" stroke="#fff" stroke-width="0.55">σ</tspan></text>
</g>
<g font-family="Liberation Sans, Arial, sans-serif" font-size="21.33" text-anchor="middle" letter-spacing="0.6">
<text x="153.2" y="118.6" fill="#000">1</text>
<text x="252.8" y="118.6" fill="#000">6.67</text>
<text x="336.2" y="118.6" fill="#000">0.41</text>
<text x="422.8" y="118.6" fill="#000">1.74</text>
<text x="153.2" y="166.7" fill="#000">10</text>
<text x="252.8" y="166.7" fill="#000">9</text>
<text x="336.2" y="166.7" fill="#000">0.61</text>
<text x="422.8" y="166.7" fill="#000">2.56</text>
</g>
<path d="M0 0H686V516H0Z M2.1 2.1V513.7H683.6V2.1Z" fill="#dd0000" fill-rule="evenodd"/>
</svg>
</body></html>
